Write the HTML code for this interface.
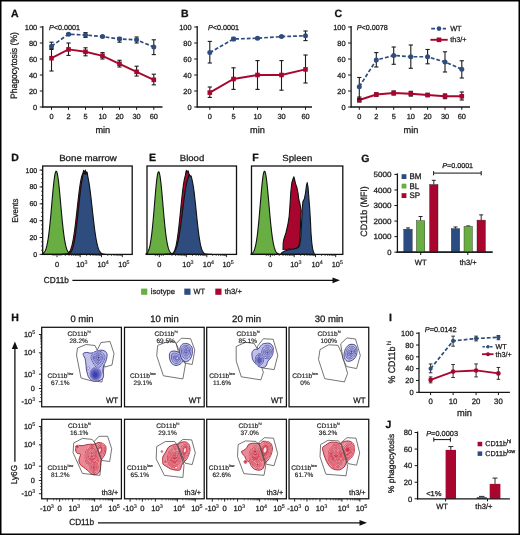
<!DOCTYPE html>
<html><head><meta charset="utf-8"><style>
html,body{margin:0;padding:0;background:#fff;}
svg{display:block;will-change:transform;}
text{font-family:"Liberation Sans", sans-serif;text-rendering:geometricPrecision;}
</style></head><body>
<svg width="520" height="535" viewBox="0 0 520 535">
<rect x="0" y="0" width="520" height="535" fill="#fff"/>
<text x="11.00" y="16.70" font-size="10.5" text-anchor="start" fill="#111" stroke="#111" stroke-width="0.28" font-weight="bold" >A</text>
<line x1="42.80" y1="26.00" x2="42.80" y2="107.60" stroke="#151515" stroke-width="1.3" />
<line x1="42.20" y1="107.00" x2="162.50" y2="107.00" stroke="#151515" stroke-width="1.3" />
<line x1="39.80" y1="107.00" x2="42.80" y2="107.00" stroke="#151515" stroke-width="1.0" />
<text x="37.20" y="109.65" font-size="7.4" text-anchor="end" fill="#1c1c1c" stroke="#1c1c1c" stroke-width="0.26" >0</text>
<line x1="39.80" y1="91.00" x2="42.80" y2="91.00" stroke="#151515" stroke-width="1.0" />
<text x="37.20" y="93.65" font-size="7.4" text-anchor="end" fill="#1c1c1c" stroke="#1c1c1c" stroke-width="0.26" >20</text>
<line x1="39.80" y1="75.00" x2="42.80" y2="75.00" stroke="#151515" stroke-width="1.0" />
<text x="37.20" y="77.65" font-size="7.4" text-anchor="end" fill="#1c1c1c" stroke="#1c1c1c" stroke-width="0.26" >40</text>
<line x1="39.80" y1="59.00" x2="42.80" y2="59.00" stroke="#151515" stroke-width="1.0" />
<text x="37.20" y="61.65" font-size="7.4" text-anchor="end" fill="#1c1c1c" stroke="#1c1c1c" stroke-width="0.26" >60</text>
<line x1="39.80" y1="43.00" x2="42.80" y2="43.00" stroke="#151515" stroke-width="1.0" />
<text x="37.20" y="45.65" font-size="7.4" text-anchor="end" fill="#1c1c1c" stroke="#1c1c1c" stroke-width="0.26" >80</text>
<line x1="39.80" y1="27.00" x2="42.80" y2="27.00" stroke="#151515" stroke-width="1.0" />
<text x="37.20" y="29.65" font-size="7.4" text-anchor="end" fill="#1c1c1c" stroke="#1c1c1c" stroke-width="0.26" >100</text>
<line x1="51.50" y1="107.00" x2="51.50" y2="109.80" stroke="#151515" stroke-width="1.0" />
<text x="51.50" y="119.40" font-size="7.4" text-anchor="middle" fill="#1c1c1c" stroke="#1c1c1c" stroke-width="0.26" >0</text>
<line x1="68.50" y1="107.00" x2="68.50" y2="109.80" stroke="#151515" stroke-width="1.0" />
<text x="68.50" y="119.40" font-size="7.4" text-anchor="middle" fill="#1c1c1c" stroke="#1c1c1c" stroke-width="0.26" >2</text>
<line x1="85.50" y1="107.00" x2="85.50" y2="109.80" stroke="#151515" stroke-width="1.0" />
<text x="85.50" y="119.40" font-size="7.4" text-anchor="middle" fill="#1c1c1c" stroke="#1c1c1c" stroke-width="0.26" >5</text>
<line x1="102.50" y1="107.00" x2="102.50" y2="109.80" stroke="#151515" stroke-width="1.0" />
<text x="102.50" y="119.40" font-size="7.4" text-anchor="middle" fill="#1c1c1c" stroke="#1c1c1c" stroke-width="0.26" >10</text>
<line x1="119.50" y1="107.00" x2="119.50" y2="109.80" stroke="#151515" stroke-width="1.0" />
<text x="119.50" y="119.40" font-size="7.4" text-anchor="middle" fill="#1c1c1c" stroke="#1c1c1c" stroke-width="0.26" >20</text>
<line x1="136.60" y1="107.00" x2="136.60" y2="109.80" stroke="#151515" stroke-width="1.0" />
<text x="136.60" y="119.40" font-size="7.4" text-anchor="middle" fill="#1c1c1c" stroke="#1c1c1c" stroke-width="0.26" >30</text>
<line x1="153.80" y1="107.00" x2="153.80" y2="109.80" stroke="#151515" stroke-width="1.0" />
<text x="153.80" y="119.40" font-size="7.4" text-anchor="middle" fill="#1c1c1c" stroke="#1c1c1c" stroke-width="0.26" >60</text>
<text x="102.80" y="133.00" font-size="9.2" text-anchor="middle" fill="#1c1c1c" stroke="#1c1c1c" stroke-width="0.28" >min</text>
<text x="49.00" y="29.60" font-size="7.2" text-anchor="start" fill="#1c1c1c" stroke="#1c1c1c" stroke-width="0.26" ><tspan font-style="italic">P</tspan>&lt;0.0001</text>
<line x1="51.50" y1="49.40" x2="51.50" y2="71.00" stroke="#1a1a1a" stroke-width="1.1" />
<line x1="49.40" y1="49.40" x2="53.60" y2="49.40" stroke="#1a1a1a" stroke-width="1.1" />
<line x1="49.40" y1="71.00" x2="53.60" y2="71.00" stroke="#1a1a1a" stroke-width="1.1" />
<line x1="68.50" y1="43.00" x2="68.50" y2="55.40" stroke="#1a1a1a" stroke-width="1.1" />
<line x1="66.40" y1="43.00" x2="70.60" y2="43.00" stroke="#1a1a1a" stroke-width="1.1" />
<line x1="66.40" y1="55.40" x2="70.60" y2="55.40" stroke="#1a1a1a" stroke-width="1.1" />
<line x1="85.50" y1="47.80" x2="85.50" y2="55.80" stroke="#1a1a1a" stroke-width="1.1" />
<line x1="83.40" y1="47.80" x2="87.60" y2="47.80" stroke="#1a1a1a" stroke-width="1.1" />
<line x1="83.40" y1="55.80" x2="87.60" y2="55.80" stroke="#1a1a1a" stroke-width="1.1" />
<line x1="102.50" y1="52.60" x2="102.50" y2="59.00" stroke="#1a1a1a" stroke-width="1.1" />
<line x1="100.40" y1="52.60" x2="104.60" y2="52.60" stroke="#1a1a1a" stroke-width="1.1" />
<line x1="100.40" y1="59.00" x2="104.60" y2="59.00" stroke="#1a1a1a" stroke-width="1.1" />
<line x1="119.50" y1="60.28" x2="119.50" y2="67.00" stroke="#1a1a1a" stroke-width="1.1" />
<line x1="117.40" y1="60.28" x2="121.60" y2="60.28" stroke="#1a1a1a" stroke-width="1.1" />
<line x1="117.40" y1="67.00" x2="121.60" y2="67.00" stroke="#1a1a1a" stroke-width="1.1" />
<line x1="136.60" y1="66.20" x2="136.60" y2="76.04" stroke="#1a1a1a" stroke-width="1.1" />
<line x1="134.50" y1="66.20" x2="138.70" y2="66.20" stroke="#1a1a1a" stroke-width="1.1" />
<line x1="134.50" y1="76.04" x2="138.70" y2="76.04" stroke="#1a1a1a" stroke-width="1.1" />
<line x1="153.80" y1="74.20" x2="153.80" y2="84.84" stroke="#1a1a1a" stroke-width="1.1" />
<line x1="151.70" y1="74.20" x2="155.90" y2="74.20" stroke="#1a1a1a" stroke-width="1.1" />
<line x1="151.70" y1="84.84" x2="155.90" y2="84.84" stroke="#1a1a1a" stroke-width="1.1" />
<path d="M51.50,58.20 L68.50,49.40 L85.50,51.80 L102.50,55.80 L119.50,63.80 L136.60,71.80 L153.80,79.80" fill="none" stroke="#a8062e" stroke-width="1.9"/>
<rect x="49.20" y="55.90" width="4.60" height="4.60" fill="#a8062e"/>
<rect x="66.20" y="47.10" width="4.60" height="4.60" fill="#a8062e"/>
<rect x="83.20" y="49.50" width="4.60" height="4.60" fill="#a8062e"/>
<rect x="100.20" y="53.50" width="4.60" height="4.60" fill="#a8062e"/>
<rect x="117.20" y="61.50" width="4.60" height="4.60" fill="#a8062e"/>
<rect x="134.30" y="69.50" width="4.60" height="4.60" fill="#a8062e"/>
<rect x="151.50" y="77.50" width="4.60" height="4.60" fill="#a8062e"/>
<line x1="51.50" y1="42.20" x2="51.50" y2="48.60" stroke="#1a1a1a" stroke-width="1.1" />
<line x1="49.40" y1="42.20" x2="53.60" y2="42.20" stroke="#1a1a1a" stroke-width="1.1" />
<line x1="49.40" y1="48.60" x2="53.60" y2="48.60" stroke="#1a1a1a" stroke-width="1.1" />
<line x1="68.50" y1="33.40" x2="68.50" y2="35.00" stroke="#1a1a1a" stroke-width="1.1" />
<line x1="66.40" y1="33.40" x2="70.60" y2="33.40" stroke="#1a1a1a" stroke-width="1.1" />
<line x1="66.40" y1="35.00" x2="70.60" y2="35.00" stroke="#1a1a1a" stroke-width="1.1" />
<line x1="85.50" y1="32.60" x2="85.50" y2="37.40" stroke="#1a1a1a" stroke-width="1.1" />
<line x1="83.40" y1="32.60" x2="87.60" y2="32.60" stroke="#1a1a1a" stroke-width="1.1" />
<line x1="83.40" y1="37.40" x2="87.60" y2="37.40" stroke="#1a1a1a" stroke-width="1.1" />
<line x1="102.50" y1="35.80" x2="102.50" y2="37.40" stroke="#1a1a1a" stroke-width="1.1" />
<line x1="100.40" y1="35.80" x2="104.60" y2="35.80" stroke="#1a1a1a" stroke-width="1.1" />
<line x1="100.40" y1="37.40" x2="104.60" y2="37.40" stroke="#1a1a1a" stroke-width="1.1" />
<line x1="119.50" y1="37.40" x2="119.50" y2="42.20" stroke="#1a1a1a" stroke-width="1.1" />
<line x1="117.40" y1="37.40" x2="121.60" y2="37.40" stroke="#1a1a1a" stroke-width="1.1" />
<line x1="117.40" y1="42.20" x2="121.60" y2="42.20" stroke="#1a1a1a" stroke-width="1.1" />
<line x1="136.60" y1="37.00" x2="136.60" y2="43.00" stroke="#1a1a1a" stroke-width="1.1" />
<line x1="134.50" y1="37.00" x2="138.70" y2="37.00" stroke="#1a1a1a" stroke-width="1.1" />
<line x1="134.50" y1="43.00" x2="138.70" y2="43.00" stroke="#1a1a1a" stroke-width="1.1" />
<line x1="153.80" y1="39.80" x2="153.80" y2="54.60" stroke="#1a1a1a" stroke-width="1.1" />
<line x1="151.70" y1="39.80" x2="155.90" y2="39.80" stroke="#1a1a1a" stroke-width="1.1" />
<line x1="151.70" y1="54.60" x2="155.90" y2="54.60" stroke="#1a1a1a" stroke-width="1.1" />
<path d="M51.50,46.20 L68.50,34.20 L85.50,35.00 L102.50,36.60 L119.50,39.00 L136.60,39.80 L153.80,47.00" fill="none" stroke="#2e4d7e" stroke-width="1.7" stroke-dasharray="3.8,2.0"/>
<circle cx="51.50" cy="46.20" r="2.5" fill="#2e4d7e"/>
<circle cx="68.50" cy="34.20" r="2.5" fill="#2e4d7e"/>
<circle cx="85.50" cy="35.00" r="2.5" fill="#2e4d7e"/>
<circle cx="102.50" cy="36.60" r="2.5" fill="#2e4d7e"/>
<circle cx="119.50" cy="39.00" r="2.5" fill="#2e4d7e"/>
<circle cx="136.60" cy="39.80" r="2.5" fill="#2e4d7e"/>
<circle cx="153.80" cy="47.00" r="2.5" fill="#2e4d7e"/>
<text x="17.40" y="65.60" font-size="9.3" text-anchor="middle" fill="#1c1c1c" stroke="#1c1c1c" stroke-width="0.28" textLength="67" lengthAdjust="spacingAndGlyphs" transform="rotate(-90 17.40 65.60)" >Phagocytosis (%)</text>
<text x="181.00" y="17.00" font-size="10.5" text-anchor="start" fill="#111" stroke="#111" stroke-width="0.28" font-weight="bold" >B</text>
<line x1="197.20" y1="26.00" x2="197.20" y2="107.60" stroke="#151515" stroke-width="1.3" />
<line x1="196.60" y1="107.00" x2="312.00" y2="107.00" stroke="#151515" stroke-width="1.3" />
<line x1="194.20" y1="107.00" x2="197.20" y2="107.00" stroke="#151515" stroke-width="1.0" />
<text x="191.60" y="109.65" font-size="7.4" text-anchor="end" fill="#1c1c1c" stroke="#1c1c1c" stroke-width="0.26" >0</text>
<line x1="194.20" y1="91.00" x2="197.20" y2="91.00" stroke="#151515" stroke-width="1.0" />
<text x="191.60" y="93.65" font-size="7.4" text-anchor="end" fill="#1c1c1c" stroke="#1c1c1c" stroke-width="0.26" >20</text>
<line x1="194.20" y1="75.00" x2="197.20" y2="75.00" stroke="#151515" stroke-width="1.0" />
<text x="191.60" y="77.65" font-size="7.4" text-anchor="end" fill="#1c1c1c" stroke="#1c1c1c" stroke-width="0.26" >40</text>
<line x1="194.20" y1="59.00" x2="197.20" y2="59.00" stroke="#151515" stroke-width="1.0" />
<text x="191.60" y="61.65" font-size="7.4" text-anchor="end" fill="#1c1c1c" stroke="#1c1c1c" stroke-width="0.26" >60</text>
<line x1="194.20" y1="43.00" x2="197.20" y2="43.00" stroke="#151515" stroke-width="1.0" />
<text x="191.60" y="45.65" font-size="7.4" text-anchor="end" fill="#1c1c1c" stroke="#1c1c1c" stroke-width="0.26" >80</text>
<line x1="194.20" y1="27.00" x2="197.20" y2="27.00" stroke="#151515" stroke-width="1.0" />
<text x="191.60" y="29.65" font-size="7.4" text-anchor="end" fill="#1c1c1c" stroke="#1c1c1c" stroke-width="0.26" >100</text>
<line x1="209.80" y1="107.00" x2="209.80" y2="109.80" stroke="#151515" stroke-width="1.0" />
<text x="209.80" y="119.40" font-size="7.4" text-anchor="middle" fill="#1c1c1c" stroke="#1c1c1c" stroke-width="0.26" >0</text>
<line x1="233.50" y1="107.00" x2="233.50" y2="109.80" stroke="#151515" stroke-width="1.0" />
<text x="233.50" y="119.40" font-size="7.4" text-anchor="middle" fill="#1c1c1c" stroke="#1c1c1c" stroke-width="0.26" >5</text>
<line x1="257.50" y1="107.00" x2="257.50" y2="109.80" stroke="#151515" stroke-width="1.0" />
<text x="257.50" y="119.40" font-size="7.4" text-anchor="middle" fill="#1c1c1c" stroke="#1c1c1c" stroke-width="0.26" >10</text>
<line x1="281.50" y1="107.00" x2="281.50" y2="109.80" stroke="#151515" stroke-width="1.0" />
<text x="281.50" y="119.40" font-size="7.4" text-anchor="middle" fill="#1c1c1c" stroke="#1c1c1c" stroke-width="0.26" >30</text>
<line x1="305.50" y1="107.00" x2="305.50" y2="109.80" stroke="#151515" stroke-width="1.0" />
<text x="305.50" y="119.40" font-size="7.4" text-anchor="middle" fill="#1c1c1c" stroke="#1c1c1c" stroke-width="0.26" >60</text>
<text x="257.50" y="133.00" font-size="9.2" text-anchor="middle" fill="#1c1c1c" stroke="#1c1c1c" stroke-width="0.28" >min</text>
<text x="208.00" y="29.60" font-size="7.2" text-anchor="start" fill="#1c1c1c" stroke="#1c1c1c" stroke-width="0.26" ><tspan font-style="italic">P</tspan>&lt;0.0001</text>
<line x1="209.80" y1="87.00" x2="209.80" y2="97.40" stroke="#1a1a1a" stroke-width="1.1" />
<line x1="207.70" y1="87.00" x2="211.90" y2="87.00" stroke="#1a1a1a" stroke-width="1.1" />
<line x1="207.70" y1="97.40" x2="211.90" y2="97.40" stroke="#1a1a1a" stroke-width="1.1" />
<line x1="233.50" y1="67.80" x2="233.50" y2="89.40" stroke="#1a1a1a" stroke-width="1.1" />
<line x1="231.40" y1="67.80" x2="235.60" y2="67.80" stroke="#1a1a1a" stroke-width="1.1" />
<line x1="231.40" y1="89.40" x2="235.60" y2="89.40" stroke="#1a1a1a" stroke-width="1.1" />
<line x1="257.50" y1="60.60" x2="257.50" y2="89.40" stroke="#1a1a1a" stroke-width="1.1" />
<line x1="255.40" y1="60.60" x2="259.60" y2="60.60" stroke="#1a1a1a" stroke-width="1.1" />
<line x1="255.40" y1="89.40" x2="259.60" y2="89.40" stroke="#1a1a1a" stroke-width="1.1" />
<line x1="281.50" y1="60.60" x2="281.50" y2="90.20" stroke="#1a1a1a" stroke-width="1.1" />
<line x1="279.40" y1="60.60" x2="283.60" y2="60.60" stroke="#1a1a1a" stroke-width="1.1" />
<line x1="279.40" y1="90.20" x2="283.60" y2="90.20" stroke="#1a1a1a" stroke-width="1.1" />
<line x1="305.50" y1="55.00" x2="305.50" y2="83.00" stroke="#1a1a1a" stroke-width="1.1" />
<line x1="303.40" y1="55.00" x2="307.60" y2="55.00" stroke="#1a1a1a" stroke-width="1.1" />
<line x1="303.40" y1="83.00" x2="307.60" y2="83.00" stroke="#1a1a1a" stroke-width="1.1" />
<path d="M209.80,92.60 L233.50,79.00 L257.50,75.00 L281.50,75.00 L305.50,69.40" fill="none" stroke="#a8062e" stroke-width="1.9"/>
<rect x="207.50" y="90.30" width="4.60" height="4.60" fill="#a8062e"/>
<rect x="231.20" y="76.70" width="4.60" height="4.60" fill="#a8062e"/>
<rect x="255.20" y="72.70" width="4.60" height="4.60" fill="#a8062e"/>
<rect x="279.20" y="72.70" width="4.60" height="4.60" fill="#a8062e"/>
<rect x="303.20" y="67.10" width="4.60" height="4.60" fill="#a8062e"/>
<line x1="209.80" y1="41.40" x2="209.80" y2="63.00" stroke="#1a1a1a" stroke-width="1.1" />
<line x1="207.70" y1="41.40" x2="211.90" y2="41.40" stroke="#1a1a1a" stroke-width="1.1" />
<line x1="207.70" y1="63.00" x2="211.90" y2="63.00" stroke="#1a1a1a" stroke-width="1.1" />
<line x1="233.50" y1="37.40" x2="233.50" y2="40.60" stroke="#1a1a1a" stroke-width="1.1" />
<line x1="231.40" y1="37.40" x2="235.60" y2="37.40" stroke="#1a1a1a" stroke-width="1.1" />
<line x1="231.40" y1="40.60" x2="235.60" y2="40.60" stroke="#1a1a1a" stroke-width="1.1" />
<line x1="257.50" y1="37.40" x2="257.50" y2="39.00" stroke="#1a1a1a" stroke-width="1.1" />
<line x1="255.40" y1="37.40" x2="259.60" y2="37.40" stroke="#1a1a1a" stroke-width="1.1" />
<line x1="255.40" y1="39.00" x2="259.60" y2="39.00" stroke="#1a1a1a" stroke-width="1.1" />
<line x1="281.50" y1="35.80" x2="281.50" y2="37.40" stroke="#1a1a1a" stroke-width="1.1" />
<line x1="279.40" y1="35.80" x2="283.60" y2="35.80" stroke="#1a1a1a" stroke-width="1.1" />
<line x1="279.40" y1="37.40" x2="283.60" y2="37.40" stroke="#1a1a1a" stroke-width="1.1" />
<line x1="305.50" y1="31.00" x2="305.50" y2="40.60" stroke="#1a1a1a" stroke-width="1.1" />
<line x1="303.40" y1="31.00" x2="307.60" y2="31.00" stroke="#1a1a1a" stroke-width="1.1" />
<line x1="303.40" y1="40.60" x2="307.60" y2="40.60" stroke="#1a1a1a" stroke-width="1.1" />
<path d="M209.80,52.60 L233.50,39.00 L257.50,38.20 L281.50,36.60 L305.50,35.80" fill="none" stroke="#2e4d7e" stroke-width="1.7" stroke-dasharray="3.8,2.0"/>
<circle cx="209.80" cy="52.60" r="2.5" fill="#2e4d7e"/>
<circle cx="233.50" cy="39.00" r="2.5" fill="#2e4d7e"/>
<circle cx="257.50" cy="38.20" r="2.5" fill="#2e4d7e"/>
<circle cx="281.50" cy="36.60" r="2.5" fill="#2e4d7e"/>
<circle cx="305.50" cy="35.80" r="2.5" fill="#2e4d7e"/>
<text x="334.50" y="17.00" font-size="10.5" text-anchor="start" fill="#111" stroke="#111" stroke-width="0.28" font-weight="bold" >C</text>
<line x1="351.10" y1="26.00" x2="351.10" y2="107.60" stroke="#151515" stroke-width="1.3" />
<line x1="350.50" y1="107.00" x2="470.00" y2="107.00" stroke="#151515" stroke-width="1.3" />
<line x1="348.10" y1="107.00" x2="351.10" y2="107.00" stroke="#151515" stroke-width="1.0" />
<text x="345.50" y="109.65" font-size="7.4" text-anchor="end" fill="#1c1c1c" stroke="#1c1c1c" stroke-width="0.26" >0</text>
<line x1="348.10" y1="91.00" x2="351.10" y2="91.00" stroke="#151515" stroke-width="1.0" />
<text x="345.50" y="93.65" font-size="7.4" text-anchor="end" fill="#1c1c1c" stroke="#1c1c1c" stroke-width="0.26" >20</text>
<line x1="348.10" y1="75.00" x2="351.10" y2="75.00" stroke="#151515" stroke-width="1.0" />
<text x="345.50" y="77.65" font-size="7.4" text-anchor="end" fill="#1c1c1c" stroke="#1c1c1c" stroke-width="0.26" >40</text>
<line x1="348.10" y1="59.00" x2="351.10" y2="59.00" stroke="#151515" stroke-width="1.0" />
<text x="345.50" y="61.65" font-size="7.4" text-anchor="end" fill="#1c1c1c" stroke="#1c1c1c" stroke-width="0.26" >60</text>
<line x1="348.10" y1="43.00" x2="351.10" y2="43.00" stroke="#151515" stroke-width="1.0" />
<text x="345.50" y="45.65" font-size="7.4" text-anchor="end" fill="#1c1c1c" stroke="#1c1c1c" stroke-width="0.26" >80</text>
<line x1="348.10" y1="27.00" x2="351.10" y2="27.00" stroke="#151515" stroke-width="1.0" />
<text x="345.50" y="29.65" font-size="7.4" text-anchor="end" fill="#1c1c1c" stroke="#1c1c1c" stroke-width="0.26" >100</text>
<line x1="359.30" y1="107.00" x2="359.30" y2="109.80" stroke="#151515" stroke-width="1.0" />
<text x="359.30" y="119.40" font-size="7.4" text-anchor="middle" fill="#1c1c1c" stroke="#1c1c1c" stroke-width="0.26" >0</text>
<line x1="376.30" y1="107.00" x2="376.30" y2="109.80" stroke="#151515" stroke-width="1.0" />
<text x="376.30" y="119.40" font-size="7.4" text-anchor="middle" fill="#1c1c1c" stroke="#1c1c1c" stroke-width="0.26" >2</text>
<line x1="393.70" y1="107.00" x2="393.70" y2="109.80" stroke="#151515" stroke-width="1.0" />
<text x="393.70" y="119.40" font-size="7.4" text-anchor="middle" fill="#1c1c1c" stroke="#1c1c1c" stroke-width="0.26" >5</text>
<line x1="410.80" y1="107.00" x2="410.80" y2="109.80" stroke="#151515" stroke-width="1.0" />
<text x="410.80" y="119.40" font-size="7.4" text-anchor="middle" fill="#1c1c1c" stroke="#1c1c1c" stroke-width="0.26" >10</text>
<line x1="427.60" y1="107.00" x2="427.60" y2="109.80" stroke="#151515" stroke-width="1.0" />
<text x="427.60" y="119.40" font-size="7.4" text-anchor="middle" fill="#1c1c1c" stroke="#1c1c1c" stroke-width="0.26" >20</text>
<line x1="445.00" y1="107.00" x2="445.00" y2="109.80" stroke="#151515" stroke-width="1.0" />
<text x="445.00" y="119.40" font-size="7.4" text-anchor="middle" fill="#1c1c1c" stroke="#1c1c1c" stroke-width="0.26" >30</text>
<line x1="461.80" y1="107.00" x2="461.80" y2="109.80" stroke="#151515" stroke-width="1.0" />
<text x="461.80" y="119.40" font-size="7.4" text-anchor="middle" fill="#1c1c1c" stroke="#1c1c1c" stroke-width="0.26" >60</text>
<text x="411.00" y="133.00" font-size="9.2" text-anchor="middle" fill="#1c1c1c" stroke="#1c1c1c" stroke-width="0.28" >min</text>
<text x="356.70" y="29.60" font-size="7.2" text-anchor="start" fill="#1c1c1c" stroke="#1c1c1c" stroke-width="0.26" ><tspan font-style="italic">P</tspan>&lt;0.0078</text>
<line x1="359.30" y1="97.00" x2="359.30" y2="102.00" stroke="#1a1a1a" stroke-width="1.1" />
<line x1="357.20" y1="97.00" x2="361.40" y2="97.00" stroke="#1a1a1a" stroke-width="1.1" />
<line x1="357.20" y1="102.00" x2="361.40" y2="102.00" stroke="#1a1a1a" stroke-width="1.1" />
<line x1="376.30" y1="92.84" x2="376.30" y2="96.20" stroke="#1a1a1a" stroke-width="1.1" />
<line x1="374.20" y1="92.84" x2="378.40" y2="92.84" stroke="#1a1a1a" stroke-width="1.1" />
<line x1="374.20" y1="96.20" x2="378.40" y2="96.20" stroke="#1a1a1a" stroke-width="1.1" />
<line x1="393.70" y1="91.00" x2="393.70" y2="95.00" stroke="#1a1a1a" stroke-width="1.1" />
<line x1="391.60" y1="91.00" x2="395.80" y2="91.00" stroke="#1a1a1a" stroke-width="1.1" />
<line x1="391.60" y1="95.00" x2="395.80" y2="95.00" stroke="#1a1a1a" stroke-width="1.1" />
<line x1="410.80" y1="91.32" x2="410.80" y2="96.12" stroke="#1a1a1a" stroke-width="1.1" />
<line x1="408.70" y1="91.32" x2="412.90" y2="91.32" stroke="#1a1a1a" stroke-width="1.1" />
<line x1="408.70" y1="96.12" x2="412.90" y2="96.12" stroke="#1a1a1a" stroke-width="1.1" />
<line x1="427.60" y1="93.40" x2="427.60" y2="96.60" stroke="#1a1a1a" stroke-width="1.1" />
<line x1="425.50" y1="93.40" x2="429.70" y2="93.40" stroke="#1a1a1a" stroke-width="1.1" />
<line x1="425.50" y1="96.60" x2="429.70" y2="96.60" stroke="#1a1a1a" stroke-width="1.1" />
<line x1="445.00" y1="93.88" x2="445.00" y2="98.68" stroke="#1a1a1a" stroke-width="1.1" />
<line x1="442.90" y1="93.88" x2="447.10" y2="93.88" stroke="#1a1a1a" stroke-width="1.1" />
<line x1="442.90" y1="98.68" x2="447.10" y2="98.68" stroke="#1a1a1a" stroke-width="1.1" />
<line x1="461.80" y1="92.00" x2="461.80" y2="100.00" stroke="#1a1a1a" stroke-width="1.1" />
<line x1="459.70" y1="92.00" x2="463.90" y2="92.00" stroke="#1a1a1a" stroke-width="1.1" />
<line x1="459.70" y1="100.00" x2="463.90" y2="100.00" stroke="#1a1a1a" stroke-width="1.1" />
<path d="M359.30,100.00 L376.30,94.52 L393.70,93.00 L410.80,93.72 L427.60,95.00 L445.00,96.28 L461.80,96.28" fill="none" stroke="#a8062e" stroke-width="1.9"/>
<rect x="357.00" y="97.70" width="4.60" height="4.60" fill="#a8062e"/>
<rect x="374.00" y="92.22" width="4.60" height="4.60" fill="#a8062e"/>
<rect x="391.40" y="90.70" width="4.60" height="4.60" fill="#a8062e"/>
<rect x="408.50" y="91.42" width="4.60" height="4.60" fill="#a8062e"/>
<rect x="425.30" y="92.70" width="4.60" height="4.60" fill="#a8062e"/>
<rect x="442.70" y="93.98" width="4.60" height="4.60" fill="#a8062e"/>
<rect x="459.50" y="93.98" width="4.60" height="4.60" fill="#a8062e"/>
<line x1="359.30" y1="77.48" x2="359.30" y2="99.00" stroke="#1a1a1a" stroke-width="1.1" />
<line x1="357.20" y1="77.48" x2="361.40" y2="77.48" stroke="#1a1a1a" stroke-width="1.1" />
<line x1="357.20" y1="99.00" x2="361.40" y2="99.00" stroke="#1a1a1a" stroke-width="1.1" />
<line x1="376.30" y1="52.60" x2="376.30" y2="67.00" stroke="#1a1a1a" stroke-width="1.1" />
<line x1="374.20" y1="52.60" x2="378.40" y2="52.60" stroke="#1a1a1a" stroke-width="1.1" />
<line x1="374.20" y1="67.00" x2="378.40" y2="67.00" stroke="#1a1a1a" stroke-width="1.1" />
<line x1="393.70" y1="47.00" x2="393.70" y2="64.28" stroke="#1a1a1a" stroke-width="1.1" />
<line x1="391.60" y1="47.00" x2="395.80" y2="47.00" stroke="#1a1a1a" stroke-width="1.1" />
<line x1="391.60" y1="64.28" x2="395.80" y2="64.28" stroke="#1a1a1a" stroke-width="1.1" />
<line x1="410.80" y1="45.00" x2="410.80" y2="68.28" stroke="#1a1a1a" stroke-width="1.1" />
<line x1="408.70" y1="45.00" x2="412.90" y2="45.00" stroke="#1a1a1a" stroke-width="1.1" />
<line x1="408.70" y1="68.28" x2="412.90" y2="68.28" stroke="#1a1a1a" stroke-width="1.1" />
<line x1="427.60" y1="49.48" x2="427.60" y2="63.80" stroke="#1a1a1a" stroke-width="1.1" />
<line x1="425.50" y1="49.48" x2="429.70" y2="49.48" stroke="#1a1a1a" stroke-width="1.1" />
<line x1="425.50" y1="63.80" x2="429.70" y2="63.80" stroke="#1a1a1a" stroke-width="1.1" />
<line x1="445.00" y1="51.80" x2="445.00" y2="72.00" stroke="#1a1a1a" stroke-width="1.1" />
<line x1="442.90" y1="51.80" x2="447.10" y2="51.80" stroke="#1a1a1a" stroke-width="1.1" />
<line x1="442.90" y1="72.00" x2="447.10" y2="72.00" stroke="#1a1a1a" stroke-width="1.1" />
<line x1="461.80" y1="60.76" x2="461.80" y2="78.00" stroke="#1a1a1a" stroke-width="1.1" />
<line x1="459.70" y1="60.76" x2="463.90" y2="60.76" stroke="#1a1a1a" stroke-width="1.1" />
<line x1="459.70" y1="78.00" x2="463.90" y2="78.00" stroke="#1a1a1a" stroke-width="1.1" />
<path d="M359.30,86.76 L376.30,60.00 L393.70,55.48 L410.80,56.76 L427.60,56.76 L445.00,62.00 L461.80,69.24" fill="none" stroke="#2e4d7e" stroke-width="1.7" stroke-dasharray="3.8,2.0"/>
<circle cx="359.30" cy="86.76" r="2.5" fill="#2e4d7e"/>
<circle cx="376.30" cy="60.00" r="2.5" fill="#2e4d7e"/>
<circle cx="393.70" cy="55.48" r="2.5" fill="#2e4d7e"/>
<circle cx="410.80" cy="56.76" r="2.5" fill="#2e4d7e"/>
<circle cx="427.60" cy="56.76" r="2.5" fill="#2e4d7e"/>
<circle cx="445.00" cy="62.00" r="2.5" fill="#2e4d7e"/>
<circle cx="461.80" cy="69.24" r="2.5" fill="#2e4d7e"/>
<line x1="431.2" y1="28.6" x2="446" y2="28.6" stroke="#2e4d7e" stroke-width="1.7" stroke-dasharray="3.8,2.0"/>
<circle cx="439" cy="28.6" r="2.3" fill="#2e4d7e"/>
<text x="450.20" y="31.20" font-size="7.3" text-anchor="start" fill="#1c1c1c" stroke="#1c1c1c" stroke-width="0.26" >WT</text>
<line x1="430.40" y1="39.80" x2="447.70" y2="39.80" stroke="#a8062e" stroke-width="1.9" />
<rect x="436.70" y="37.50" width="4.60" height="4.60" fill="#a8062e"/>
<text x="450.20" y="42.40" font-size="7.3" text-anchor="start" fill="#1c1c1c" stroke="#1c1c1c" stroke-width="0.26" >th3/+</text>
<text x="11.20" y="161.40" font-size="10.5" text-anchor="start" fill="#111" stroke="#111" stroke-width="0.28" font-weight="bold" >D</text>
<path d="M43.00,254.40 L43.00,253.48 L43.29,253.27 L43.58,253.04 L43.88,252.75 L44.17,252.42 L44.46,252.04 L44.75,251.58 L45.04,251.06 L45.33,250.46 L45.62,249.77 L45.92,248.98 L46.21,248.08 L46.50,247.08 L46.79,245.94 L47.08,244.67 L47.38,243.27 L47.67,241.71 L47.96,240.00 L48.25,238.14 L48.54,236.11 L48.83,233.91 L49.12,231.56 L49.42,229.05 L49.71,226.38 L50.00,223.57 L50.29,220.62 L50.58,217.56 L50.88,214.40 L51.17,211.15 L51.46,207.85 L51.75,204.51 L52.04,201.17 L52.33,197.85 L52.62,194.59 L52.92,191.42 L53.21,188.37 L53.50,185.47 L53.79,182.77 L54.08,180.29 L54.38,178.05 L54.67,176.10 L54.96,174.44 L55.25,173.11 L55.54,172.12 L55.83,171.48 L56.12,171.21 L56.42,171.29 L56.71,171.73 L57.00,172.50 L57.29,173.61 L57.58,175.04 L57.88,176.76 L58.17,178.77 L58.46,181.04 L58.75,183.54 L59.04,186.24 L59.33,189.11 L59.62,192.12 L59.92,195.24 L60.21,198.44 L60.50,201.69 L60.79,204.96 L61.08,208.22 L61.38,211.45 L61.67,214.62 L61.96,217.71 L62.25,220.70 L62.54,223.58 L62.83,226.33 L63.12,228.94 L63.42,231.40 L63.71,233.72 L64.00,235.88 L64.29,237.88 L64.58,239.73 L64.88,241.42 L65.17,242.97 L65.46,244.38 L65.75,245.65 L66.04,246.79 L66.33,247.81 L66.62,248.72 L66.92,249.52 L67.21,250.23 L67.50,250.84 L67.79,251.39 L68.08,251.85 L68.38,252.26 L68.67,252.61 L68.96,252.90 L69.25,253.16 L69.54,253.37 L69.83,253.55 L70.12,253.71 L70.42,253.83 L70.71,253.94 L71.00,254.03 L71.29,254.10 L71.58,254.16 L71.88,254.21 L72.17,254.25 L72.46,254.28 L72.75,254.30 L73.04,254.32 L73.33,254.34 L73.62,254.35 L73.92,254.36 L74.21,254.37 L74.50,254.38 L74.79,254.38 L75.08,254.39 L75.38,254.39 L75.67,254.39 L75.96,254.39 L76.25,254.40 L76.54,254.40 L76.83,254.40 L77.12,254.40 L77.42,254.40 L77.71,254.40 L78.00,254.40 L78.00,254.40Z" fill="#69ae42" stroke="#111" stroke-width="1.1" stroke-linejoin="round"/>
<path d="M62.00,254.40 L62.00,254.39 L62.35,254.39 L62.70,254.38 L63.05,254.38 L63.40,254.37 L63.75,254.36 L64.10,254.34 L64.45,254.32 L64.80,254.29 L65.15,254.26 L65.50,254.21 L65.85,254.16 L66.20,254.08 L66.55,253.99 L66.90,253.88 L67.25,253.73 L67.60,253.56 L67.95,253.34 L68.30,253.08 L68.65,252.76 L69.00,252.38 L69.35,251.93 L69.70,251.40 L70.05,250.78 L70.40,250.06 L70.75,249.23 L71.10,248.27 L71.45,247.19 L71.80,245.96 L72.15,244.59 L72.50,243.06 L72.85,241.37 L73.20,239.52 L73.55,237.50 L73.90,235.32 L74.25,232.97 L74.60,230.47 L74.95,227.83 L75.30,225.05 L75.65,222.16 L76.00,219.16 L76.35,216.09 L76.70,212.95 L77.05,209.79 L77.40,206.61 L77.75,203.45 L78.10,200.34 L78.45,197.30 L78.80,194.36 L79.15,191.54 L79.50,188.87 L79.85,186.36 L80.20,184.04 L80.55,181.92 L80.90,180.02 L81.25,178.34 L81.60,176.89 L81.95,175.66 L82.30,174.66 L82.65,173.88 L83.00,173.31 L83.35,172.93 L83.70,172.71 L84.05,172.63 L84.40,172.64 L84.75,172.74 L85.10,173.00 L85.45,173.44 L85.80,174.08 L86.15,174.95 L86.50,176.06 L86.85,177.41 L87.20,179.00 L87.55,180.83 L87.90,182.90 L88.25,185.19 L88.60,187.68 L88.95,190.36 L89.30,193.21 L89.65,196.20 L90.00,199.30 L90.35,202.49 L90.70,205.73 L91.05,209.01 L91.40,212.28 L91.75,215.52 L92.10,218.70 L92.45,221.80 L92.80,224.80 L93.15,227.67 L93.50,230.40 L93.85,232.98 L94.20,235.40 L94.55,237.64 L94.90,239.71 L95.25,241.60 L95.60,243.32 L95.95,244.87 L96.30,246.25 L96.65,247.48 L97.00,248.56 L97.35,249.50 L97.70,250.32 L98.05,251.03 L98.40,251.63 L98.75,252.14 L99.10,252.57 L99.45,252.93 L99.80,253.22 L100.15,253.47 L100.50,253.67 L100.85,253.83 L101.20,253.96 L101.55,254.06 L101.90,254.14 L102.25,254.20 L102.60,254.25 L102.95,254.29 L103.30,254.32 L103.65,254.34 L104.00,254.36 L104.00,254.40Z" fill="#a8062e" stroke="#111" stroke-width="1.1" stroke-linejoin="round"/>
<path d="M64.00,254.40 L64.00,254.39 L64.35,254.39 L64.70,254.38 L65.05,254.38 L65.40,254.37 L65.75,254.35 L66.10,254.34 L66.45,254.31 L66.80,254.28 L67.15,254.24 L67.50,254.19 L67.85,254.12 L68.20,254.04 L68.55,253.93 L68.90,253.79 L69.25,253.62 L69.60,253.40 L69.95,253.14 L70.30,252.82 L70.65,252.43 L71.00,251.97 L71.35,251.42 L71.70,250.77 L72.05,250.01 L72.40,249.12 L72.75,248.11 L73.10,246.94 L73.45,245.62 L73.80,244.14 L74.15,242.48 L74.50,240.65 L74.85,238.63 L75.20,236.43 L75.55,234.06 L75.90,231.51 L76.25,228.80 L76.60,225.93 L76.95,222.94 L77.30,219.82 L77.65,216.62 L78.00,213.34 L78.35,210.02 L78.70,206.70 L79.05,203.39 L79.40,200.13 L79.75,196.96 L80.10,193.89 L80.45,190.96 L80.80,188.20 L81.15,185.63 L81.50,183.27 L81.85,181.13 L82.20,179.20 L82.55,177.32 L82.90,174.97 L83.25,172.04 L83.60,170.25 L83.95,171.39 L84.30,173.81 L84.65,173.89 L85.00,171.32 L85.35,170.11 L85.70,172.33 L86.05,174.53 L86.40,173.66 L86.75,171.91 L87.10,172.15 L87.45,174.11 L87.80,176.32 L88.15,178.21 L88.50,180.00 L88.85,181.92 L89.20,184.04 L89.55,186.36 L89.90,188.87 L90.25,191.54 L90.60,194.36 L90.95,197.30 L91.30,200.34 L91.65,203.45 L92.00,206.61 L92.35,209.79 L92.70,212.95 L93.05,216.09 L93.40,219.16 L93.75,222.16 L94.10,225.05 L94.45,227.83 L94.80,230.47 L95.15,232.97 L95.50,235.32 L95.85,237.50 L96.20,239.52 L96.55,241.37 L96.90,243.06 L97.25,244.59 L97.60,245.96 L97.95,247.19 L98.30,248.27 L98.65,249.23 L99.00,250.06 L99.35,250.78 L99.70,251.40 L100.05,251.93 L100.40,252.38 L100.75,252.76 L101.10,253.08 L101.45,253.34 L101.80,253.56 L102.15,253.73 L102.50,253.88 L102.85,253.99 L103.20,254.08 L103.55,254.16 L103.90,254.21 L104.25,254.26 L104.60,254.29 L104.95,254.32 L105.30,254.34 L105.65,254.36 L106.00,254.37 L106.00,254.40Z" fill="#2e4d7e" stroke="#111" stroke-width="1.1" stroke-linejoin="round"/>
<rect x="42.70" y="166.00" width="89.50" height="88.40" fill="none" stroke="#111" stroke-width="1.3"/>
<text x="88.00" y="160.60" font-size="8.8" text-anchor="middle" fill="#1c1c1c" stroke="#1c1c1c" stroke-width="0.28" textLength="57.7" lengthAdjust="spacingAndGlyphs" >Bone marrow</text>
<line x1="57.00" y1="254.40" x2="57.00" y2="257.20" stroke="#111" stroke-width="0.9" />
<text x="57.00" y="267.20" font-size="7.4" text-anchor="middle" fill="#1c1c1c" stroke="#1c1c1c" stroke-width="0.26" >0</text>
<line x1="80.20" y1="254.40" x2="80.20" y2="257.20" stroke="#111" stroke-width="0.9" />
<text x="81.80" y="267.20" font-size="7.4" text-anchor="middle" fill="#1c1c1c" stroke="#1c1c1c" stroke-width="0.26" >10<tspan font-size="5.33" dy="-2.81" stroke-width="0.14">3</tspan></text>
<line x1="101.50" y1="254.40" x2="101.50" y2="257.20" stroke="#111" stroke-width="0.9" />
<text x="103.10" y="267.20" font-size="7.4" text-anchor="middle" fill="#1c1c1c" stroke="#1c1c1c" stroke-width="0.26" >10<tspan font-size="5.33" dy="-2.81" stroke-width="0.14">4</tspan></text>
<line x1="122.30" y1="254.40" x2="122.30" y2="257.20" stroke="#111" stroke-width="0.9" />
<text x="123.90" y="267.20" font-size="7.4" text-anchor="middle" fill="#1c1c1c" stroke="#1c1c1c" stroke-width="0.26" >10<tspan font-size="5.33" dy="-2.81" stroke-width="0.14">5</tspan></text>
<line x1="86.61" y1="254.40" x2="86.61" y2="256.00" stroke="#222" stroke-width="0.7" />
<line x1="90.36" y1="254.40" x2="90.36" y2="256.00" stroke="#222" stroke-width="0.7" />
<line x1="93.02" y1="254.40" x2="93.02" y2="256.00" stroke="#222" stroke-width="0.7" />
<line x1="95.09" y1="254.40" x2="95.09" y2="256.00" stroke="#222" stroke-width="0.7" />
<line x1="96.77" y1="254.40" x2="96.77" y2="256.00" stroke="#222" stroke-width="0.7" />
<line x1="98.20" y1="254.40" x2="98.20" y2="256.00" stroke="#222" stroke-width="0.7" />
<line x1="99.44" y1="254.40" x2="99.44" y2="256.00" stroke="#222" stroke-width="0.7" />
<line x1="100.53" y1="254.40" x2="100.53" y2="256.00" stroke="#222" stroke-width="0.7" />
<line x1="107.76" y1="254.40" x2="107.76" y2="256.00" stroke="#222" stroke-width="0.7" />
<line x1="111.42" y1="254.40" x2="111.42" y2="256.00" stroke="#222" stroke-width="0.7" />
<line x1="114.02" y1="254.40" x2="114.02" y2="256.00" stroke="#222" stroke-width="0.7" />
<line x1="116.04" y1="254.40" x2="116.04" y2="256.00" stroke="#222" stroke-width="0.7" />
<line x1="117.69" y1="254.40" x2="117.69" y2="256.00" stroke="#222" stroke-width="0.7" />
<line x1="119.08" y1="254.40" x2="119.08" y2="256.00" stroke="#222" stroke-width="0.7" />
<line x1="120.28" y1="254.40" x2="120.28" y2="256.00" stroke="#222" stroke-width="0.7" />
<line x1="121.35" y1="254.40" x2="121.35" y2="256.00" stroke="#222" stroke-width="0.7" />
<line x1="65.31" y1="254.40" x2="65.31" y2="256.00" stroke="#222" stroke-width="0.7" />
<line x1="69.06" y1="254.40" x2="69.06" y2="256.00" stroke="#222" stroke-width="0.7" />
<line x1="71.72" y1="254.40" x2="71.72" y2="256.00" stroke="#222" stroke-width="0.7" />
<line x1="73.79" y1="254.40" x2="73.79" y2="256.00" stroke="#222" stroke-width="0.7" />
<line x1="75.47" y1="254.40" x2="75.47" y2="256.00" stroke="#222" stroke-width="0.7" />
<line x1="76.90" y1="254.40" x2="76.90" y2="256.00" stroke="#222" stroke-width="0.7" />
<line x1="78.14" y1="254.40" x2="78.14" y2="256.00" stroke="#222" stroke-width="0.7" />
<line x1="79.23" y1="254.40" x2="79.23" y2="256.00" stroke="#222" stroke-width="0.7" />
<line x1="53.00" y1="254.40" x2="53.00" y2="256.00" stroke="#222" stroke-width="0.7" />
<line x1="55.00" y1="254.40" x2="55.00" y2="256.00" stroke="#222" stroke-width="0.7" />
<line x1="59.00" y1="254.40" x2="59.00" y2="256.00" stroke="#222" stroke-width="0.7" />
<line x1="61.00" y1="254.40" x2="61.00" y2="256.00" stroke="#222" stroke-width="0.7" />
<line x1="39.60" y1="254.40" x2="42.70" y2="254.40" stroke="#111" stroke-width="0.9" />
<text x="37.20" y="256.90" font-size="7.0" text-anchor="end" fill="#1c1c1c" stroke="#1c1c1c" stroke-width="0.26" >0</text>
<line x1="39.60" y1="237.54" x2="42.70" y2="237.54" stroke="#111" stroke-width="0.9" />
<text x="37.20" y="240.04" font-size="7.0" text-anchor="end" fill="#1c1c1c" stroke="#1c1c1c" stroke-width="0.26" >20</text>
<line x1="39.60" y1="220.68" x2="42.70" y2="220.68" stroke="#111" stroke-width="0.9" />
<text x="37.20" y="223.18" font-size="7.0" text-anchor="end" fill="#1c1c1c" stroke="#1c1c1c" stroke-width="0.26" >40</text>
<line x1="39.60" y1="203.82" x2="42.70" y2="203.82" stroke="#111" stroke-width="0.9" />
<text x="37.20" y="206.32" font-size="7.0" text-anchor="end" fill="#1c1c1c" stroke="#1c1c1c" stroke-width="0.26" >60</text>
<line x1="39.60" y1="186.96" x2="42.70" y2="186.96" stroke="#111" stroke-width="0.9" />
<text x="37.20" y="189.46" font-size="7.0" text-anchor="end" fill="#1c1c1c" stroke="#1c1c1c" stroke-width="0.26" >80</text>
<line x1="39.60" y1="170.10" x2="42.70" y2="170.10" stroke="#111" stroke-width="0.9" />
<text x="37.20" y="172.60" font-size="7.0" text-anchor="end" fill="#1c1c1c" stroke="#1c1c1c" stroke-width="0.26" >100</text>
<line x1="41.00" y1="254.40" x2="42.70" y2="254.40" stroke="#111" stroke-width="0.7" />
<line x1="41.00" y1="250.19" x2="42.70" y2="250.19" stroke="#111" stroke-width="0.7" />
<line x1="41.00" y1="245.97" x2="42.70" y2="245.97" stroke="#111" stroke-width="0.7" />
<line x1="41.00" y1="241.75" x2="42.70" y2="241.75" stroke="#111" stroke-width="0.7" />
<line x1="41.00" y1="237.54" x2="42.70" y2="237.54" stroke="#111" stroke-width="0.7" />
<line x1="41.00" y1="233.32" x2="42.70" y2="233.32" stroke="#111" stroke-width="0.7" />
<line x1="41.00" y1="229.11" x2="42.70" y2="229.11" stroke="#111" stroke-width="0.7" />
<line x1="41.00" y1="224.90" x2="42.70" y2="224.90" stroke="#111" stroke-width="0.7" />
<line x1="41.00" y1="220.68" x2="42.70" y2="220.68" stroke="#111" stroke-width="0.7" />
<line x1="41.00" y1="216.47" x2="42.70" y2="216.47" stroke="#111" stroke-width="0.7" />
<line x1="41.00" y1="212.25" x2="42.70" y2="212.25" stroke="#111" stroke-width="0.7" />
<line x1="41.00" y1="208.03" x2="42.70" y2="208.03" stroke="#111" stroke-width="0.7" />
<line x1="41.00" y1="203.82" x2="42.70" y2="203.82" stroke="#111" stroke-width="0.7" />
<line x1="41.00" y1="199.60" x2="42.70" y2="199.60" stroke="#111" stroke-width="0.7" />
<line x1="41.00" y1="195.39" x2="42.70" y2="195.39" stroke="#111" stroke-width="0.7" />
<line x1="41.00" y1="191.18" x2="42.70" y2="191.18" stroke="#111" stroke-width="0.7" />
<line x1="41.00" y1="186.96" x2="42.70" y2="186.96" stroke="#111" stroke-width="0.7" />
<line x1="41.00" y1="182.75" x2="42.70" y2="182.75" stroke="#111" stroke-width="0.7" />
<line x1="41.00" y1="178.53" x2="42.70" y2="178.53" stroke="#111" stroke-width="0.7" />
<line x1="41.00" y1="174.31" x2="42.70" y2="174.31" stroke="#111" stroke-width="0.7" />
<line x1="41.00" y1="170.10" x2="42.70" y2="170.10" stroke="#111" stroke-width="0.7" />
<text x="17.80" y="210.60" font-size="8.6" text-anchor="middle" fill="#1c1c1c" stroke="#1c1c1c" stroke-width="0.28" textLength="24.2" lengthAdjust="spacingAndGlyphs" transform="rotate(-90 17.80 210.60)" >Events</text>
<text x="149.00" y="160.80" font-size="10.5" text-anchor="start" fill="#111" stroke="#111" stroke-width="0.28" font-weight="bold" >E</text>
<path d="M146.00,254.40 L146.00,253.67 L146.28,253.49 L146.57,253.29 L146.85,253.04 L147.13,252.75 L147.42,252.40 L147.70,251.99 L147.98,251.51 L148.27,250.95 L148.55,250.30 L148.83,249.56 L149.12,248.71 L149.40,247.74 L149.68,246.64 L149.97,245.40 L150.25,244.02 L150.53,242.47 L150.82,240.77 L151.10,238.90 L151.38,236.85 L151.67,234.63 L151.95,232.23 L152.23,229.66 L152.52,226.92 L152.80,224.03 L153.08,220.99 L153.37,217.82 L153.65,214.54 L153.93,211.18 L154.22,207.75 L154.50,204.29 L154.78,200.83 L155.07,197.41 L155.35,194.06 L155.63,190.81 L155.92,187.71 L156.20,184.79 L156.48,182.09 L156.77,179.65 L157.05,177.48 L157.33,175.64 L157.62,174.13 L157.90,172.98 L158.18,172.21 L158.47,171.83 L158.75,171.84 L159.03,172.20 L159.32,172.93 L159.60,173.99 L159.88,175.38 L160.17,177.09 L160.45,179.09 L160.73,181.35 L161.02,183.86 L161.30,186.57 L161.58,189.46 L161.87,192.49 L162.15,195.64 L162.43,198.88 L162.72,202.16 L163.00,205.46 L163.28,208.75 L163.57,212.00 L163.85,215.19 L164.13,218.30 L164.42,221.31 L164.70,224.20 L164.98,226.95 L165.27,229.56 L165.55,232.02 L165.83,234.33 L166.12,236.47 L166.40,238.46 L166.68,240.28 L166.97,241.96 L167.25,243.48 L167.53,244.85 L167.82,246.09 L168.10,247.20 L168.38,248.19 L168.67,249.07 L168.95,249.84 L169.23,250.52 L169.52,251.11 L169.80,251.62 L170.08,252.06 L170.37,252.45 L170.65,252.77 L170.93,253.05 L171.22,253.28 L171.50,253.48 L171.78,253.65 L172.07,253.79 L172.35,253.90 L172.63,254.00 L172.92,254.08 L173.20,254.14 L173.48,254.19 L173.77,254.24 L174.05,254.27 L174.33,254.30 L174.62,254.32 L174.90,254.34 L175.18,254.35 L175.47,254.36 L175.75,254.37 L176.03,254.38 L176.32,254.38 L176.60,254.39 L176.88,254.39 L177.17,254.39 L177.45,254.39 L177.73,254.40 L178.02,254.40 L178.30,254.40 L178.58,254.40 L178.87,254.40 L179.15,254.40 L179.43,254.40 L179.72,254.40 L180.00,254.40 L180.00,254.40Z" fill="#69ae42" stroke="#111" stroke-width="1.1" stroke-linejoin="round"/>
<path d="M164.00,254.40 L164.00,254.40 L164.37,254.40 L164.73,254.40 L165.10,254.40 L165.47,254.40 L165.83,254.40 L166.20,254.40 L166.57,254.40 L166.93,254.40 L167.30,254.39 L167.67,254.39 L168.03,254.39 L168.40,254.38 L168.77,254.37 L169.13,254.36 L169.50,254.34 L169.87,254.31 L170.23,254.27 L170.60,254.22 L170.97,254.14 L171.33,254.04 L171.70,253.91 L172.07,253.74 L172.43,253.52 L172.80,253.24 L173.17,252.88 L173.53,252.43 L173.90,251.88 L174.27,251.21 L174.63,250.40 L175.00,249.43 L175.37,248.29 L175.73,246.96 L176.10,245.42 L176.47,243.67 L176.83,241.70 L177.20,239.49 L177.57,237.06 L177.93,234.40 L178.30,231.53 L178.67,228.46 L179.03,225.21 L179.40,221.81 L179.77,218.29 L180.13,214.68 L180.50,211.03 L180.87,207.37 L181.23,203.75 L181.60,200.20 L181.97,196.77 L182.33,193.49 L182.70,190.40 L183.07,187.52 L183.43,184.89 L183.80,182.53 L184.17,180.43 L184.53,178.62 L184.90,177.08 L185.27,175.72 L185.63,174.04 L186.00,171.65 L186.37,170.38 L186.73,171.44 L187.10,172.47 L187.47,172.00 L187.83,170.82 L188.20,171.00 L188.57,172.51 L188.93,173.70 L189.30,174.56 L189.67,175.56 L190.03,176.85 L190.40,178.47 L190.77,180.42 L191.13,182.70 L191.50,185.30 L191.87,188.20 L192.23,191.38 L192.60,194.81 L192.97,198.44 L193.33,202.23 L193.70,206.13 L194.07,210.09 L194.43,214.05 L194.80,217.97 L195.17,221.78 L195.53,225.46 L195.90,228.96 L196.27,232.25 L196.63,235.29 L197.00,238.08 L197.37,240.61 L197.73,242.86 L198.10,244.85 L198.47,246.58 L198.83,248.07 L199.20,249.33 L199.57,250.39 L199.93,251.26 L200.30,251.97 L200.67,252.55 L201.03,253.00 L201.40,253.36 L201.77,253.64 L202.13,253.85 L202.50,254.00 L202.87,254.12 L203.23,254.20 L203.60,254.27 L203.97,254.31 L204.33,254.34 L204.70,254.36 L205.07,254.37 L205.43,254.38 L205.80,254.39 L206.17,254.39 L206.53,254.40 L206.90,254.40 L207.27,254.40 L207.63,254.40 L208.00,254.40 L208.00,254.40Z" fill="#a8062e" stroke="#111" stroke-width="1.1" stroke-linejoin="round"/>
<path d="M166.00,254.40 L166.00,254.39 L166.38,254.39 L166.77,254.39 L167.15,254.39 L167.53,254.38 L167.92,254.37 L168.30,254.36 L168.68,254.34 L169.07,254.32 L169.45,254.30 L169.83,254.26 L170.22,254.22 L170.60,254.16 L170.98,254.08 L171.37,253.99 L171.75,253.87 L172.13,253.72 L172.52,253.54 L172.90,253.31 L173.28,253.03 L173.67,252.70 L174.05,252.30 L174.43,251.82 L174.82,251.26 L175.20,250.60 L175.58,249.83 L175.97,248.94 L176.35,247.93 L176.73,246.77 L177.12,245.47 L177.50,244.01 L177.88,242.40 L178.27,240.61 L178.65,238.66 L179.03,236.54 L179.42,234.26 L179.80,231.83 L180.18,229.24 L180.57,226.52 L180.95,223.68 L181.33,220.74 L181.72,217.73 L182.10,214.65 L182.48,211.55 L182.87,208.44 L183.25,205.35 L183.63,202.32 L184.02,199.37 L184.40,196.52 L184.78,193.81 L185.17,191.25 L185.55,188.88 L185.93,186.69 L186.32,184.72 L186.70,182.97 L187.08,181.44 L187.47,180.13 L187.85,178.93 L188.23,177.54 L188.62,175.90 L189.00,174.88 L189.38,175.22 L189.77,176.06 L190.15,176.32 L190.53,175.95 L190.92,175.77 L191.30,176.61 L191.68,178.20 L192.07,179.88 L192.45,181.57 L192.83,183.49 L193.22,185.72 L193.60,188.26 L193.98,191.09 L194.37,194.18 L194.75,197.49 L195.13,200.99 L195.52,204.62 L195.90,208.33 L196.28,212.09 L196.67,215.83 L197.05,219.51 L197.43,223.09 L197.82,226.53 L198.20,229.79 L198.58,232.86 L198.97,235.70 L199.35,238.31 L199.73,240.68 L200.12,242.80 L200.50,244.69 L200.88,246.34 L201.27,247.78 L201.65,249.01 L202.03,250.05 L202.42,250.93 L202.80,251.66 L203.18,252.25 L203.57,252.74 L203.95,253.13 L204.33,253.43 L204.72,253.67 L205.10,253.86 L205.48,254.00 L205.87,254.11 L206.25,254.19 L206.63,254.25 L207.02,254.30 L207.40,254.33 L207.78,254.35 L208.17,254.37 L208.55,254.38 L208.93,254.39 L209.32,254.39 L209.70,254.39 L210.08,254.40 L210.47,254.40 L210.85,254.40 L211.23,254.40 L211.62,254.40 L212.00,254.40 L212.00,254.40Z" fill="#2e4d7e" stroke="#111" stroke-width="1.1" stroke-linejoin="round"/>
<rect x="147.00" y="166.00" width="89.50" height="88.40" fill="none" stroke="#111" stroke-width="1.3"/>
<text x="192.00" y="160.60" font-size="8.8" text-anchor="middle" fill="#1c1c1c" stroke="#1c1c1c" stroke-width="0.28" textLength="24.4" lengthAdjust="spacingAndGlyphs" >Blood</text>
<line x1="159.30" y1="254.40" x2="159.30" y2="257.20" stroke="#111" stroke-width="0.9" />
<text x="159.30" y="267.20" font-size="7.4" text-anchor="middle" fill="#1c1c1c" stroke="#1c1c1c" stroke-width="0.26" >0</text>
<line x1="186.30" y1="254.40" x2="186.30" y2="257.20" stroke="#111" stroke-width="0.9" />
<text x="187.90" y="267.20" font-size="7.4" text-anchor="middle" fill="#1c1c1c" stroke="#1c1c1c" stroke-width="0.26" >10<tspan font-size="5.33" dy="-2.81" stroke-width="0.14">3</tspan></text>
<line x1="206.80" y1="254.40" x2="206.80" y2="257.20" stroke="#111" stroke-width="0.9" />
<text x="208.40" y="267.20" font-size="7.4" text-anchor="middle" fill="#1c1c1c" stroke="#1c1c1c" stroke-width="0.26" >10<tspan font-size="5.33" dy="-2.81" stroke-width="0.14">4</tspan></text>
<line x1="226.40" y1="254.40" x2="226.40" y2="257.20" stroke="#111" stroke-width="0.9" />
<text x="228.00" y="267.20" font-size="7.4" text-anchor="middle" fill="#1c1c1c" stroke="#1c1c1c" stroke-width="0.26" >10<tspan font-size="5.33" dy="-2.81" stroke-width="0.14">5</tspan></text>
<line x1="192.47" y1="254.40" x2="192.47" y2="256.00" stroke="#222" stroke-width="0.7" />
<line x1="196.08" y1="254.40" x2="196.08" y2="256.00" stroke="#222" stroke-width="0.7" />
<line x1="198.64" y1="254.40" x2="198.64" y2="256.00" stroke="#222" stroke-width="0.7" />
<line x1="200.63" y1="254.40" x2="200.63" y2="256.00" stroke="#222" stroke-width="0.7" />
<line x1="202.25" y1="254.40" x2="202.25" y2="256.00" stroke="#222" stroke-width="0.7" />
<line x1="203.62" y1="254.40" x2="203.62" y2="256.00" stroke="#222" stroke-width="0.7" />
<line x1="204.81" y1="254.40" x2="204.81" y2="256.00" stroke="#222" stroke-width="0.7" />
<line x1="205.86" y1="254.40" x2="205.86" y2="256.00" stroke="#222" stroke-width="0.7" />
<line x1="212.70" y1="254.40" x2="212.70" y2="256.00" stroke="#222" stroke-width="0.7" />
<line x1="216.15" y1="254.40" x2="216.15" y2="256.00" stroke="#222" stroke-width="0.7" />
<line x1="218.60" y1="254.40" x2="218.60" y2="256.00" stroke="#222" stroke-width="0.7" />
<line x1="220.50" y1="254.40" x2="220.50" y2="256.00" stroke="#222" stroke-width="0.7" />
<line x1="222.05" y1="254.40" x2="222.05" y2="256.00" stroke="#222" stroke-width="0.7" />
<line x1="223.36" y1="254.40" x2="223.36" y2="256.00" stroke="#222" stroke-width="0.7" />
<line x1="224.50" y1="254.40" x2="224.50" y2="256.00" stroke="#222" stroke-width="0.7" />
<line x1="225.50" y1="254.40" x2="225.50" y2="256.00" stroke="#222" stroke-width="0.7" />
<line x1="171.97" y1="254.40" x2="171.97" y2="256.00" stroke="#222" stroke-width="0.7" />
<line x1="175.58" y1="254.40" x2="175.58" y2="256.00" stroke="#222" stroke-width="0.7" />
<line x1="178.14" y1="254.40" x2="178.14" y2="256.00" stroke="#222" stroke-width="0.7" />
<line x1="180.13" y1="254.40" x2="180.13" y2="256.00" stroke="#222" stroke-width="0.7" />
<line x1="181.75" y1="254.40" x2="181.75" y2="256.00" stroke="#222" stroke-width="0.7" />
<line x1="183.12" y1="254.40" x2="183.12" y2="256.00" stroke="#222" stroke-width="0.7" />
<line x1="184.31" y1="254.40" x2="184.31" y2="256.00" stroke="#222" stroke-width="0.7" />
<line x1="185.36" y1="254.40" x2="185.36" y2="256.00" stroke="#222" stroke-width="0.7" />
<line x1="155.30" y1="254.40" x2="155.30" y2="256.00" stroke="#222" stroke-width="0.7" />
<line x1="157.30" y1="254.40" x2="157.30" y2="256.00" stroke="#222" stroke-width="0.7" />
<line x1="161.30" y1="254.40" x2="161.30" y2="256.00" stroke="#222" stroke-width="0.7" />
<line x1="163.30" y1="254.40" x2="163.30" y2="256.00" stroke="#222" stroke-width="0.7" />
<text x="252.30" y="161.00" font-size="10.5" text-anchor="start" fill="#111" stroke="#111" stroke-width="0.28" font-weight="bold" >F</text>
<path d="M251.00,254.40 L251.00,253.93 L251.28,253.82 L251.55,253.68 L251.82,253.52 L252.10,253.33 L252.38,253.11 L252.65,252.85 L252.93,252.53 L253.20,252.17 L253.47,251.75 L253.75,251.26 L254.03,250.69 L254.30,250.04 L254.57,249.30 L254.85,248.46 L255.12,247.51 L255.40,246.44 L255.68,245.25 L255.95,243.92 L256.23,242.45 L256.50,240.84 L256.77,239.07 L257.05,237.15 L257.32,235.06 L257.60,232.82 L257.88,230.42 L258.15,227.87 L258.43,225.17 L258.70,222.33 L258.98,219.38 L259.25,216.31 L259.52,213.15 L259.80,209.91 L260.07,206.64 L260.35,203.33 L260.62,200.04 L260.90,196.78 L261.18,193.58 L261.45,190.48 L261.73,187.51 L262.00,184.70 L262.27,182.09 L262.55,179.70 L262.82,177.56 L263.10,175.69 L263.38,174.13 L263.65,172.88 L263.93,171.97 L264.20,171.41 L264.48,171.20 L264.75,171.33 L265.02,171.79 L265.30,172.56 L265.57,173.64 L265.85,175.02 L266.12,176.68 L266.40,178.60 L266.68,180.76 L266.95,183.14 L267.23,185.72 L267.50,188.45 L267.77,191.33 L268.05,194.31 L268.32,197.38 L268.60,200.50 L268.88,203.65 L269.15,206.80 L269.43,209.93 L269.70,213.01 L269.98,216.04 L270.25,218.98 L270.52,221.82 L270.80,224.55 L271.07,227.16 L271.35,229.63 L271.62,231.97 L271.90,234.17 L272.18,236.23 L272.45,238.14 L272.73,239.90 L273.00,241.52 L273.27,243.01 L273.55,244.37 L273.82,245.59 L274.10,246.70 L274.38,247.70 L274.65,248.58 L274.93,249.37 L275.20,250.07 L275.48,250.69 L275.75,251.23 L276.02,251.71 L276.30,252.12 L276.57,252.47 L276.85,252.78 L277.12,253.04 L277.40,253.27 L277.68,253.46 L277.95,253.62 L278.23,253.76 L278.50,253.87 L278.77,253.97 L279.05,254.05 L279.32,254.11 L279.60,254.17 L279.88,254.21 L280.15,254.25 L280.43,254.28 L280.70,254.31 L280.98,254.32 L281.25,254.34 L281.52,254.35 L281.80,254.36 L282.07,254.37 L282.35,254.38 L282.62,254.38 L282.90,254.39 L283.18,254.39 L283.45,254.39 L283.73,254.39 L284.00,254.40 L284.00,254.40Z" fill="#69ae42" stroke="#111" stroke-width="1.1" stroke-linejoin="round"/>
<path d="M280.50,254.40 L282.00,252.50 L285.00,251.00 L290.00,249.50 L296.00,248.50 L299.50,246.00 L300.80,238.00 L301.50,225.00 L302.20,210.00 L302.90,201.50 L304.30,199.00 L305.50,193.00 L306.40,186.00 L307.20,182.60 L308.00,187.00 L308.80,197.00 L309.80,210.00 L310.50,222.00 L311.00,233.00 L311.80,243.00 L312.80,250.00 L314.50,254.40Z" fill="#2e4d7e" stroke="#111" stroke-width="1.1" stroke-linejoin="round"/>
<path d="M283.00,249.50 L283.20,243.00 L283.80,239.50 L285.90,233.00 L287.80,225.00 L289.20,216.00 L290.00,205.00 L290.80,192.00 L291.80,183.00 L293.00,179.00 L293.90,176.80 L294.80,180.50 L295.60,184.00 L296.90,187.50 L298.00,193.00 L298.80,199.50 L300.20,205.00 L301.20,211.00 L300.60,220.00 L300.30,232.00 L299.80,241.00 L298.30,247.50 L294.00,248.80 L289.00,249.00 L285.50,249.80Z" fill="#a8062e" stroke="#111" stroke-width="1.1" stroke-linejoin="round"/>
<rect x="251.5" y="166.0" width="91.3" height="88.4" fill="none" stroke="#111" stroke-width="1.3"/>
<text x="297.30" y="160.60" font-size="8.8" text-anchor="middle" fill="#1c1c1c" stroke="#1c1c1c" stroke-width="0.28" textLength="30" lengthAdjust="spacingAndGlyphs" >Spleen</text>
<line x1="270.30" y1="254.40" x2="270.30" y2="257.20" stroke="#111" stroke-width="0.9" />
<text x="270.30" y="267.20" font-size="7.4" text-anchor="middle" fill="#1c1c1c" stroke="#1c1c1c" stroke-width="0.26" >0</text>
<line x1="294.20" y1="254.40" x2="294.20" y2="257.20" stroke="#111" stroke-width="0.9" />
<text x="295.80" y="267.20" font-size="7.4" text-anchor="middle" fill="#1c1c1c" stroke="#1c1c1c" stroke-width="0.26" >10<tspan font-size="5.33" dy="-2.81" stroke-width="0.14">3</tspan></text>
<line x1="315.50" y1="254.40" x2="315.50" y2="257.20" stroke="#111" stroke-width="0.9" />
<text x="317.10" y="267.20" font-size="7.4" text-anchor="middle" fill="#1c1c1c" stroke="#1c1c1c" stroke-width="0.26" >10<tspan font-size="5.33" dy="-2.81" stroke-width="0.14">4</tspan></text>
<line x1="335.70" y1="254.40" x2="335.70" y2="257.20" stroke="#111" stroke-width="0.9" />
<text x="337.30" y="267.20" font-size="7.4" text-anchor="middle" fill="#1c1c1c" stroke="#1c1c1c" stroke-width="0.26" >10<tspan font-size="5.33" dy="-2.81" stroke-width="0.14">5</tspan></text>
<line x1="300.61" y1="254.40" x2="300.61" y2="256.00" stroke="#222" stroke-width="0.7" />
<line x1="304.36" y1="254.40" x2="304.36" y2="256.00" stroke="#222" stroke-width="0.7" />
<line x1="307.02" y1="254.40" x2="307.02" y2="256.00" stroke="#222" stroke-width="0.7" />
<line x1="309.09" y1="254.40" x2="309.09" y2="256.00" stroke="#222" stroke-width="0.7" />
<line x1="310.77" y1="254.40" x2="310.77" y2="256.00" stroke="#222" stroke-width="0.7" />
<line x1="312.20" y1="254.40" x2="312.20" y2="256.00" stroke="#222" stroke-width="0.7" />
<line x1="313.44" y1="254.40" x2="313.44" y2="256.00" stroke="#222" stroke-width="0.7" />
<line x1="314.53" y1="254.40" x2="314.53" y2="256.00" stroke="#222" stroke-width="0.7" />
<line x1="321.58" y1="254.40" x2="321.58" y2="256.00" stroke="#222" stroke-width="0.7" />
<line x1="325.14" y1="254.40" x2="325.14" y2="256.00" stroke="#222" stroke-width="0.7" />
<line x1="327.66" y1="254.40" x2="327.66" y2="256.00" stroke="#222" stroke-width="0.7" />
<line x1="329.62" y1="254.40" x2="329.62" y2="256.00" stroke="#222" stroke-width="0.7" />
<line x1="331.22" y1="254.40" x2="331.22" y2="256.00" stroke="#222" stroke-width="0.7" />
<line x1="332.57" y1="254.40" x2="332.57" y2="256.00" stroke="#222" stroke-width="0.7" />
<line x1="333.74" y1="254.40" x2="333.74" y2="256.00" stroke="#222" stroke-width="0.7" />
<line x1="334.78" y1="254.40" x2="334.78" y2="256.00" stroke="#222" stroke-width="0.7" />
<line x1="266.30" y1="254.40" x2="266.30" y2="256.00" stroke="#222" stroke-width="0.7" />
<line x1="268.30" y1="254.40" x2="268.30" y2="256.00" stroke="#222" stroke-width="0.7" />
<line x1="272.30" y1="254.40" x2="272.30" y2="256.00" stroke="#222" stroke-width="0.7" />
<line x1="274.30" y1="254.40" x2="274.30" y2="256.00" stroke="#222" stroke-width="0.7" />
<line x1="279.31" y1="254.40" x2="279.31" y2="256.00" stroke="#222" stroke-width="0.7" />
<line x1="283.06" y1="254.40" x2="283.06" y2="256.00" stroke="#222" stroke-width="0.7" />
<line x1="285.72" y1="254.40" x2="285.72" y2="256.00" stroke="#222" stroke-width="0.7" />
<line x1="287.79" y1="254.40" x2="287.79" y2="256.00" stroke="#222" stroke-width="0.7" />
<line x1="289.47" y1="254.40" x2="289.47" y2="256.00" stroke="#222" stroke-width="0.7" />
<line x1="290.90" y1="254.40" x2="290.90" y2="256.00" stroke="#222" stroke-width="0.7" />
<line x1="292.14" y1="254.40" x2="292.14" y2="256.00" stroke="#222" stroke-width="0.7" />
<line x1="293.23" y1="254.40" x2="293.23" y2="256.00" stroke="#222" stroke-width="0.7" />
<text x="43.80" y="283.00" font-size="8.6" text-anchor="start" fill="#1c1c1c" stroke="#1c1c1c" stroke-width="0.28" textLength="25.0" lengthAdjust="spacingAndGlyphs" >CD11b</text>
<line x1="72.40" y1="280.30" x2="334.00" y2="280.30" stroke="#111" stroke-width="1.3" />
<path d="M340,280.3 L332.5,277.4 L332.5,283.2 Z" fill="#111"/>
<rect x="141.10" y="288.60" width="6.20" height="6.20" fill="#69ae42"/>
<text x="150.80" y="294.40" font-size="7.6" text-anchor="start" fill="#1c1c1c" stroke="#1c1c1c" stroke-width="0.26" textLength="24.2" lengthAdjust="spacingAndGlyphs" >isotype</text>
<rect x="184.30" y="288.60" width="6.20" height="6.20" fill="#2b4c80"/>
<text x="193.50" y="294.40" font-size="7.6" text-anchor="start" fill="#1c1c1c" stroke="#1c1c1c" stroke-width="0.26" textLength="11.5" lengthAdjust="spacingAndGlyphs" >WT</text>
<rect x="215.30" y="288.60" width="6.20" height="6.20" fill="#a8062e"/>
<text x="224.70" y="294.40" font-size="7.6" text-anchor="start" fill="#1c1c1c" stroke="#1c1c1c" stroke-width="0.26" textLength="17.3" lengthAdjust="spacingAndGlyphs" >th3/+</text>
<text x="361.30" y="161.60" font-size="10.5" text-anchor="start" fill="#111" stroke="#111" stroke-width="0.28" font-weight="bold" >G</text>
<line x1="397.40" y1="173.40" x2="397.40" y2="252.80" stroke="#151515" stroke-width="1.3" />
<line x1="396.80" y1="252.20" x2="492.60" y2="252.20" stroke="#151515" stroke-width="1.3" />
<line x1="394.40" y1="252.20" x2="397.40" y2="252.20" stroke="#151515" stroke-width="1.0" />
<text x="391.40" y="254.90" font-size="7.6" text-anchor="end" fill="#1c1c1c" stroke="#1c1c1c" stroke-width="0.26" >0</text>
<line x1="394.40" y1="236.64" x2="397.40" y2="236.64" stroke="#151515" stroke-width="1.0" />
<text x="391.40" y="239.34" font-size="7.6" text-anchor="end" fill="#1c1c1c" stroke="#1c1c1c" stroke-width="0.26" textLength="18.0" lengthAdjust="spacingAndGlyphs" >1000</text>
<line x1="394.40" y1="221.08" x2="397.40" y2="221.08" stroke="#151515" stroke-width="1.0" />
<text x="391.40" y="223.78" font-size="7.6" text-anchor="end" fill="#1c1c1c" stroke="#1c1c1c" stroke-width="0.26" textLength="18.0" lengthAdjust="spacingAndGlyphs" >2000</text>
<line x1="394.40" y1="205.52" x2="397.40" y2="205.52" stroke="#151515" stroke-width="1.0" />
<text x="391.40" y="208.22" font-size="7.6" text-anchor="end" fill="#1c1c1c" stroke="#1c1c1c" stroke-width="0.26" textLength="18.0" lengthAdjust="spacingAndGlyphs" >3000</text>
<line x1="394.40" y1="189.96" x2="397.40" y2="189.96" stroke="#151515" stroke-width="1.0" />
<text x="391.40" y="192.66" font-size="7.6" text-anchor="end" fill="#1c1c1c" stroke="#1c1c1c" stroke-width="0.26" textLength="18.0" lengthAdjust="spacingAndGlyphs" >4000</text>
<line x1="394.40" y1="174.40" x2="397.40" y2="174.40" stroke="#151515" stroke-width="1.0" />
<text x="391.40" y="177.10" font-size="7.6" text-anchor="end" fill="#1c1c1c" stroke="#1c1c1c" stroke-width="0.26" textLength="18.0" lengthAdjust="spacingAndGlyphs" >5000</text>
<text x="366.60" y="211.50" font-size="9.2" text-anchor="middle" fill="#1c1c1c" stroke="#1c1c1c" stroke-width="0.28" textLength="50.5" lengthAdjust="spacingAndGlyphs" transform="rotate(-90 366.60 211.50)" >CD11b (MFI)</text>
<line x1="408.00" y1="227.93" x2="408.00" y2="229.17" stroke="#111" stroke-width="0.9" />
<line x1="406.00" y1="227.93" x2="410.00" y2="227.93" stroke="#111" stroke-width="0.9" />
<rect x="403.80" y="229.17" width="8.40" height="23.03" fill="#2b4c80" stroke="#222" stroke-width="0.4"/>
<line x1="420.60" y1="216.51" x2="420.60" y2="220.71" stroke="#111" stroke-width="0.9" />
<line x1="418.60" y1="216.51" x2="422.60" y2="216.51" stroke="#111" stroke-width="0.9" />
<rect x="416.40" y="220.71" width="8.40" height="31.49" fill="#69ae42" stroke="#222" stroke-width="0.4"/>
<line x1="433.80" y1="180.31" x2="433.80" y2="184.51" stroke="#111" stroke-width="0.9" />
<line x1="431.80" y1="180.31" x2="435.80" y2="180.31" stroke="#111" stroke-width="0.9" />
<rect x="429.60" y="184.51" width="8.40" height="67.69" fill="#a8062e" stroke="#222" stroke-width="0.4"/>
<line x1="455.50" y1="226.99" x2="455.50" y2="228.60" stroke="#111" stroke-width="0.9" />
<line x1="453.50" y1="226.99" x2="457.50" y2="226.99" stroke="#111" stroke-width="0.9" />
<rect x="451.30" y="228.60" width="8.40" height="23.60" fill="#2b4c80" stroke="#222" stroke-width="0.4"/>
<line x1="468.20" y1="225.90" x2="468.20" y2="226.40" stroke="#111" stroke-width="0.9" />
<line x1="466.20" y1="225.90" x2="470.20" y2="225.90" stroke="#111" stroke-width="0.9" />
<rect x="464.00" y="226.40" width="8.40" height="25.80" fill="#69ae42" stroke="#222" stroke-width="0.4"/>
<line x1="481.20" y1="214.86" x2="481.20" y2="220.10" stroke="#111" stroke-width="0.9" />
<line x1="479.20" y1="214.86" x2="483.20" y2="214.86" stroke="#111" stroke-width="0.9" />
<rect x="477.00" y="220.10" width="8.40" height="32.10" fill="#a8062e" stroke="#222" stroke-width="0.4"/>
<line x1="396.80" y1="252.20" x2="492.60" y2="252.20" stroke="#151515" stroke-width="1.3" />
<line x1="420.70" y1="252.20" x2="420.70" y2="255.00" stroke="#151515" stroke-width="1.0" />
<line x1="467.80" y1="252.20" x2="467.80" y2="255.00" stroke="#151515" stroke-width="1.0" />
<text x="420.70" y="265.30" font-size="7.6" text-anchor="middle" fill="#1c1c1c" stroke="#1c1c1c" stroke-width="0.26" >WT</text>
<text x="468.20" y="265.30" font-size="7.6" text-anchor="middle" fill="#1c1c1c" stroke="#1c1c1c" stroke-width="0.26" textLength="16.9" lengthAdjust="spacingAndGlyphs" >th3/+</text>
<rect x="401.60" y="174.20" width="4.80" height="4.80" fill="#2b4c80"/>
<text x="409.40" y="179.40" font-size="8.0" text-anchor="start" fill="#1c1c1c" stroke="#1c1c1c" stroke-width="0.28" >BM</text>
<rect x="401.60" y="183.70" width="4.80" height="4.80" fill="#69ae42"/>
<text x="409.40" y="188.90" font-size="8.0" text-anchor="start" fill="#1c1c1c" stroke="#1c1c1c" stroke-width="0.28" >BL</text>
<rect x="401.60" y="193.20" width="4.80" height="4.80" fill="#a8062e"/>
<text x="409.40" y="198.40" font-size="8.0" text-anchor="start" fill="#1c1c1c" stroke="#1c1c1c" stroke-width="0.28" >SP</text>
<line x1="433.60" y1="173.10" x2="481.20" y2="173.10" stroke="#111" stroke-width="1.0" />
<line x1="433.60" y1="171.00" x2="433.60" y2="175.40" stroke="#111" stroke-width="0.9" />
<line x1="481.20" y1="171.00" x2="481.20" y2="175.40" stroke="#111" stroke-width="1.0" />
<text x="442.30" y="167.80" font-size="7.0" text-anchor="start" fill="#1c1c1c" stroke="#1c1c1c" stroke-width="0.26" textLength="30.8" lengthAdjust="spacingAndGlyphs" ><tspan font-style="italic">P</tspan>=0.0001</text>
<text x="11.30" y="320.90" font-size="10.5" text-anchor="start" fill="#111" stroke="#111" stroke-width="0.28" font-weight="bold" >H</text>
<text x="82.00" y="321.80" font-size="9.4" text-anchor="middle" fill="#1c1c1c" stroke="#1c1c1c" stroke-width="0.28" textLength="23.1" lengthAdjust="spacingAndGlyphs" >0 min</text>
<text x="164.50" y="321.80" font-size="9.4" text-anchor="middle" fill="#1c1c1c" stroke="#1c1c1c" stroke-width="0.28" textLength="28.3" lengthAdjust="spacingAndGlyphs" >10 min</text>
<text x="246.60" y="321.80" font-size="9.4" text-anchor="middle" fill="#1c1c1c" stroke="#1c1c1c" stroke-width="0.28" textLength="29.0" lengthAdjust="spacingAndGlyphs" >20 min</text>
<text x="329.00" y="321.80" font-size="9.4" text-anchor="middle" fill="#1c1c1c" stroke="#1c1c1c" stroke-width="0.28" textLength="28.7" lengthAdjust="spacingAndGlyphs" >30 min</text>
<path d="M77.50,348.00 L86.00,344.50 L95.00,345.50 L97.50,351.00 L104.00,367.00 L102.00,382.00 L90.00,380.50 L81.00,378.00 L76.50,355.00Z" fill="none" stroke="#484848" stroke-width="0.75" stroke-linejoin="round"/>
<path d="M97.50,349.50 L101.00,342.50 L110.00,341.50 L114.00,353.50 L112.00,365.00 L105.00,367.00 L99.50,356.00Z" fill="none" stroke="#484848" stroke-width="0.75" stroke-linejoin="round"/>
<path d="M83.50,353.20 C84.10,352.67 85.85,352.40 87.10,352.40 C88.35,352.40 89.57,353.33 91.00,353.20 C92.43,353.07 94.13,352.12 95.70,351.60 C97.27,351.08 98.83,350.17 100.40,350.10 C101.97,350.03 103.98,350.42 105.10,351.20 C106.22,351.98 106.97,353.15 107.10,354.80 C107.23,356.45 106.48,359.27 105.90,361.10 C105.32,362.93 104.12,364.10 103.60,365.80 C103.08,367.50 102.80,369.87 102.80,371.30 C102.80,372.73 103.60,373.23 103.60,374.40 C103.60,375.57 103.58,377.25 102.80,378.30 C102.02,379.35 100.47,380.23 98.90,380.70 C97.33,381.17 94.98,381.50 93.40,381.10 C91.82,380.70 90.38,379.42 89.40,378.30 C88.42,377.18 88.02,375.97 87.50,374.40 C86.98,372.83 86.57,370.60 86.30,368.90 C86.03,367.20 86.10,365.90 85.90,364.20 C85.70,362.50 85.50,360.13 85.10,358.70 C84.70,357.27 83.77,356.52 83.50,355.60 C83.23,354.68 82.90,353.73 83.50,353.20Z" fill="#c0c0e8"/>
<path d="M83.50,353.20 C84.10,352.67 85.85,352.40 87.10,352.40 C88.35,352.40 89.57,353.33 91.00,353.20 C92.43,353.07 94.13,352.12 95.70,351.60 C97.27,351.08 98.83,350.17 100.40,350.10 C101.97,350.03 103.98,350.42 105.10,351.20 C106.22,351.98 106.97,353.15 107.10,354.80 C107.23,356.45 106.48,359.27 105.90,361.10 C105.32,362.93 104.12,364.10 103.60,365.80 C103.08,367.50 102.80,369.87 102.80,371.30 C102.80,372.73 103.60,373.23 103.60,374.40 C103.60,375.57 103.58,377.25 102.80,378.30 C102.02,379.35 100.47,380.23 98.90,380.70 C97.33,381.17 94.98,381.50 93.40,381.10 C91.82,380.70 90.38,379.42 89.40,378.30 C88.42,377.18 88.02,375.97 87.50,374.40 C86.98,372.83 86.57,370.60 86.30,368.90 C86.03,367.20 86.10,365.90 85.90,364.20 C85.70,362.50 85.50,360.13 85.10,358.70 C84.70,357.27 83.77,356.52 83.50,355.60 C83.23,354.68 82.90,353.73 83.50,353.20Z" fill="none" stroke="#34348a" stroke-width="0.9" stroke-opacity="0.95"/>
<path d="M101.20,373.80 C101.20,374.87 100.92,376.08 100.45,377.00 C99.98,377.92 99.21,378.81 98.40,379.34 C97.59,379.88 96.53,380.20 95.60,380.20 C94.67,380.20 93.61,379.88 92.80,379.34 C91.99,378.81 91.22,377.92 90.75,377.00 C90.28,376.08 90.00,374.87 90.00,373.80 C90.00,372.73 90.28,371.52 90.75,370.60 C91.22,369.68 91.99,368.79 92.80,368.26 C93.61,367.72 94.67,367.40 95.60,367.40 C96.53,367.40 97.59,367.72 98.40,368.26 C99.21,368.79 99.98,369.68 100.45,370.60 C100.92,371.52 101.20,372.73 101.20,373.80Z" fill="#7878ca" stroke="#7878ca" stroke-width="0.8"/>
<path d="M99.20,374.40 C99.20,375.13 99.01,375.96 98.69,376.60 C98.37,377.24 97.85,377.84 97.30,378.21 C96.75,378.58 96.03,378.80 95.40,378.80 C94.77,378.80 94.05,378.58 93.50,378.21 C92.95,377.84 92.43,377.24 92.11,376.60 C91.79,375.96 91.60,375.13 91.60,374.40 C91.60,373.67 91.79,372.84 92.11,372.20 C92.43,371.56 92.95,370.96 93.50,370.59 C94.05,370.22 94.77,370.00 95.40,370.00 C96.03,370.00 96.75,370.22 97.30,370.59 C97.85,370.96 98.37,371.56 98.69,372.20 C99.01,372.84 99.20,373.67 99.20,374.40Z" fill="#5a5aba" stroke="#5a5aba" stroke-width="0.8"/>
<path d="M97.20,374.80 C97.20,375.20 97.10,375.65 96.93,376.00 C96.77,376.35 96.49,376.68 96.20,376.88 C95.91,377.08 95.53,377.20 95.20,377.20 C94.87,377.20 94.49,377.08 94.20,376.88 C93.91,376.68 93.63,376.35 93.47,376.00 C93.30,375.65 93.20,375.20 93.20,374.80 C93.20,374.40 93.30,373.95 93.47,373.60 C93.63,373.25 93.91,372.92 94.20,372.72 C94.49,372.52 94.87,372.40 95.20,372.40 C95.53,372.40 95.91,372.52 96.20,372.72 C96.49,372.92 96.77,373.25 96.93,373.60 C97.10,373.95 97.20,374.40 97.20,374.80Z" fill="#4040a8" stroke="#4040a8" stroke-width="0.8"/>
<path d="M105.00,358.30 C104.79,359.54 103.77,361.28 103.08,362.55 C102.38,363.83 101.53,365.08 100.83,365.96 C100.13,366.85 99.49,367.54 98.87,367.85 C98.26,368.17 97.74,368.17 97.13,367.85 C96.51,367.54 95.87,366.85 95.17,365.96 C94.47,365.08 93.62,363.83 92.92,362.55 C92.23,361.28 91.21,359.54 91.00,358.30 C90.79,357.06 91.25,356.08 91.69,355.13 C92.13,354.18 92.84,353.25 93.64,352.59 C94.43,351.93 95.46,351.42 96.44,351.18 C97.43,350.95 98.57,350.95 99.56,351.18 C100.54,351.42 101.57,351.93 102.36,352.59 C103.16,353.25 103.87,354.18 104.31,355.13 C104.75,356.08 105.21,357.06 105.00,358.30Z" fill="#9898da" stroke="#fff" stroke-width="1.1" stroke-opacity="0.85"/>
<path d="M105.00,358.30 C104.79,359.54 103.77,361.28 103.08,362.55 C102.38,363.83 101.53,365.08 100.83,365.96 C100.13,366.85 99.49,367.54 98.87,367.85 C98.26,368.17 97.74,368.17 97.13,367.85 C96.51,367.54 95.87,366.85 95.17,365.96 C94.47,365.08 93.62,363.83 92.92,362.55 C92.23,361.28 91.21,359.54 91.00,358.30 C90.79,357.06 91.25,356.08 91.69,355.13 C92.13,354.18 92.84,353.25 93.64,352.59 C94.43,351.93 95.46,351.42 96.44,351.18 C97.43,350.95 98.57,350.95 99.56,351.18 C100.54,351.42 101.57,351.93 102.36,352.59 C103.16,353.25 103.87,354.18 104.31,355.13 C104.75,356.08 105.21,357.06 105.00,358.30Z" fill="none" stroke="#3c3ca4" stroke-width="0.85" stroke-opacity="0.95"/>
<path d="M102.90,358.00 C102.76,358.85 102.06,360.00 101.58,360.86 C101.10,361.72 100.52,362.56 100.04,363.16 C99.56,363.76 99.12,364.22 98.70,364.43 C98.28,364.65 97.92,364.65 97.50,364.43 C97.08,364.22 96.64,363.76 96.16,363.16 C95.68,362.56 95.10,361.72 94.62,360.86 C94.14,360.00 93.44,358.85 93.30,358.00 C93.16,357.15 93.47,356.45 93.78,355.79 C94.08,355.12 94.56,354.47 95.11,354.01 C95.65,353.55 96.36,353.19 97.03,353.03 C97.71,352.86 98.49,352.86 99.17,353.03 C99.84,353.19 100.55,353.55 101.09,354.01 C101.64,354.47 102.12,355.12 102.42,355.79 C102.73,356.45 103.04,357.15 102.90,358.00Z" fill="#7878ca" stroke="#fff" stroke-width="1.1" stroke-opacity="0.85"/>
<path d="M102.90,358.00 C102.76,358.85 102.06,360.00 101.58,360.86 C101.10,361.72 100.52,362.56 100.04,363.16 C99.56,363.76 99.12,364.22 98.70,364.43 C98.28,364.65 97.92,364.65 97.50,364.43 C97.08,364.22 96.64,363.76 96.16,363.16 C95.68,362.56 95.10,361.72 94.62,360.86 C94.14,360.00 93.44,358.85 93.30,358.00 C93.16,357.15 93.47,356.45 93.78,355.79 C94.08,355.12 94.56,354.47 95.11,354.01 C95.65,353.55 96.36,353.19 97.03,353.03 C97.71,352.86 98.49,352.86 99.17,353.03 C99.84,353.19 100.55,353.55 101.09,354.01 C101.64,354.47 102.12,355.12 102.42,355.79 C102.73,356.45 103.04,357.15 102.90,358.00Z" fill="none" stroke="#3c3ca4" stroke-width="0.85" stroke-opacity="0.95"/>
<path d="M101.00,357.80 C100.92,358.31 100.51,358.98 100.23,359.49 C99.95,360.00 99.61,360.50 99.33,360.85 C99.05,361.20 98.80,361.48 98.55,361.60 C98.30,361.73 98.10,361.73 97.85,361.60 C97.60,361.48 97.35,361.20 97.07,360.85 C96.79,360.50 96.45,360.00 96.17,359.49 C95.89,358.98 95.48,358.31 95.40,357.80 C95.32,357.29 95.50,356.86 95.68,356.45 C95.85,356.05 96.14,355.66 96.45,355.38 C96.77,355.10 97.18,354.88 97.58,354.78 C97.97,354.68 98.43,354.68 98.82,354.78 C99.22,354.88 99.63,355.10 99.95,355.38 C100.26,355.66 100.55,356.05 100.72,356.45 C100.90,356.86 101.08,357.29 101.00,357.80Z" fill="#5a5aba" stroke="#fff" stroke-width="1.1" stroke-opacity="0.85"/>
<path d="M101.00,357.80 C100.92,358.31 100.51,358.98 100.23,359.49 C99.95,360.00 99.61,360.50 99.33,360.85 C99.05,361.20 98.80,361.48 98.55,361.60 C98.30,361.73 98.10,361.73 97.85,361.60 C97.60,361.48 97.35,361.20 97.07,360.85 C96.79,360.50 96.45,360.00 96.17,359.49 C95.89,358.98 95.48,358.31 95.40,357.80 C95.32,357.29 95.50,356.86 95.68,356.45 C95.85,356.05 96.14,355.66 96.45,355.38 C96.77,355.10 97.18,354.88 97.58,354.78 C97.97,354.68 98.43,354.68 98.82,354.78 C99.22,354.88 99.63,355.10 99.95,355.38 C100.26,355.66 100.55,356.05 100.72,356.45 C100.90,356.86 101.08,357.29 101.00,357.80Z" fill="none" stroke="#3c3ca4" stroke-width="0.85" stroke-opacity="0.95"/>
<path d="M99.50,357.40 C99.50,357.60 99.44,357.83 99.35,358.00 C99.26,358.17 99.11,358.34 98.95,358.44 C98.79,358.54 98.58,358.60 98.40,358.60 C98.22,358.60 98.01,358.54 97.85,358.44 C97.69,358.34 97.54,358.17 97.45,358.00 C97.36,357.83 97.30,357.60 97.30,357.40 C97.30,357.20 97.36,356.97 97.45,356.80 C97.54,356.63 97.69,356.46 97.85,356.36 C98.01,356.26 98.22,356.20 98.40,356.20 C98.58,356.20 98.79,356.26 98.95,356.36 C99.11,356.46 99.26,356.63 99.35,356.80 C99.44,356.97 99.50,357.20 99.50,357.40Z" fill="#2c2c94" stroke="#fff" stroke-width="1.1" stroke-opacity="0.85"/>
<path d="M99.50,357.40 C99.50,357.60 99.44,357.83 99.35,358.00 C99.26,358.17 99.11,358.34 98.95,358.44 C98.79,358.54 98.58,358.60 98.40,358.60 C98.22,358.60 98.01,358.54 97.85,358.44 C97.69,358.34 97.54,358.17 97.45,358.00 C97.36,357.83 97.30,357.60 97.30,357.40 C97.30,357.20 97.36,356.97 97.45,356.80 C97.54,356.63 97.69,356.46 97.85,356.36 C98.01,356.26 98.22,356.20 98.40,356.20 C98.58,356.20 98.79,356.26 98.95,356.36 C99.11,356.46 99.26,356.63 99.35,356.80 C99.44,356.97 99.50,357.20 99.50,357.40Z" fill="none" stroke="#3c3ca4" stroke-width="0.85" stroke-opacity="0.95"/>
<path d="M89.40,368.10 C89.40,368.32 89.34,368.56 89.24,368.75 C89.14,368.94 88.97,369.12 88.80,369.23 C88.63,369.33 88.40,369.40 88.20,369.40 C88.00,369.40 87.77,369.33 87.60,369.23 C87.43,369.12 87.26,368.94 87.16,368.75 C87.06,368.56 87.00,368.32 87.00,368.10 C87.00,367.88 87.06,367.64 87.16,367.45 C87.26,367.26 87.43,367.08 87.60,366.97 C87.77,366.87 88.00,366.80 88.20,366.80 C88.40,366.80 88.63,366.87 88.80,366.97 C88.97,367.08 89.14,367.26 89.24,367.45 C89.34,367.64 89.40,367.88 89.40,368.10Z" fill="#fff" fill-opacity="0.85" stroke="#3c3ca4" stroke-width="0.6" stroke-opacity="0.9"/>
<rect x="41.70" y="327.30" width="79.70" height="79.50" fill="none" stroke="#111" stroke-width="1.25"/>
<path d="M157.70,345.40 L167.00,341.80 L175.20,341.80 L178.30,348.50 L185.50,364.00 L182.90,378.90 L163.40,375.80 L156.70,355.70Z" fill="none" stroke="#484848" stroke-width="0.75" stroke-linejoin="round"/>
<path d="M176.20,343.40 L181.40,338.20 L190.60,338.70 L194.80,350.00 L192.20,364.50 L184.50,362.90 L178.80,353.70Z" fill="none" stroke="#484848" stroke-width="0.75" stroke-linejoin="round"/>
<path d="M170.00,352.50 C170.75,351.33 172.67,351.08 174.00,351.00 C175.33,350.92 176.67,351.42 178.00,352.00 C179.33,352.58 181.13,353.33 182.00,354.50 C182.87,355.67 183.37,357.50 183.20,359.00 C183.03,360.50 182.20,362.42 181.00,363.50 C179.80,364.58 177.58,365.55 176.00,365.50 C174.42,365.45 172.58,364.45 171.50,363.20 C170.42,361.95 169.75,359.78 169.50,358.00 C169.25,356.22 169.25,353.67 170.00,352.50Z" fill="#c0c0e8"/>
<path d="M170.00,352.50 C170.75,351.33 172.67,351.08 174.00,351.00 C175.33,350.92 176.67,351.42 178.00,352.00 C179.33,352.58 181.13,353.33 182.00,354.50 C182.87,355.67 183.37,357.50 183.20,359.00 C183.03,360.50 182.20,362.42 181.00,363.50 C179.80,364.58 177.58,365.55 176.00,365.50 C174.42,365.45 172.58,364.45 171.50,363.20 C170.42,361.95 169.75,359.78 169.50,358.00 C169.25,356.22 169.25,353.67 170.00,352.50Z" fill="none" stroke="#34348a" stroke-width="0.9" stroke-opacity="0.95"/>
<path d="M171.82,354.18 C172.36,353.34 173.74,353.16 174.70,353.10 C175.66,353.04 176.62,353.40 177.58,353.82 C178.54,354.24 179.84,354.78 180.46,355.62 C181.08,356.46 181.44,357.78 181.32,358.86 C181.20,359.94 180.60,361.32 179.74,362.10 C178.88,362.88 177.28,363.58 176.14,363.54 C175.00,363.50 173.68,362.78 172.90,361.88 C172.12,360.98 171.64,359.42 171.46,358.14 C171.28,356.86 171.28,355.02 171.82,354.18Z" fill="#9898da" stroke="#fff" stroke-width="1.1" stroke-opacity="0.85"/>
<path d="M171.82,354.18 C172.36,353.34 173.74,353.16 174.70,353.10 C175.66,353.04 176.62,353.40 177.58,353.82 C178.54,354.24 179.84,354.78 180.46,355.62 C181.08,356.46 181.44,357.78 181.32,358.86 C181.20,359.94 180.60,361.32 179.74,362.10 C178.88,362.88 177.28,363.58 176.14,363.54 C175.00,363.50 173.68,362.78 172.90,361.88 C172.12,360.98 171.64,359.42 171.46,358.14 C171.28,356.86 171.28,355.02 171.82,354.18Z" fill="none" stroke="#3c3ca4" stroke-width="0.85" stroke-opacity="0.95"/>
<path d="M173.85,355.80 C174.19,355.28 175.05,355.16 175.65,355.12 C176.25,355.09 176.85,355.31 177.45,355.57 C178.05,355.84 178.86,356.17 179.25,356.70 C179.64,357.23 179.86,358.05 179.79,358.73 C179.72,359.40 179.34,360.26 178.80,360.75 C178.26,361.24 177.26,361.67 176.55,361.65 C175.84,361.63 175.01,361.18 174.53,360.62 C174.04,360.05 173.74,359.08 173.62,358.27 C173.51,357.47 173.51,356.32 173.85,355.80Z" fill="#7878ca" stroke="#fff" stroke-width="1.1" stroke-opacity="0.85"/>
<path d="M173.85,355.80 C174.19,355.28 175.05,355.16 175.65,355.12 C176.25,355.09 176.85,355.31 177.45,355.57 C178.05,355.84 178.86,356.17 179.25,356.70 C179.64,357.23 179.86,358.05 179.79,358.73 C179.72,359.40 179.34,360.26 178.80,360.75 C178.26,361.24 177.26,361.67 176.55,361.65 C175.84,361.63 175.01,361.18 174.53,360.62 C174.04,360.05 173.74,359.08 173.62,358.27 C173.51,357.47 173.51,356.32 173.85,355.80Z" fill="none" stroke="#3c3ca4" stroke-width="0.85" stroke-opacity="0.95"/>
<path d="M178.53,357.53 C178.61,357.68 178.64,357.87 178.60,358.06 C178.57,358.24 178.47,358.45 178.33,358.62 C178.19,358.79 177.98,358.97 177.78,359.08 C177.57,359.19 177.32,359.27 177.10,359.30 C176.88,359.32 176.65,359.29 176.48,359.22 C176.30,359.15 176.15,359.02 176.07,358.87 C175.99,358.72 175.96,358.53 176.00,358.34 C176.03,358.16 176.13,357.95 176.27,357.78 C176.41,357.61 176.62,357.43 176.82,357.32 C177.03,357.21 177.28,357.13 177.50,357.10 C177.72,357.08 177.95,357.11 178.12,357.18 C178.30,357.25 178.45,357.38 178.53,357.53Z" fill="#fff" fill-opacity="0.85" stroke="#3c3ca4" stroke-width="0.6" stroke-opacity="0.9"/>
<path d="M185.50,343.40 C186.75,343.40 188.38,343.73 189.50,344.50 C190.62,345.27 191.78,346.25 192.20,348.00 C192.62,349.75 192.53,352.92 192.00,355.00 C191.47,357.08 190.33,359.47 189.00,360.50 C187.67,361.53 185.42,361.95 184.00,361.20 C182.58,360.45 181.20,358.03 180.50,356.00 C179.80,353.97 179.55,350.92 179.80,349.00 C180.05,347.08 181.05,345.43 182.00,344.50 C182.95,343.57 184.25,343.40 185.50,343.40Z" fill="#c0c0e8"/>
<path d="M185.50,343.40 C186.75,343.40 188.38,343.73 189.50,344.50 C190.62,345.27 191.78,346.25 192.20,348.00 C192.62,349.75 192.53,352.92 192.00,355.00 C191.47,357.08 190.33,359.47 189.00,360.50 C187.67,361.53 185.42,361.95 184.00,361.20 C182.58,360.45 181.20,358.03 180.50,356.00 C179.80,353.97 179.55,350.92 179.80,349.00 C180.05,347.08 181.05,345.43 182.00,344.50 C182.95,343.57 184.25,343.40 185.50,343.40Z" fill="none" stroke="#34348a" stroke-width="0.9" stroke-opacity="0.95"/>
<path d="M185.70,345.30 C186.64,345.30 187.86,345.55 188.70,346.12 C189.54,346.70 190.41,347.44 190.72,348.75 C191.04,350.06 190.97,352.44 190.57,354.00 C190.17,355.56 189.32,357.35 188.32,358.12 C187.32,358.90 185.64,359.21 184.57,358.65 C183.51,358.09 182.47,356.27 181.95,354.75 C181.42,353.23 181.24,350.94 181.43,349.50 C181.61,348.06 182.36,346.82 183.07,346.12 C183.79,345.43 184.76,345.30 185.70,345.30Z" fill="#9898da" stroke="#fff" stroke-width="1.1" stroke-opacity="0.85"/>
<path d="M185.70,345.30 C186.64,345.30 187.86,345.55 188.70,346.12 C189.54,346.70 190.41,347.44 190.72,348.75 C191.04,350.06 190.97,352.44 190.57,354.00 C190.17,355.56 189.32,357.35 188.32,358.12 C187.32,358.90 185.64,359.21 184.57,358.65 C183.51,358.09 182.47,356.27 181.95,354.75 C181.42,353.23 181.24,350.94 181.43,349.50 C181.61,348.06 182.36,346.82 183.07,346.12 C183.79,345.43 184.76,345.30 185.70,345.30Z" fill="none" stroke="#3c3ca4" stroke-width="0.85" stroke-opacity="0.95"/>
<path d="M185.88,346.81 C186.53,346.81 187.38,346.98 187.96,347.38 C188.54,347.78 189.15,348.29 189.37,349.20 C189.58,350.11 189.54,351.76 189.26,352.84 C188.99,353.92 188.40,355.16 187.70,355.70 C187.01,356.24 185.84,356.45 185.10,356.06 C184.37,355.67 183.65,354.42 183.28,353.36 C182.92,352.30 182.79,350.72 182.92,349.72 C183.05,348.72 183.57,347.87 184.06,347.38 C184.56,346.89 185.23,346.81 185.88,346.81Z" fill="#7878ca" stroke="#fff" stroke-width="1.1" stroke-opacity="0.85"/>
<path d="M185.88,346.81 C186.53,346.81 187.38,346.98 187.96,347.38 C188.54,347.78 189.15,348.29 189.37,349.20 C189.58,350.11 189.54,351.76 189.26,352.84 C188.99,353.92 188.40,355.16 187.70,355.70 C187.01,356.24 185.84,356.45 185.10,356.06 C184.37,355.67 183.65,354.42 183.28,353.36 C182.92,352.30 182.79,350.72 182.92,349.72 C183.05,348.72 183.57,347.87 184.06,347.38 C184.56,346.89 185.23,346.81 185.88,346.81Z" fill="none" stroke="#3c3ca4" stroke-width="0.85" stroke-opacity="0.95"/>
<path d="M186.04,348.09 C186.44,348.09 186.97,348.20 187.32,348.44 C187.68,348.69 188.05,349.00 188.19,349.56 C188.32,350.12 188.29,351.14 188.12,351.80 C187.95,352.47 187.59,353.23 187.16,353.56 C186.74,353.89 186.02,354.03 185.56,353.79 C185.11,353.55 184.67,352.77 184.44,352.12 C184.22,351.47 184.14,350.50 184.22,349.88 C184.30,349.27 184.62,348.74 184.92,348.44 C185.23,348.15 185.64,348.09 186.04,348.09Z" fill="#5a5aba" stroke="#fff" stroke-width="1.1" stroke-opacity="0.85"/>
<path d="M186.04,348.09 C186.44,348.09 186.97,348.20 187.32,348.44 C187.68,348.69 188.05,349.00 188.19,349.56 C188.32,350.12 188.29,351.14 188.12,351.80 C187.95,352.47 187.59,353.23 187.16,353.56 C186.74,353.89 186.02,354.03 185.56,353.79 C185.11,353.55 184.67,352.77 184.44,352.12 C184.22,351.47 184.14,350.50 184.22,349.88 C184.30,349.27 184.62,348.74 184.92,348.44 C185.23,348.15 185.64,348.09 186.04,348.09Z" fill="none" stroke="#3c3ca4" stroke-width="0.85" stroke-opacity="0.95"/>
<path d="M187.30,350.30 C187.30,350.48 187.25,350.69 187.17,350.85 C187.08,351.01 186.94,351.16 186.80,351.25 C186.66,351.34 186.47,351.40 186.30,351.40 C186.13,351.40 185.94,351.34 185.80,351.25 C185.66,351.16 185.52,351.01 185.43,350.85 C185.35,350.69 185.30,350.48 185.30,350.30 C185.30,350.12 185.35,349.91 185.43,349.75 C185.52,349.59 185.66,349.44 185.80,349.35 C185.94,349.26 186.13,349.20 186.30,349.20 C186.47,349.20 186.66,349.26 186.80,349.35 C186.94,349.44 187.08,349.59 187.17,349.75 C187.25,349.91 187.30,350.12 187.30,350.30Z" fill="#2c2c94" stroke="#fff" stroke-width="1.1" stroke-opacity="0.85"/>
<path d="M187.30,350.30 C187.30,350.48 187.25,350.69 187.17,350.85 C187.08,351.01 186.94,351.16 186.80,351.25 C186.66,351.34 186.47,351.40 186.30,351.40 C186.13,351.40 185.94,351.34 185.80,351.25 C185.66,351.16 185.52,351.01 185.43,350.85 C185.35,350.69 185.30,350.48 185.30,350.30 C185.30,350.12 185.35,349.91 185.43,349.75 C185.52,349.59 185.66,349.44 185.80,349.35 C185.94,349.26 186.13,349.20 186.30,349.20 C186.47,349.20 186.66,349.26 186.80,349.35 C186.94,349.44 187.08,349.59 187.17,349.75 C187.25,349.91 187.30,350.12 187.30,350.30Z" fill="none" stroke="#3c3ca4" stroke-width="0.85" stroke-opacity="0.95"/>
<rect x="124.50" y="327.30" width="79.70" height="79.50" fill="none" stroke="#111" stroke-width="1.25"/>
<path d="M236.20,346.50 L245.40,342.30 L254.20,343.40 L257.80,350.00 L261.90,368.00 L263.40,372.20 L260.90,379.90 L241.30,376.80 L236.20,360.90Z" fill="none" stroke="#484848" stroke-width="0.75" stroke-linejoin="round"/>
<path d="M257.30,346.50 L263.40,338.70 L273.20,339.30 L277.80,355.20 L274.20,369.60 L262.90,368.00 L259.80,358.80Z" fill="none" stroke="#484848" stroke-width="0.75" stroke-linejoin="round"/>
<path d="M252.00,352.50 C252.33,350.92 253.50,350.08 254.50,349.50 C255.50,348.92 256.75,349.83 258.00,349.00 C259.25,348.17 260.83,345.43 262.00,344.50 C263.17,343.57 263.67,343.57 265.00,343.40 C266.33,343.23 268.67,342.90 270.00,343.50 C271.33,344.10 272.47,345.58 273.00,347.00 C273.53,348.42 273.45,350.33 273.20,352.00 C272.95,353.67 272.37,355.50 271.50,357.00 C270.63,358.50 268.92,359.50 268.00,361.00 C267.08,362.50 266.92,364.90 266.00,366.00 C265.08,367.10 263.75,367.52 262.50,367.60 C261.25,367.68 259.75,367.27 258.50,366.50 C257.25,365.73 256.00,364.25 255.00,363.00 C254.00,361.75 253.00,360.75 252.50,359.00 C252.00,357.25 251.67,354.08 252.00,352.50Z" fill="#c0c0e8"/>
<path d="M252.00,352.50 C252.33,350.92 253.50,350.08 254.50,349.50 C255.50,348.92 256.75,349.83 258.00,349.00 C259.25,348.17 260.83,345.43 262.00,344.50 C263.17,343.57 263.67,343.57 265.00,343.40 C266.33,343.23 268.67,342.90 270.00,343.50 C271.33,344.10 272.47,345.58 273.00,347.00 C273.53,348.42 273.45,350.33 273.20,352.00 C272.95,353.67 272.37,355.50 271.50,357.00 C270.63,358.50 268.92,359.50 268.00,361.00 C267.08,362.50 266.92,364.90 266.00,366.00 C265.08,367.10 263.75,367.52 262.50,367.60 C261.25,367.68 259.75,367.27 258.50,366.50 C257.25,365.73 256.00,364.25 255.00,363.00 C254.00,361.75 253.00,360.75 252.50,359.00 C252.00,357.25 251.67,354.08 252.00,352.50Z" fill="none" stroke="#34348a" stroke-width="0.9" stroke-opacity="0.95"/>
<path d="M263.70,359.50 C263.70,360.50 263.49,361.63 263.14,362.50 C262.79,363.37 262.21,364.20 261.60,364.70 C260.99,365.20 260.20,365.50 259.50,365.50 C258.80,365.50 258.01,365.20 257.40,364.70 C256.79,364.20 256.21,363.37 255.86,362.50 C255.51,361.63 255.30,360.50 255.30,359.50 C255.30,358.50 255.51,357.37 255.86,356.50 C256.21,355.63 256.79,354.80 257.40,354.30 C258.01,353.80 258.80,353.50 259.50,353.50 C260.20,353.50 260.99,353.80 261.60,354.30 C262.21,354.80 262.79,355.63 263.14,356.50 C263.49,357.37 263.70,358.50 263.70,359.50Z" fill="#7878ca" stroke="#fff" stroke-width="1.1" stroke-opacity="0.85"/>
<path d="M263.70,359.50 C263.70,360.50 263.49,361.63 263.14,362.50 C262.79,363.37 262.21,364.20 261.60,364.70 C260.99,365.20 260.20,365.50 259.50,365.50 C258.80,365.50 258.01,365.20 257.40,364.70 C256.79,364.20 256.21,363.37 255.86,362.50 C255.51,361.63 255.30,360.50 255.30,359.50 C255.30,358.50 255.51,357.37 255.86,356.50 C256.21,355.63 256.79,354.80 257.40,354.30 C258.01,353.80 258.80,353.50 259.50,353.50 C260.20,353.50 260.99,353.80 261.60,354.30 C262.21,354.80 262.79,355.63 263.14,356.50 C263.49,357.37 263.70,358.50 263.70,359.50Z" fill="none" stroke="#3c3ca4" stroke-width="0.85" stroke-opacity="0.95"/>
<path d="M261.80,360.20 C261.80,360.87 261.67,361.62 261.45,362.20 C261.23,362.78 260.88,363.33 260.50,363.66 C260.12,364.00 259.63,364.20 259.20,364.20 C258.77,364.20 258.28,364.00 257.90,363.66 C257.52,363.33 257.17,362.78 256.95,362.20 C256.73,361.62 256.60,360.87 256.60,360.20 C256.60,359.53 256.73,358.78 256.95,358.20 C257.17,357.62 257.52,357.07 257.90,356.74 C258.28,356.40 258.77,356.20 259.20,356.20 C259.63,356.20 260.12,356.40 260.50,356.74 C260.88,357.07 261.23,357.62 261.45,358.20 C261.67,358.78 261.80,359.53 261.80,360.20Z" fill="#5a5aba" stroke="#fff" stroke-width="1.1" stroke-opacity="0.85"/>
<path d="M261.80,360.20 C261.80,360.87 261.67,361.62 261.45,362.20 C261.23,362.78 260.88,363.33 260.50,363.66 C260.12,364.00 259.63,364.20 259.20,364.20 C258.77,364.20 258.28,364.00 257.90,363.66 C257.52,363.33 257.17,362.78 256.95,362.20 C256.73,361.62 256.60,360.87 256.60,360.20 C256.60,359.53 256.73,358.78 256.95,358.20 C257.17,357.62 257.52,357.07 257.90,356.74 C258.28,356.40 258.77,356.20 259.20,356.20 C259.63,356.20 260.12,356.40 260.50,356.74 C260.88,357.07 261.23,357.62 261.45,358.20 C261.67,358.78 261.80,359.53 261.80,360.20Z" fill="none" stroke="#3c3ca4" stroke-width="0.85" stroke-opacity="0.95"/>
<path d="M272.90,352.00 C272.90,353.13 272.62,354.42 272.15,355.40 C271.68,356.38 270.91,357.32 270.10,357.89 C269.29,358.46 268.23,358.80 267.30,358.80 C266.37,358.80 265.31,358.46 264.50,357.89 C263.69,357.32 262.92,356.38 262.45,355.40 C261.98,354.42 261.70,353.13 261.70,352.00 C261.70,350.87 261.98,349.58 262.45,348.60 C262.92,347.62 263.69,346.68 264.50,346.11 C265.31,345.54 266.37,345.20 267.30,345.20 C268.23,345.20 269.29,345.54 270.10,346.11 C270.91,346.68 271.68,347.62 272.15,348.60 C272.62,349.58 272.90,350.87 272.90,352.00Z" fill="#9898da" stroke="#fff" stroke-width="1.1" stroke-opacity="0.85"/>
<path d="M272.90,352.00 C272.90,353.13 272.62,354.42 272.15,355.40 C271.68,356.38 270.91,357.32 270.10,357.89 C269.29,358.46 268.23,358.80 267.30,358.80 C266.37,358.80 265.31,358.46 264.50,357.89 C263.69,357.32 262.92,356.38 262.45,355.40 C261.98,354.42 261.70,353.13 261.70,352.00 C261.70,350.87 261.98,349.58 262.45,348.60 C262.92,347.62 263.69,346.68 264.50,346.11 C265.31,345.54 266.37,345.20 267.30,345.20 C268.23,345.20 269.29,345.54 270.10,346.11 C270.91,346.68 271.68,347.62 272.15,348.60 C272.62,349.58 272.90,350.87 272.90,352.00Z" fill="none" stroke="#3c3ca4" stroke-width="0.85" stroke-opacity="0.95"/>
<path d="M271.40,352.20 C271.40,353.00 271.20,353.91 270.88,354.60 C270.55,355.29 270.01,355.96 269.45,356.36 C268.89,356.76 268.15,357.00 267.50,357.00 C266.85,357.00 266.11,356.76 265.55,356.36 C264.99,355.96 264.45,355.29 264.12,354.60 C263.80,353.91 263.60,353.00 263.60,352.20 C263.60,351.40 263.80,350.49 264.12,349.80 C264.45,349.11 264.99,348.44 265.55,348.04 C266.11,347.64 266.85,347.40 267.50,347.40 C268.15,347.40 268.89,347.64 269.45,348.04 C270.01,348.44 270.55,349.11 270.88,349.80 C271.20,350.49 271.40,351.40 271.40,352.20Z" fill="#7878ca" stroke="#fff" stroke-width="1.1" stroke-opacity="0.85"/>
<path d="M271.40,352.20 C271.40,353.00 271.20,353.91 270.88,354.60 C270.55,355.29 270.01,355.96 269.45,356.36 C268.89,356.76 268.15,357.00 267.50,357.00 C266.85,357.00 266.11,356.76 265.55,356.36 C264.99,355.96 264.45,355.29 264.12,354.60 C263.80,353.91 263.60,353.00 263.60,352.20 C263.60,351.40 263.80,350.49 264.12,349.80 C264.45,349.11 264.99,348.44 265.55,348.04 C266.11,347.64 266.85,347.40 267.50,347.40 C268.15,347.40 268.89,347.64 269.45,348.04 C270.01,348.44 270.55,349.11 270.88,349.80 C271.20,350.49 271.40,351.40 271.40,352.20Z" fill="none" stroke="#3c3ca4" stroke-width="0.85" stroke-opacity="0.95"/>
<path d="M270.00,352.40 C270.00,352.90 269.88,353.47 269.68,353.90 C269.48,354.33 269.15,354.75 268.80,355.00 C268.45,355.25 268.00,355.40 267.60,355.40 C267.20,355.40 266.75,355.25 266.40,355.00 C266.05,354.75 265.72,354.33 265.52,353.90 C265.32,353.47 265.20,352.90 265.20,352.40 C265.20,351.90 265.32,351.33 265.52,350.90 C265.72,350.47 266.05,350.05 266.40,349.80 C266.75,349.55 267.20,349.40 267.60,349.40 C268.00,349.40 268.45,349.55 268.80,349.80 C269.15,350.05 269.48,350.47 269.68,350.90 C269.88,351.33 270.00,351.90 270.00,352.40Z" fill="#5a5aba" stroke="#fff" stroke-width="1.1" stroke-opacity="0.85"/>
<path d="M270.00,352.40 C270.00,352.90 269.88,353.47 269.68,353.90 C269.48,354.33 269.15,354.75 268.80,355.00 C268.45,355.25 268.00,355.40 267.60,355.40 C267.20,355.40 266.75,355.25 266.40,355.00 C266.05,354.75 265.72,354.33 265.52,353.90 C265.32,353.47 265.20,352.90 265.20,352.40 C265.20,351.90 265.32,351.33 265.52,350.90 C265.72,350.47 266.05,350.05 266.40,349.80 C266.75,349.55 267.20,349.40 267.60,349.40 C268.00,349.40 268.45,349.55 268.80,349.80 C269.15,350.05 269.48,350.47 269.68,350.90 C269.88,351.33 270.00,351.90 270.00,352.40Z" fill="none" stroke="#3c3ca4" stroke-width="0.85" stroke-opacity="0.95"/>
<path d="M268.70,352.40 C268.70,352.62 268.64,352.86 268.55,353.05 C268.46,353.24 268.31,353.42 268.15,353.53 C267.99,353.63 267.78,353.70 267.60,353.70 C267.42,353.70 267.21,353.63 267.05,353.53 C266.89,353.42 266.74,353.24 266.65,353.05 C266.56,352.86 266.50,352.62 266.50,352.40 C266.50,352.18 266.56,351.94 266.65,351.75 C266.74,351.56 266.89,351.38 267.05,351.27 C267.21,351.17 267.42,351.10 267.60,351.10 C267.78,351.10 267.99,351.17 268.15,351.27 C268.31,351.38 268.46,351.56 268.55,351.75 C268.64,351.94 268.70,352.18 268.70,352.40Z" fill="#4040a8" stroke="#fff" stroke-width="1.1" stroke-opacity="0.85"/>
<path d="M268.70,352.40 C268.70,352.62 268.64,352.86 268.55,353.05 C268.46,353.24 268.31,353.42 268.15,353.53 C267.99,353.63 267.78,353.70 267.60,353.70 C267.42,353.70 267.21,353.63 267.05,353.53 C266.89,353.42 266.74,353.24 266.65,353.05 C266.56,352.86 266.50,352.62 266.50,352.40 C266.50,352.18 266.56,351.94 266.65,351.75 C266.74,351.56 266.89,351.38 267.05,351.27 C267.21,351.17 267.42,351.10 267.60,351.10 C267.78,351.10 267.99,351.17 268.15,351.27 C268.31,351.38 268.46,351.56 268.55,351.75 C268.64,351.94 268.70,352.18 268.70,352.40Z" fill="none" stroke="#3c3ca4" stroke-width="0.85" stroke-opacity="0.95"/>
<path d="M266.90,357.30 C266.90,357.43 266.83,357.58 266.71,357.70 C266.60,357.82 266.40,357.93 266.20,357.99 C266.00,358.06 265.73,358.10 265.50,358.10 C265.27,358.10 265.00,358.06 264.80,357.99 C264.60,357.93 264.40,357.82 264.29,357.70 C264.17,357.58 264.10,357.43 264.10,357.30 C264.10,357.17 264.17,357.02 264.29,356.90 C264.40,356.78 264.60,356.67 264.80,356.61 C265.00,356.54 265.27,356.50 265.50,356.50 C265.73,356.50 266.00,356.54 266.20,356.61 C266.40,356.67 266.60,356.78 266.71,356.90 C266.83,357.02 266.90,357.17 266.90,357.30Z" fill="#fff" fill-opacity="0.85" stroke="#3c3ca4" stroke-width="0.6" stroke-opacity="0.9"/>
<rect x="206.70" y="327.30" width="79.70" height="79.50" fill="none" stroke="#111" stroke-width="1.25"/>
<path d="M320.00,349.60 L328.50,344.80 L338.00,345.30 L341.70,353.30 L347.60,373.40 L344.40,381.90 L324.80,378.70 L318.50,359.60Z" fill="none" stroke="#484848" stroke-width="0.75" stroke-linejoin="round"/>
<path d="M340.70,343.80 L347.00,337.90 L355.50,339.00 L360.30,355.40 L356.60,368.60 L346.50,366.50 L342.80,358.60Z" fill="none" stroke="#484848" stroke-width="0.75" stroke-linejoin="round"/>
<path d="M345.00,350.00 C345.67,348.25 346.83,346.45 348.00,345.50 C349.17,344.55 350.75,344.30 352.00,344.30 C353.25,344.30 354.65,344.55 355.50,345.50 C356.35,346.45 356.93,348.42 357.10,350.00 C357.27,351.58 357.02,353.50 356.50,355.00 C355.98,356.50 355.08,357.97 354.00,359.00 C352.92,360.03 351.33,360.95 350.00,361.20 C348.67,361.45 347.00,361.37 346.00,360.50 C345.00,359.63 344.17,357.75 344.00,356.00 C343.83,354.25 344.33,351.75 345.00,350.00Z" fill="#c0c0e8"/>
<path d="M345.00,350.00 C345.67,348.25 346.83,346.45 348.00,345.50 C349.17,344.55 350.75,344.30 352.00,344.30 C353.25,344.30 354.65,344.55 355.50,345.50 C356.35,346.45 356.93,348.42 357.10,350.00 C357.27,351.58 357.02,353.50 356.50,355.00 C355.98,356.50 355.08,357.97 354.00,359.00 C352.92,360.03 351.33,360.95 350.00,361.20 C348.67,361.45 347.00,361.37 346.00,360.50 C345.00,359.63 344.17,357.75 344.00,356.00 C343.83,354.25 344.33,351.75 345.00,350.00Z" fill="none" stroke="#34348a" stroke-width="0.9" stroke-opacity="0.95"/>
<path d="M346.49,350.48 C346.99,349.15 347.88,347.78 348.77,347.06 C349.65,346.34 350.86,346.15 351.81,346.15 C352.76,346.15 353.82,346.34 354.47,347.06 C355.11,347.78 355.56,349.28 355.68,350.48 C355.81,351.68 355.62,353.14 355.23,354.28 C354.84,355.42 354.15,356.53 353.33,357.32 C352.50,358.11 351.30,358.80 350.29,358.99 C349.27,359.18 348.01,359.12 347.25,358.46 C346.49,357.80 345.85,356.37 345.73,355.04 C345.60,353.71 345.98,351.81 346.49,350.48Z" fill="#9898da" stroke="#fff" stroke-width="1.1" stroke-opacity="0.85"/>
<path d="M346.49,350.48 C346.99,349.15 347.88,347.78 348.77,347.06 C349.65,346.34 350.86,346.15 351.81,346.15 C352.76,346.15 353.82,346.34 354.47,347.06 C355.11,347.78 355.56,349.28 355.68,350.48 C355.81,351.68 355.62,353.14 355.23,354.28 C354.84,355.42 354.15,356.53 353.33,357.32 C352.50,358.11 351.30,358.80 350.29,358.99 C349.27,359.18 348.01,359.12 347.25,358.46 C346.49,357.80 345.85,356.37 345.73,355.04 C345.60,353.71 345.98,351.81 346.49,350.48Z" fill="none" stroke="#3c3ca4" stroke-width="0.85" stroke-opacity="0.95"/>
<path d="M347.90,350.92 C348.26,349.98 348.89,349.00 349.52,348.49 C350.15,347.98 351.00,347.84 351.68,347.84 C352.35,347.84 353.11,347.98 353.57,348.49 C354.03,349.00 354.34,350.06 354.43,350.92 C354.52,351.78 354.39,352.81 354.11,353.62 C353.83,354.43 353.34,355.22 352.76,355.78 C352.17,356.34 351.32,356.83 350.60,356.97 C349.88,357.10 348.98,357.06 348.44,356.59 C347.90,356.12 347.45,355.11 347.36,354.16 C347.27,353.22 347.54,351.87 347.90,350.92Z" fill="#7878ca" stroke="#fff" stroke-width="1.1" stroke-opacity="0.85"/>
<path d="M347.90,350.92 C348.26,349.98 348.89,349.00 349.52,348.49 C350.15,347.98 351.00,347.84 351.68,347.84 C352.35,347.84 353.11,347.98 353.57,348.49 C354.03,349.00 354.34,350.06 354.43,350.92 C354.52,351.78 354.39,352.81 354.11,353.62 C353.83,354.43 353.34,355.22 352.76,355.78 C352.17,356.34 351.32,356.83 350.60,356.97 C349.88,357.10 348.98,357.06 348.44,356.59 C347.90,356.12 347.45,355.11 347.36,354.16 C347.27,353.22 347.54,351.87 347.90,350.92Z" fill="none" stroke="#3c3ca4" stroke-width="0.85" stroke-opacity="0.95"/>
<path d="M349.22,351.19 C349.45,350.59 349.85,349.98 350.24,349.66 C350.64,349.34 351.18,349.25 351.60,349.25 C352.03,349.25 352.50,349.34 352.79,349.66 C353.08,349.98 353.28,350.65 353.34,351.19 C353.39,351.73 353.31,352.38 353.13,352.89 C352.96,353.40 352.65,353.90 352.28,354.25 C351.92,354.60 351.38,354.91 350.92,355.00 C350.47,355.08 349.90,355.05 349.56,354.76 C349.22,354.46 348.94,353.82 348.88,353.23 C348.83,352.63 349.00,351.78 349.22,351.19Z" fill="#5a5aba" stroke="#fff" stroke-width="1.1" stroke-opacity="0.85"/>
<path d="M349.22,351.19 C349.45,350.59 349.85,349.98 350.24,349.66 C350.64,349.34 351.18,349.25 351.60,349.25 C352.03,349.25 352.50,349.34 352.79,349.66 C353.08,349.98 353.28,350.65 353.34,351.19 C353.39,351.73 353.31,352.38 353.13,352.89 C352.96,353.40 352.65,353.90 352.28,354.25 C351.92,354.60 351.38,354.91 350.92,355.00 C350.47,355.08 349.90,355.05 349.56,354.76 C349.22,354.46 348.94,353.82 348.88,353.23 C348.83,352.63 349.00,351.78 349.22,351.19Z" fill="none" stroke="#3c3ca4" stroke-width="0.85" stroke-opacity="0.95"/>
<path d="M352.60,351.30 C352.60,351.50 352.54,351.73 352.45,351.90 C352.36,352.07 352.21,352.24 352.05,352.34 C351.89,352.44 351.68,352.50 351.50,352.50 C351.32,352.50 351.11,352.44 350.95,352.34 C350.79,352.24 350.64,352.07 350.55,351.90 C350.46,351.73 350.40,351.50 350.40,351.30 C350.40,351.10 350.46,350.87 350.55,350.70 C350.64,350.53 350.79,350.36 350.95,350.26 C351.11,350.16 351.32,350.10 351.50,350.10 C351.68,350.10 351.89,350.16 352.05,350.26 C352.21,350.36 352.36,350.53 352.45,350.70 C352.54,350.87 352.60,351.10 352.60,351.30Z" fill="#2c2c94" stroke="#fff" stroke-width="1.1" stroke-opacity="0.85"/>
<path d="M352.60,351.30 C352.60,351.50 352.54,351.73 352.45,351.90 C352.36,352.07 352.21,352.24 352.05,352.34 C351.89,352.44 351.68,352.50 351.50,352.50 C351.32,352.50 351.11,352.44 350.95,352.34 C350.79,352.24 350.64,352.07 350.55,351.90 C350.46,351.73 350.40,351.50 350.40,351.30 C350.40,351.10 350.46,350.87 350.55,350.70 C350.64,350.53 350.79,350.36 350.95,350.26 C351.11,350.16 351.32,350.10 351.50,350.10 C351.68,350.10 351.89,350.16 352.05,350.26 C352.21,350.36 352.36,350.53 352.45,350.70 C352.54,350.87 352.60,351.10 352.60,351.30Z" fill="none" stroke="#3c3ca4" stroke-width="0.85" stroke-opacity="0.95"/>
<path d="M350.38,357.08 C350.34,357.19 350.21,357.28 350.06,357.33 C349.91,357.37 349.68,357.38 349.45,357.35 C349.23,357.32 348.96,357.24 348.73,357.14 C348.50,357.05 348.25,356.90 348.07,356.77 C347.90,356.63 347.74,356.46 347.67,356.32 C347.59,356.17 347.57,356.02 347.62,355.92 C347.66,355.81 347.79,355.72 347.94,355.67 C348.09,355.63 348.32,355.62 348.55,355.65 C348.77,355.68 349.04,355.76 349.27,355.86 C349.50,355.95 349.75,356.10 349.93,356.23 C350.10,356.37 350.26,356.54 350.33,356.68 C350.41,356.83 350.43,356.98 350.38,357.08Z" fill="#fff" fill-opacity="0.85" stroke="#3c3ca4" stroke-width="0.6" stroke-opacity="0.9"/>
<rect x="289.05" y="327.30" width="79.70" height="79.50" fill="none" stroke="#111" stroke-width="1.25"/>
<path d="M75.80,446.50 C76.20,445.53 77.17,445.43 78.20,445.30 C79.23,445.17 80.73,445.77 82.00,445.70 C83.27,445.63 84.38,445.15 85.80,444.90 C87.22,444.65 89.08,444.32 90.50,444.20 C91.92,444.08 93.02,444.47 94.30,444.20 C95.58,443.93 96.78,442.73 98.20,442.60 C99.62,442.47 101.53,442.75 102.80,443.40 C104.07,444.05 105.30,445.22 105.80,446.50 C106.30,447.78 106.05,449.57 105.80,451.10 C105.55,452.63 104.93,454.42 104.30,455.70 C103.67,456.98 102.63,457.65 102.00,458.80 C101.37,459.95 100.75,460.93 100.50,462.60 C100.25,464.27 100.77,467.13 100.50,468.80 C100.23,470.47 99.68,471.65 98.90,472.60 C98.12,473.55 96.95,474.23 95.80,474.50 C94.65,474.77 93.40,474.90 92.00,474.20 C90.60,473.50 88.82,471.47 87.40,470.30 C85.98,469.13 84.65,468.10 83.50,467.20 C82.35,466.30 81.27,465.92 80.50,464.90 C79.73,463.88 79.03,462.38 78.90,461.10 C78.77,459.82 79.43,458.35 79.70,457.20 C79.97,456.05 80.88,454.83 80.50,454.20 C80.12,453.57 78.18,453.92 77.40,453.40 C76.62,452.88 76.07,452.25 75.80,451.10 C75.53,449.95 75.40,447.47 75.80,446.50Z" fill="#ea8894"/>
<path d="M75.80,446.50 C76.20,445.53 77.17,445.43 78.20,445.30 C79.23,445.17 80.73,445.77 82.00,445.70 C83.27,445.63 84.38,445.15 85.80,444.90 C87.22,444.65 89.08,444.32 90.50,444.20 C91.92,444.08 93.02,444.47 94.30,444.20 C95.58,443.93 96.78,442.73 98.20,442.60 C99.62,442.47 101.53,442.75 102.80,443.40 C104.07,444.05 105.30,445.22 105.80,446.50 C106.30,447.78 106.05,449.57 105.80,451.10 C105.55,452.63 104.93,454.42 104.30,455.70 C103.67,456.98 102.63,457.65 102.00,458.80 C101.37,459.95 100.75,460.93 100.50,462.60 C100.25,464.27 100.77,467.13 100.50,468.80 C100.23,470.47 99.68,471.65 98.90,472.60 C98.12,473.55 96.95,474.23 95.80,474.50 C94.65,474.77 93.40,474.90 92.00,474.20 C90.60,473.50 88.82,471.47 87.40,470.30 C85.98,469.13 84.65,468.10 83.50,467.20 C82.35,466.30 81.27,465.92 80.50,464.90 C79.73,463.88 79.03,462.38 78.90,461.10 C78.77,459.82 79.43,458.35 79.70,457.20 C79.97,456.05 80.88,454.83 80.50,454.20 C80.12,453.57 78.18,453.92 77.40,453.40 C76.62,452.88 76.07,452.25 75.80,451.10 C75.53,449.95 75.40,447.47 75.80,446.50Z" fill="none" stroke="#a01828" stroke-width="0.9" stroke-opacity="0.95"/>
<path d="M79.00,446.80 C79.00,447.03 78.91,447.30 78.76,447.50 C78.61,447.70 78.36,447.90 78.10,448.01 C77.84,448.13 77.50,448.20 77.20,448.20 C76.90,448.20 76.56,448.13 76.30,448.01 C76.04,447.90 75.79,447.70 75.64,447.50 C75.49,447.30 75.40,447.03 75.40,446.80 C75.40,446.57 75.49,446.30 75.64,446.10 C75.79,445.90 76.04,445.70 76.30,445.59 C76.56,445.47 76.90,445.40 77.20,445.40 C77.50,445.40 77.84,445.47 78.10,445.59 C78.36,445.70 78.61,445.90 78.76,446.10 C78.91,446.30 79.00,446.57 79.00,446.80Z" fill="#c02039" stroke="#fff" stroke-width="1.1" stroke-opacity="0.85"/>
<path d="M79.00,446.80 C79.00,447.03 78.91,447.30 78.76,447.50 C78.61,447.70 78.36,447.90 78.10,448.01 C77.84,448.13 77.50,448.20 77.20,448.20 C76.90,448.20 76.56,448.13 76.30,448.01 C76.04,447.90 75.79,447.70 75.64,447.50 C75.49,447.30 75.40,447.03 75.40,446.80 C75.40,446.57 75.49,446.30 75.64,446.10 C75.79,445.90 76.04,445.70 76.30,445.59 C76.56,445.47 76.90,445.40 77.20,445.40 C77.50,445.40 77.84,445.47 78.10,445.59 C78.36,445.70 78.61,445.90 78.76,446.10 C78.91,446.30 79.00,446.57 79.00,446.80Z" fill="none" stroke="#c82238" stroke-width="0.85" stroke-opacity="0.95"/>
<path d="M104.51,451.11 C104.28,452.22 103.80,453.44 103.23,454.32 C102.66,455.21 101.85,456.01 101.08,456.43 C100.32,456.85 99.40,457.02 98.65,456.86 C97.90,456.71 97.11,456.20 96.58,455.51 C96.04,454.83 95.60,453.78 95.42,452.74 C95.24,451.70 95.27,450.40 95.49,449.29 C95.72,448.18 96.20,446.96 96.77,446.08 C97.34,445.19 98.15,444.39 98.92,443.97 C99.68,443.55 100.60,443.38 101.35,443.54 C102.10,443.69 102.89,444.20 103.42,444.89 C103.96,445.57 104.40,446.62 104.58,447.66 C104.76,448.70 104.73,450.00 104.51,451.11Z" fill="#e06472" stroke="#fff" stroke-width="1.1" stroke-opacity="0.85"/>
<path d="M104.51,451.11 C104.28,452.22 103.80,453.44 103.23,454.32 C102.66,455.21 101.85,456.01 101.08,456.43 C100.32,456.85 99.40,457.02 98.65,456.86 C97.90,456.71 97.11,456.20 96.58,455.51 C96.04,454.83 95.60,453.78 95.42,452.74 C95.24,451.70 95.27,450.40 95.49,449.29 C95.72,448.18 96.20,446.96 96.77,446.08 C97.34,445.19 98.15,444.39 98.92,443.97 C99.68,443.55 100.60,443.38 101.35,443.54 C102.10,443.69 102.89,444.20 103.42,444.89 C103.96,445.57 104.40,446.62 104.58,447.66 C104.76,448.70 104.73,450.00 104.51,451.11Z" fill="none" stroke="#c82238" stroke-width="0.85" stroke-opacity="0.95"/>
<path d="M102.94,450.60 C102.79,451.35 102.47,452.17 102.09,452.77 C101.71,453.37 101.18,453.91 100.68,454.20 C100.18,454.49 99.58,454.61 99.09,454.51 C98.60,454.41 98.09,454.07 97.74,453.61 C97.39,453.14 97.11,452.44 97.00,451.74 C96.88,451.04 96.91,450.16 97.06,449.40 C97.21,448.65 97.53,447.83 97.91,447.23 C98.29,446.63 98.82,446.09 99.32,445.80 C99.82,445.51 100.42,445.39 100.91,445.49 C101.40,445.59 101.91,445.93 102.26,446.39 C102.61,446.86 102.89,447.56 103.00,448.26 C103.12,448.96 103.09,449.84 102.94,450.60Z" fill="#d84a5e" stroke="#fff" stroke-width="1.1" stroke-opacity="0.85"/>
<path d="M102.94,450.60 C102.79,451.35 102.47,452.17 102.09,452.77 C101.71,453.37 101.18,453.91 100.68,454.20 C100.18,454.49 99.58,454.61 99.09,454.51 C98.60,454.41 98.09,454.07 97.74,453.61 C97.39,453.14 97.11,452.44 97.00,451.74 C96.88,451.04 96.91,450.16 97.06,449.40 C97.21,448.65 97.53,447.83 97.91,447.23 C98.29,446.63 98.82,446.09 99.32,445.80 C99.82,445.51 100.42,445.39 100.91,445.49 C101.40,445.59 101.91,445.93 102.26,446.39 C102.61,446.86 102.89,447.56 103.00,448.26 C103.12,448.96 103.09,449.84 102.94,450.60Z" fill="none" stroke="#c82238" stroke-width="0.85" stroke-opacity="0.95"/>
<path d="M101.07,450.46 C101.00,450.82 100.85,451.21 100.68,451.50 C100.52,451.79 100.28,452.05 100.06,452.20 C99.84,452.34 99.58,452.40 99.36,452.36 C99.15,452.31 98.93,452.16 98.78,451.94 C98.64,451.72 98.52,451.39 98.48,451.05 C98.43,450.72 98.45,450.30 98.53,449.94 C98.60,449.58 98.75,449.19 98.92,448.90 C99.08,448.61 99.32,448.35 99.54,448.20 C99.76,448.06 100.02,448.00 100.24,448.04 C100.45,448.09 100.67,448.24 100.82,448.46 C100.96,448.68 101.08,449.01 101.12,449.35 C101.17,449.68 101.15,450.10 101.07,450.46Z" fill="#fff" fill-opacity="0.85" stroke="#c82238" stroke-width="0.6" stroke-opacity="0.9"/>
<path d="M99.20,456.50 C99.20,458.33 98.84,460.41 98.24,462.00 C97.64,463.59 96.64,465.11 95.60,466.03 C94.56,466.94 93.20,467.50 92.00,467.50 C90.80,467.50 89.44,466.94 88.40,466.03 C87.36,465.11 86.36,463.59 85.76,462.00 C85.16,460.41 84.80,458.33 84.80,456.50 C84.80,454.67 85.16,452.59 85.76,451.00 C86.36,449.41 87.36,447.89 88.40,446.97 C89.44,446.06 90.80,445.50 92.00,445.50 C93.20,445.50 94.56,446.06 95.60,446.97 C96.64,447.89 97.64,449.41 98.24,451.00 C98.84,452.59 99.20,454.67 99.20,456.50Z" fill="#e06472" stroke="#fff" stroke-width="1.1" stroke-opacity="0.85"/>
<path d="M99.20,456.50 C99.20,458.33 98.84,460.41 98.24,462.00 C97.64,463.59 96.64,465.11 95.60,466.03 C94.56,466.94 93.20,467.50 92.00,467.50 C90.80,467.50 89.44,466.94 88.40,466.03 C87.36,465.11 86.36,463.59 85.76,462.00 C85.16,460.41 84.80,458.33 84.80,456.50 C84.80,454.67 85.16,452.59 85.76,451.00 C86.36,449.41 87.36,447.89 88.40,446.97 C89.44,446.06 90.80,445.50 92.00,445.50 C93.20,445.50 94.56,446.06 95.60,446.97 C96.64,447.89 97.64,449.41 98.24,451.00 C98.84,452.59 99.20,454.67 99.20,456.50Z" fill="none" stroke="#c82238" stroke-width="0.85" stroke-opacity="0.95"/>
<path d="M98.30,467.20 C98.30,468.23 98.08,469.41 97.72,470.30 C97.37,471.19 96.77,472.05 96.15,472.57 C95.53,473.09 94.72,473.40 94.00,473.40 C93.28,473.40 92.47,473.09 91.85,472.57 C91.23,472.05 90.63,471.19 90.28,470.30 C89.92,469.41 89.70,468.23 89.70,467.20 C89.70,466.17 89.92,464.99 90.28,464.10 C90.63,463.21 91.23,462.35 91.85,461.83 C92.47,461.31 93.28,461.00 94.00,461.00 C94.72,461.00 95.53,461.31 96.15,461.83 C96.77,462.35 97.37,463.21 97.72,464.10 C98.08,464.99 98.30,466.17 98.30,467.20Z" fill="#d84a5e" stroke="#fff" stroke-width="1.1" stroke-opacity="0.85"/>
<path d="M98.30,467.20 C98.30,468.23 98.08,469.41 97.72,470.30 C97.37,471.19 96.77,472.05 96.15,472.57 C95.53,473.09 94.72,473.40 94.00,473.40 C93.28,473.40 92.47,473.09 91.85,472.57 C91.23,472.05 90.63,471.19 90.28,470.30 C89.92,469.41 89.70,468.23 89.70,467.20 C89.70,466.17 89.92,464.99 90.28,464.10 C90.63,463.21 91.23,462.35 91.85,461.83 C92.47,461.31 93.28,461.00 94.00,461.00 C94.72,461.00 95.53,461.31 96.15,461.83 C96.77,462.35 97.37,463.21 97.72,464.10 C98.08,464.99 98.30,466.17 98.30,467.20Z" fill="none" stroke="#c82238" stroke-width="0.85" stroke-opacity="0.95"/>
<path d="M96.60,467.50 C96.60,468.17 96.47,468.92 96.25,469.50 C96.03,470.08 95.68,470.63 95.30,470.96 C94.92,471.30 94.43,471.50 94.00,471.50 C93.57,471.50 93.08,471.30 92.70,470.96 C92.32,470.63 91.97,470.08 91.75,469.50 C91.53,468.92 91.40,468.17 91.40,467.50 C91.40,466.83 91.53,466.08 91.75,465.50 C91.97,464.92 92.32,464.37 92.70,464.04 C93.08,463.70 93.57,463.50 94.00,463.50 C94.43,463.50 94.92,463.70 95.30,464.04 C95.68,464.37 96.03,464.92 96.25,465.50 C96.47,466.08 96.60,466.83 96.60,467.50Z" fill="#cc3249" stroke="#fff" stroke-width="1.1" stroke-opacity="0.85"/>
<path d="M96.60,467.50 C96.60,468.17 96.47,468.92 96.25,469.50 C96.03,470.08 95.68,470.63 95.30,470.96 C94.92,471.30 94.43,471.50 94.00,471.50 C93.57,471.50 93.08,471.30 92.70,470.96 C92.32,470.63 91.97,470.08 91.75,469.50 C91.53,468.92 91.40,468.17 91.40,467.50 C91.40,466.83 91.53,466.08 91.75,465.50 C91.97,464.92 92.32,464.37 92.70,464.04 C93.08,463.70 93.57,463.50 94.00,463.50 C94.43,463.50 94.92,463.70 95.30,464.04 C95.68,464.37 96.03,464.92 96.25,465.50 C96.47,466.08 96.60,466.83 96.60,467.50Z" fill="none" stroke="#c82238" stroke-width="0.85" stroke-opacity="0.95"/>
<path d="M95.20,467.50 C95.20,467.87 95.13,468.28 95.03,468.60 C94.92,468.92 94.74,469.22 94.55,469.41 C94.36,469.59 94.12,469.70 93.90,469.70 C93.68,469.70 93.44,469.59 93.25,469.41 C93.06,469.22 92.88,468.92 92.77,468.60 C92.67,468.28 92.60,467.87 92.60,467.50 C92.60,467.13 92.67,466.72 92.77,466.40 C92.88,466.08 93.06,465.78 93.25,465.59 C93.44,465.41 93.68,465.30 93.90,465.30 C94.12,465.30 94.36,465.41 94.55,465.59 C94.74,465.78 94.92,466.08 95.03,466.40 C95.13,466.72 95.20,467.13 95.20,467.50Z" fill="#c02039" stroke="#fff" stroke-width="1.1" stroke-opacity="0.85"/>
<path d="M95.20,467.50 C95.20,467.87 95.13,468.28 95.03,468.60 C94.92,468.92 94.74,469.22 94.55,469.41 C94.36,469.59 94.12,469.70 93.90,469.70 C93.68,469.70 93.44,469.59 93.25,469.41 C93.06,469.22 92.88,468.92 92.77,468.60 C92.67,468.28 92.60,467.87 92.60,467.50 C92.60,467.13 92.67,466.72 92.77,466.40 C92.88,466.08 93.06,465.78 93.25,465.59 C93.44,465.41 93.68,465.30 93.90,465.30 C94.12,465.30 94.36,465.41 94.55,465.59 C94.74,465.78 94.92,466.08 95.03,466.40 C95.13,466.72 95.20,467.13 95.20,467.50Z" fill="none" stroke="#c82238" stroke-width="0.85" stroke-opacity="0.95"/>
<path d="M96.90,454.00 C96.90,455.25 96.65,456.67 96.23,457.75 C95.81,458.83 95.12,459.87 94.40,460.50 C93.68,461.12 92.73,461.50 91.90,461.50 C91.07,461.50 90.12,461.12 89.40,460.50 C88.68,459.87 87.99,458.83 87.57,457.75 C87.15,456.67 86.90,455.25 86.90,454.00 C86.90,452.75 87.15,451.33 87.57,450.25 C87.99,449.17 88.68,448.13 89.40,447.50 C90.12,446.88 91.07,446.50 91.90,446.50 C92.73,446.50 93.68,446.88 94.40,447.50 C95.12,448.13 95.81,449.17 96.23,450.25 C96.65,451.33 96.90,452.75 96.90,454.00Z" fill="#d84a5e" stroke="#fff" stroke-width="1.1" stroke-opacity="0.85"/>
<path d="M96.90,454.00 C96.90,455.25 96.65,456.67 96.23,457.75 C95.81,458.83 95.12,459.87 94.40,460.50 C93.68,461.12 92.73,461.50 91.90,461.50 C91.07,461.50 90.12,461.12 89.40,460.50 C88.68,459.87 87.99,458.83 87.57,457.75 C87.15,456.67 86.90,455.25 86.90,454.00 C86.90,452.75 87.15,451.33 87.57,450.25 C87.99,449.17 88.68,448.13 89.40,447.50 C90.12,446.88 91.07,446.50 91.90,446.50 C92.73,446.50 93.68,446.88 94.40,447.50 C95.12,448.13 95.81,449.17 96.23,450.25 C96.65,451.33 96.90,452.75 96.90,454.00Z" fill="none" stroke="#c82238" stroke-width="0.85" stroke-opacity="0.95"/>
<path d="M94.80,453.60 C94.80,454.30 94.65,455.09 94.40,455.70 C94.15,456.31 93.73,456.89 93.30,457.24 C92.87,457.59 92.30,457.80 91.80,457.80 C91.30,457.80 90.73,457.59 90.30,457.24 C89.87,456.89 89.45,456.31 89.20,455.70 C88.95,455.09 88.80,454.30 88.80,453.60 C88.80,452.90 88.95,452.11 89.20,451.50 C89.45,450.89 89.87,450.31 90.30,449.96 C90.73,449.61 91.30,449.40 91.80,449.40 C92.30,449.40 92.87,449.61 93.30,449.96 C93.73,450.31 94.15,450.89 94.40,451.50 C94.65,452.11 94.80,452.90 94.80,453.60Z" fill="#cc3249" stroke="#fff" stroke-width="1.1" stroke-opacity="0.85"/>
<path d="M94.80,453.60 C94.80,454.30 94.65,455.09 94.40,455.70 C94.15,456.31 93.73,456.89 93.30,457.24 C92.87,457.59 92.30,457.80 91.80,457.80 C91.30,457.80 90.73,457.59 90.30,457.24 C89.87,456.89 89.45,456.31 89.20,455.70 C88.95,455.09 88.80,454.30 88.80,453.60 C88.80,452.90 88.95,452.11 89.20,451.50 C89.45,450.89 89.87,450.31 90.30,449.96 C90.73,449.61 91.30,449.40 91.80,449.40 C92.30,449.40 92.87,449.61 93.30,449.96 C93.73,450.31 94.15,450.89 94.40,451.50 C94.65,452.11 94.80,452.90 94.80,453.60Z" fill="none" stroke="#c82238" stroke-width="0.85" stroke-opacity="0.95"/>
<path d="M93.50,453.30 C93.50,453.70 93.41,454.15 93.26,454.50 C93.11,454.85 92.86,455.18 92.60,455.38 C92.34,455.58 92.00,455.70 91.70,455.70 C91.40,455.70 91.06,455.58 90.80,455.38 C90.54,455.18 90.29,454.85 90.14,454.50 C89.99,454.15 89.90,453.70 89.90,453.30 C89.90,452.90 89.99,452.45 90.14,452.10 C90.29,451.75 90.54,451.42 90.80,451.22 C91.06,451.02 91.40,450.90 91.70,450.90 C92.00,450.90 92.34,451.02 92.60,451.22 C92.86,451.42 93.11,451.75 93.26,452.10 C93.41,452.45 93.50,452.90 93.50,453.30Z" fill="#c02039" stroke="#fff" stroke-width="1.1" stroke-opacity="0.85"/>
<path d="M93.50,453.30 C93.50,453.70 93.41,454.15 93.26,454.50 C93.11,454.85 92.86,455.18 92.60,455.38 C92.34,455.58 92.00,455.70 91.70,455.70 C91.40,455.70 91.06,455.58 90.80,455.38 C90.54,455.18 90.29,454.85 90.14,454.50 C89.99,454.15 89.90,453.70 89.90,453.30 C89.90,452.90 89.99,452.45 90.14,452.10 C90.29,451.75 90.54,451.42 90.80,451.22 C91.06,451.02 91.40,450.90 91.70,450.90 C92.00,450.90 92.34,451.02 92.60,451.22 C92.86,451.42 93.11,451.75 93.26,452.10 C93.41,452.45 93.50,452.90 93.50,453.30Z" fill="none" stroke="#c82238" stroke-width="0.85" stroke-opacity="0.95"/>
<path d="M92.60,453.20 C92.60,453.40 92.55,453.63 92.48,453.80 C92.40,453.97 92.28,454.14 92.15,454.24 C92.02,454.34 91.85,454.40 91.70,454.40 C91.55,454.40 91.38,454.34 91.25,454.24 C91.12,454.14 91.00,453.97 90.92,453.80 C90.85,453.63 90.80,453.40 90.80,453.20 C90.80,453.00 90.85,452.77 90.92,452.60 C91.00,452.43 91.12,452.26 91.25,452.16 C91.38,452.06 91.55,452.00 91.70,452.00 C91.85,452.00 92.02,452.06 92.15,452.16 C92.28,452.26 92.40,452.43 92.48,452.60 C92.55,452.77 92.60,453.00 92.60,453.20Z" fill="#aa1029" stroke="#fff" stroke-width="1.1" stroke-opacity="0.85"/>
<path d="M92.60,453.20 C92.60,453.40 92.55,453.63 92.48,453.80 C92.40,453.97 92.28,454.14 92.15,454.24 C92.02,454.34 91.85,454.40 91.70,454.40 C91.55,454.40 91.38,454.34 91.25,454.24 C91.12,454.14 91.00,453.97 90.92,453.80 C90.85,453.63 90.80,453.40 90.80,453.20 C90.80,453.00 90.85,452.77 90.92,452.60 C91.00,452.43 91.12,452.26 91.25,452.16 C91.38,452.06 91.55,452.00 91.70,452.00 C91.85,452.00 92.02,452.06 92.15,452.16 C92.28,452.26 92.40,452.43 92.48,452.60 C92.55,452.77 92.60,453.00 92.60,453.20Z" fill="none" stroke="#c82238" stroke-width="0.85" stroke-opacity="0.95"/>
<path d="M73.70,443.00 L82.40,438.40 L92.20,439.40 L95.30,443.50 L101.40,460.00 L99.90,475.40 L82.40,473.40 L73.10,452.80Z" fill="none" stroke="#484848" stroke-width="0.75" stroke-linejoin="round"/>
<path d="M94.20,441.50 L98.90,436.30 L107.60,436.30 L111.70,448.70 L109.70,461.50 L102.00,460.50Z" fill="none" stroke="#484848" stroke-width="0.75" stroke-linejoin="round"/>
<rect x="41.70" y="419.30" width="79.70" height="79.50" fill="none" stroke="#111" stroke-width="1.25"/>
<path d="M162.70,457.20 C163.22,455.65 164.83,453.47 165.80,451.80 C166.77,450.13 167.48,448.28 168.50,447.20 C169.52,446.12 170.68,445.80 171.90,445.30 C173.12,444.80 174.77,444.38 175.80,444.20 C176.83,444.02 177.33,444.47 178.10,444.20 C178.87,443.93 179.38,443.00 180.40,442.60 C181.42,442.20 183.05,441.80 184.20,441.80 C185.35,441.80 186.40,441.95 187.30,442.60 C188.20,443.25 189.15,444.42 189.60,445.70 C190.05,446.98 190.13,448.77 190.00,450.30 C189.87,451.83 189.38,453.37 188.80,454.90 C188.22,456.43 187.38,458.22 186.50,459.50 C185.62,460.78 184.33,461.57 183.50,462.60 C182.67,463.63 182.02,464.55 181.50,465.70 C180.98,466.85 180.97,468.73 180.40,469.50 C179.83,470.27 179.13,470.23 178.10,470.30 C177.07,470.37 175.48,470.15 174.20,469.90 C172.92,469.65 171.68,469.37 170.40,468.80 C169.12,468.23 167.72,467.27 166.50,466.50 C165.28,465.73 163.73,465.10 163.10,464.20 C162.47,463.30 162.77,462.27 162.70,461.10 C162.63,459.93 162.18,458.75 162.70,457.20Z" fill="#ea8894"/>
<path d="M162.70,457.20 C163.22,455.65 164.83,453.47 165.80,451.80 C166.77,450.13 167.48,448.28 168.50,447.20 C169.52,446.12 170.68,445.80 171.90,445.30 C173.12,444.80 174.77,444.38 175.80,444.20 C176.83,444.02 177.33,444.47 178.10,444.20 C178.87,443.93 179.38,443.00 180.40,442.60 C181.42,442.20 183.05,441.80 184.20,441.80 C185.35,441.80 186.40,441.95 187.30,442.60 C188.20,443.25 189.15,444.42 189.60,445.70 C190.05,446.98 190.13,448.77 190.00,450.30 C189.87,451.83 189.38,453.37 188.80,454.90 C188.22,456.43 187.38,458.22 186.50,459.50 C185.62,460.78 184.33,461.57 183.50,462.60 C182.67,463.63 182.02,464.55 181.50,465.70 C180.98,466.85 180.97,468.73 180.40,469.50 C179.83,470.27 179.13,470.23 178.10,470.30 C177.07,470.37 175.48,470.15 174.20,469.90 C172.92,469.65 171.68,469.37 170.40,468.80 C169.12,468.23 167.72,467.27 166.50,466.50 C165.28,465.73 163.73,465.10 163.10,464.20 C162.47,463.30 162.77,462.27 162.70,461.10 C162.63,459.93 162.18,458.75 162.70,457.20Z" fill="none" stroke="#a01828" stroke-width="0.9" stroke-opacity="0.95"/>
<path d="M189.06,452.14 C188.71,453.51 188.08,455.01 187.41,456.10 C186.73,457.20 185.83,458.18 185.01,458.70 C184.19,459.22 183.24,459.43 182.50,459.24 C181.75,459.05 181.02,458.41 180.55,457.56 C180.08,456.71 179.76,455.42 179.69,454.13 C179.62,452.85 179.79,451.23 180.14,449.86 C180.49,448.49 181.12,446.99 181.79,445.90 C182.47,444.80 183.37,443.82 184.19,443.30 C185.01,442.78 185.96,442.57 186.70,442.76 C187.45,442.95 188.18,443.59 188.65,444.44 C189.12,445.29 189.44,446.58 189.51,447.87 C189.58,449.15 189.41,450.77 189.06,452.14Z" fill="#e06472" stroke="#fff" stroke-width="1.1" stroke-opacity="0.85"/>
<path d="M189.06,452.14 C188.71,453.51 188.08,455.01 187.41,456.10 C186.73,457.20 185.83,458.18 185.01,458.70 C184.19,459.22 183.24,459.43 182.50,459.24 C181.75,459.05 181.02,458.41 180.55,457.56 C180.08,456.71 179.76,455.42 179.69,454.13 C179.62,452.85 179.79,451.23 180.14,449.86 C180.49,448.49 181.12,446.99 181.79,445.90 C182.47,444.80 183.37,443.82 184.19,443.30 C185.01,442.78 185.96,442.57 186.70,442.76 C187.45,442.95 188.18,443.59 188.65,444.44 C189.12,445.29 189.44,446.58 189.51,447.87 C189.58,449.15 189.41,450.77 189.06,452.14Z" fill="none" stroke="#c82238" stroke-width="0.85" stroke-opacity="0.95"/>
<path d="M187.71,451.24 C187.48,452.11 187.08,453.07 186.65,453.76 C186.21,454.45 185.63,455.07 185.10,455.40 C184.57,455.73 183.95,455.86 183.46,455.73 C182.98,455.61 182.50,455.20 182.19,454.66 C181.88,454.12 181.66,453.29 181.61,452.47 C181.57,451.66 181.67,450.63 181.89,449.76 C182.12,448.89 182.52,447.93 182.95,447.24 C183.39,446.55 183.97,445.93 184.50,445.60 C185.03,445.27 185.65,445.14 186.14,445.27 C186.62,445.39 187.10,445.80 187.41,446.34 C187.72,446.88 187.94,447.71 187.99,448.53 C188.03,449.34 187.93,450.37 187.71,451.24Z" fill="#d84a5e" stroke="#fff" stroke-width="1.1" stroke-opacity="0.85"/>
<path d="M187.71,451.24 C187.48,452.11 187.08,453.07 186.65,453.76 C186.21,454.45 185.63,455.07 185.10,455.40 C184.57,455.73 183.95,455.86 183.46,455.73 C182.98,455.61 182.50,455.20 182.19,454.66 C181.88,454.12 181.66,453.29 181.61,452.47 C181.57,451.66 181.67,450.63 181.89,449.76 C182.12,448.89 182.52,447.93 182.95,447.24 C183.39,446.55 183.97,445.93 184.50,445.60 C185.03,445.27 185.65,445.14 186.14,445.27 C186.62,445.39 187.10,445.80 187.41,446.34 C187.72,446.88 187.94,447.71 187.99,448.53 C188.03,449.34 187.93,450.37 187.71,451.24Z" fill="none" stroke="#c82238" stroke-width="0.85" stroke-opacity="0.95"/>
<path d="M186.26,450.55 C186.15,450.97 185.96,451.42 185.75,451.76 C185.55,452.09 185.27,452.39 185.02,452.55 C184.77,452.71 184.48,452.78 184.26,452.72 C184.03,452.66 183.81,452.47 183.66,452.21 C183.52,451.95 183.42,451.55 183.40,451.16 C183.38,450.77 183.44,450.27 183.54,449.85 C183.65,449.43 183.84,448.98 184.05,448.64 C184.25,448.31 184.53,448.01 184.78,447.85 C185.03,447.69 185.32,447.62 185.54,447.68 C185.77,447.74 185.99,447.93 186.14,448.19 C186.28,448.45 186.38,448.85 186.40,449.24 C186.42,449.63 186.36,450.13 186.26,450.55Z" fill="#fff" fill-opacity="0.85" stroke="#c82238" stroke-width="0.6" stroke-opacity="0.9"/>
<path d="M181.42,458.05 C181.15,459.86 180.49,461.86 179.67,463.34 C178.86,464.83 177.67,466.19 176.54,466.94 C175.40,467.70 174.01,468.05 172.86,467.88 C171.70,467.70 170.48,466.95 169.62,465.90 C168.75,464.84 168.02,463.19 167.68,461.53 C167.34,459.88 167.30,457.77 167.58,455.95 C167.85,454.14 168.51,452.14 169.33,450.66 C170.14,449.17 171.33,447.81 172.46,447.06 C173.60,446.30 174.99,445.95 176.14,446.12 C177.30,446.30 178.52,447.05 179.38,448.10 C180.25,449.16 180.98,450.81 181.32,452.47 C181.66,454.12 181.70,456.23 181.42,458.05Z" fill="#e06472" stroke="#fff" stroke-width="1.1" stroke-opacity="0.85"/>
<path d="M181.42,458.05 C181.15,459.86 180.49,461.86 179.67,463.34 C178.86,464.83 177.67,466.19 176.54,466.94 C175.40,467.70 174.01,468.05 172.86,467.88 C171.70,467.70 170.48,466.95 169.62,465.90 C168.75,464.84 168.02,463.19 167.68,461.53 C167.34,459.88 167.30,457.77 167.58,455.95 C167.85,454.14 168.51,452.14 169.33,450.66 C170.14,449.17 171.33,447.81 172.46,447.06 C173.60,446.30 174.99,445.95 176.14,446.12 C177.30,446.30 178.52,447.05 179.38,448.10 C180.25,449.16 180.98,450.81 181.32,452.47 C181.66,454.12 181.70,456.23 181.42,458.05Z" fill="none" stroke="#c82238" stroke-width="0.85" stroke-opacity="0.95"/>
<path d="M179.94,456.75 C179.74,458.07 179.27,459.52 178.68,460.60 C178.10,461.68 177.25,462.67 176.44,463.22 C175.62,463.78 174.63,464.03 173.80,463.91 C172.98,463.79 172.11,463.24 171.49,462.48 C170.88,461.71 170.36,460.51 170.12,459.31 C169.88,458.10 169.86,456.57 170.06,455.25 C170.26,453.93 170.73,452.48 171.32,451.40 C171.90,450.32 172.75,449.33 173.56,448.78 C174.38,448.22 175.37,447.97 176.20,448.09 C177.02,448.21 177.89,448.76 178.51,449.52 C179.12,450.29 179.64,451.49 179.88,452.69 C180.12,453.90 180.14,455.43 179.94,456.75Z" fill="#d84a5e" stroke="#fff" stroke-width="1.1" stroke-opacity="0.85"/>
<path d="M179.94,456.75 C179.74,458.07 179.27,459.52 178.68,460.60 C178.10,461.68 177.25,462.67 176.44,463.22 C175.62,463.78 174.63,464.03 173.80,463.91 C172.98,463.79 172.11,463.24 171.49,462.48 C170.88,461.71 170.36,460.51 170.12,459.31 C169.88,458.10 169.86,456.57 170.06,455.25 C170.26,453.93 170.73,452.48 171.32,451.40 C171.90,450.32 172.75,449.33 173.56,448.78 C174.38,448.22 175.37,447.97 176.20,448.09 C177.02,448.21 177.89,448.76 178.51,449.52 C179.12,450.29 179.64,451.49 179.88,452.69 C180.12,453.90 180.14,455.43 179.94,456.75Z" fill="none" stroke="#c82238" stroke-width="0.85" stroke-opacity="0.95"/>
<path d="M178.36,455.48 C178.24,456.30 177.94,457.21 177.57,457.89 C177.20,458.56 176.65,459.18 176.13,459.52 C175.62,459.86 174.98,460.02 174.45,459.94 C173.93,459.86 173.37,459.52 172.97,459.04 C172.58,458.56 172.24,457.81 172.09,457.06 C171.93,456.30 171.91,455.35 172.04,454.52 C172.16,453.70 172.46,452.79 172.83,452.11 C173.20,451.44 173.75,450.82 174.27,450.48 C174.78,450.14 175.42,449.98 175.95,450.06 C176.47,450.14 177.03,450.48 177.43,450.96 C177.82,451.44 178.16,452.19 178.31,452.94 C178.47,453.70 178.49,454.65 178.36,455.48Z" fill="#cc3249" stroke="#fff" stroke-width="1.1" stroke-opacity="0.85"/>
<path d="M178.36,455.48 C178.24,456.30 177.94,457.21 177.57,457.89 C177.20,458.56 176.65,459.18 176.13,459.52 C175.62,459.86 174.98,460.02 174.45,459.94 C173.93,459.86 173.37,459.52 172.97,459.04 C172.58,458.56 172.24,457.81 172.09,457.06 C171.93,456.30 171.91,455.35 172.04,454.52 C172.16,453.70 172.46,452.79 172.83,452.11 C173.20,451.44 173.75,450.82 174.27,450.48 C174.78,450.14 175.42,449.98 175.95,450.06 C176.47,450.14 177.03,450.48 177.43,450.96 C177.82,451.44 178.16,452.19 178.31,452.94 C178.47,453.70 178.49,454.65 178.36,455.48Z" fill="none" stroke="#c82238" stroke-width="0.85" stroke-opacity="0.95"/>
<path d="M176.99,453.98 C176.94,454.51 176.79,455.10 176.59,455.55 C176.40,455.99 176.10,456.41 175.82,456.65 C175.53,456.89 175.18,457.01 174.88,456.98 C174.58,456.95 174.26,456.76 174.03,456.47 C173.80,456.18 173.59,455.71 173.49,455.24 C173.39,454.76 173.36,454.15 173.41,453.62 C173.46,453.09 173.61,452.50 173.81,452.05 C174.00,451.61 174.30,451.19 174.58,450.95 C174.87,450.71 175.22,450.59 175.52,450.62 C175.82,450.65 176.14,450.84 176.37,451.13 C176.60,451.42 176.81,451.89 176.91,452.36 C177.01,452.84 177.04,453.45 176.99,453.98Z" fill="#c02039" stroke="#fff" stroke-width="1.1" stroke-opacity="0.85"/>
<path d="M176.99,453.98 C176.94,454.51 176.79,455.10 176.59,455.55 C176.40,455.99 176.10,456.41 175.82,456.65 C175.53,456.89 175.18,457.01 174.88,456.98 C174.58,456.95 174.26,456.76 174.03,456.47 C173.80,456.18 173.59,455.71 173.49,455.24 C173.39,454.76 173.36,454.15 173.41,453.62 C173.46,453.09 173.61,452.50 173.81,452.05 C174.00,451.61 174.30,451.19 174.58,450.95 C174.87,450.71 175.22,450.59 175.52,450.62 C175.82,450.65 176.14,450.84 176.37,451.13 C176.60,451.42 176.81,451.89 176.91,452.36 C177.01,452.84 177.04,453.45 176.99,453.98Z" fill="none" stroke="#c82238" stroke-width="0.85" stroke-opacity="0.95"/>
<path d="M176.10,453.30 C176.10,453.57 176.05,453.87 175.98,454.10 C175.90,454.33 175.78,454.55 175.65,454.69 C175.52,454.82 175.35,454.90 175.20,454.90 C175.05,454.90 174.88,454.82 174.75,454.69 C174.62,454.55 174.50,454.33 174.42,454.10 C174.35,453.87 174.30,453.57 174.30,453.30 C174.30,453.03 174.35,452.73 174.42,452.50 C174.50,452.27 174.62,452.05 174.75,451.91 C174.88,451.78 175.05,451.70 175.20,451.70 C175.35,451.70 175.52,451.78 175.65,451.91 C175.78,452.05 175.90,452.27 175.98,452.50 C176.05,452.73 176.10,453.03 176.10,453.30Z" fill="#aa1029" stroke="#fff" stroke-width="1.1" stroke-opacity="0.85"/>
<path d="M176.10,453.30 C176.10,453.57 176.05,453.87 175.98,454.10 C175.90,454.33 175.78,454.55 175.65,454.69 C175.52,454.82 175.35,454.90 175.20,454.90 C175.05,454.90 174.88,454.82 174.75,454.69 C174.62,454.55 174.50,454.33 174.42,454.10 C174.35,453.87 174.30,453.57 174.30,453.30 C174.30,453.03 174.35,452.73 174.42,452.50 C174.50,452.27 174.62,452.05 174.75,451.91 C174.88,451.78 175.05,451.70 175.20,451.70 C175.35,451.70 175.52,451.78 175.65,451.91 C175.78,452.05 175.90,452.27 175.98,452.50 C176.05,452.73 176.10,453.03 176.10,453.30Z" fill="none" stroke="#c82238" stroke-width="0.85" stroke-opacity="0.95"/>
<path d="M162.70,451.50 C162.70,451.63 162.66,451.78 162.59,451.90 C162.53,452.02 162.42,452.13 162.30,452.19 C162.18,452.26 162.03,452.30 161.90,452.30 C161.77,452.30 161.62,452.26 161.50,452.19 C161.38,452.13 161.27,452.02 161.21,451.90 C161.14,451.78 161.10,451.63 161.10,451.50 C161.10,451.37 161.14,451.22 161.21,451.10 C161.27,450.98 161.38,450.87 161.50,450.81 C161.62,450.74 161.77,450.70 161.90,450.70 C162.03,450.70 162.18,450.74 162.30,450.81 C162.42,450.87 162.53,450.98 162.59,451.10 C162.66,451.22 162.70,451.37 162.70,451.50Z" fill="#aa1029" stroke="#fff" stroke-width="1.1" stroke-opacity="0.85"/>
<path d="M162.70,451.50 C162.70,451.63 162.66,451.78 162.59,451.90 C162.53,452.02 162.42,452.13 162.30,452.19 C162.18,452.26 162.03,452.30 161.90,452.30 C161.77,452.30 161.62,452.26 161.50,452.19 C161.38,452.13 161.27,452.02 161.21,451.90 C161.14,451.78 161.10,451.63 161.10,451.50 C161.10,451.37 161.14,451.22 161.21,451.10 C161.27,450.98 161.38,450.87 161.50,450.81 C161.62,450.74 161.77,450.70 161.90,450.70 C162.03,450.70 162.18,450.74 162.30,450.81 C162.42,450.87 162.53,450.98 162.59,451.10 C162.66,451.22 162.70,451.37 162.70,451.50Z" fill="none" stroke="#c82238" stroke-width="0.85" stroke-opacity="0.95"/>
<path d="M166.40,461.80 C166.40,462.02 166.34,462.26 166.24,462.45 C166.14,462.64 165.97,462.82 165.80,462.93 C165.63,463.03 165.40,463.10 165.20,463.10 C165.00,463.10 164.77,463.03 164.60,462.93 C164.43,462.82 164.26,462.64 164.16,462.45 C164.06,462.26 164.00,462.02 164.00,461.80 C164.00,461.58 164.06,461.34 164.16,461.15 C164.26,460.96 164.43,460.78 164.60,460.67 C164.77,460.57 165.00,460.50 165.20,460.50 C165.40,460.50 165.63,460.57 165.80,460.67 C165.97,460.78 166.14,460.96 166.24,461.15 C166.34,461.34 166.40,461.58 166.40,461.80Z" fill="#c02039" stroke="#fff" stroke-width="1.1" stroke-opacity="0.85"/>
<path d="M166.40,461.80 C166.40,462.02 166.34,462.26 166.24,462.45 C166.14,462.64 165.97,462.82 165.80,462.93 C165.63,463.03 165.40,463.10 165.20,463.10 C165.00,463.10 164.77,463.03 164.60,462.93 C164.43,462.82 164.26,462.64 164.16,462.45 C164.06,462.26 164.00,462.02 164.00,461.80 C164.00,461.58 164.06,461.34 164.16,461.15 C164.26,460.96 164.43,460.78 164.60,460.67 C164.77,460.57 165.00,460.50 165.20,460.50 C165.40,460.50 165.63,460.57 165.80,460.67 C165.97,460.78 166.14,460.96 166.24,461.15 C166.34,461.34 166.40,461.58 166.40,461.80Z" fill="none" stroke="#c82238" stroke-width="0.85" stroke-opacity="0.95"/>
<path d="M177.70,467.60 C177.70,467.80 177.62,468.03 177.50,468.20 C177.37,468.37 177.17,468.54 176.95,468.64 C176.73,468.74 176.45,468.80 176.20,468.80 C175.95,468.80 175.67,468.74 175.45,468.64 C175.23,468.54 175.03,468.37 174.90,468.20 C174.78,468.03 174.70,467.80 174.70,467.60 C174.70,467.40 174.78,467.17 174.90,467.00 C175.03,466.83 175.23,466.66 175.45,466.56 C175.67,466.46 175.95,466.40 176.20,466.40 C176.45,466.40 176.73,466.46 176.95,466.56 C177.17,466.66 177.37,466.83 177.50,467.00 C177.62,467.17 177.70,467.40 177.70,467.60Z" fill="#fff" fill-opacity="0.85" stroke="#c82238" stroke-width="0.6" stroke-opacity="0.9"/>
<path d="M156.70,446.60 L165.40,441.50 L174.70,441.50 L177.80,446.60 L184.00,465.10 L182.90,477.50 L164.40,475.40 L156.20,459.00Z" fill="none" stroke="#484848" stroke-width="0.75" stroke-linejoin="round"/>
<path d="M177.30,444.00 L182.90,439.40 L191.70,439.90 L195.30,452.80 L192.20,464.60 L185.00,463.10Z" fill="none" stroke="#484848" stroke-width="0.75" stroke-linejoin="round"/>
<rect x="124.50" y="419.30" width="79.70" height="79.50" fill="none" stroke="#111" stroke-width="1.25"/>
<path d="M241.60,451.40 C241.78,450.68 243.00,450.85 243.90,450.20 C244.80,449.55 246.23,448.45 247.00,447.50 C247.77,446.55 247.60,445.20 248.50,444.50 C249.40,443.80 250.98,443.50 252.40,443.30 C253.82,443.10 255.72,443.23 257.00,443.30 C258.28,443.37 259.20,444.02 260.10,443.70 C261.00,443.38 261.38,441.78 262.40,441.40 C263.42,441.02 265.05,441.27 266.20,441.40 C267.35,441.53 268.40,441.68 269.30,442.20 C270.20,442.72 271.08,443.35 271.60,444.50 C272.12,445.65 272.47,447.43 272.40,449.10 C272.33,450.77 271.72,452.97 271.20,454.50 C270.68,456.03 270.00,457.15 269.30,458.30 C268.60,459.45 267.77,460.50 267.00,461.40 C266.23,462.30 265.22,462.80 264.70,463.70 C264.18,464.60 264.28,465.90 263.90,466.80 C263.52,467.70 263.17,468.53 262.40,469.10 C261.63,469.67 260.33,470.08 259.30,470.20 C258.27,470.32 257.22,470.12 256.20,469.80 C255.18,469.48 254.10,469.07 253.20,468.30 C252.30,467.53 251.45,466.22 250.80,465.20 C250.15,464.18 249.93,462.97 249.30,462.20 C248.67,461.43 247.63,461.25 247.00,460.60 C246.37,459.95 245.88,459.07 245.50,458.30 C245.12,457.53 245.15,456.63 244.70,456.00 C244.25,455.37 243.32,455.27 242.80,454.50 C242.28,453.73 241.42,452.12 241.60,451.40Z" fill="#ea8894"/>
<path d="M241.60,451.40 C241.78,450.68 243.00,450.85 243.90,450.20 C244.80,449.55 246.23,448.45 247.00,447.50 C247.77,446.55 247.60,445.20 248.50,444.50 C249.40,443.80 250.98,443.50 252.40,443.30 C253.82,443.10 255.72,443.23 257.00,443.30 C258.28,443.37 259.20,444.02 260.10,443.70 C261.00,443.38 261.38,441.78 262.40,441.40 C263.42,441.02 265.05,441.27 266.20,441.40 C267.35,441.53 268.40,441.68 269.30,442.20 C270.20,442.72 271.08,443.35 271.60,444.50 C272.12,445.65 272.47,447.43 272.40,449.10 C272.33,450.77 271.72,452.97 271.20,454.50 C270.68,456.03 270.00,457.15 269.30,458.30 C268.60,459.45 267.77,460.50 267.00,461.40 C266.23,462.30 265.22,462.80 264.70,463.70 C264.18,464.60 264.28,465.90 263.90,466.80 C263.52,467.70 263.17,468.53 262.40,469.10 C261.63,469.67 260.33,470.08 259.30,470.20 C258.27,470.32 257.22,470.12 256.20,469.80 C255.18,469.48 254.10,469.07 253.20,468.30 C252.30,467.53 251.45,466.22 250.80,465.20 C250.15,464.18 249.93,462.97 249.30,462.20 C248.67,461.43 247.63,461.25 247.00,460.60 C246.37,459.95 245.88,459.07 245.50,458.30 C245.12,457.53 245.15,456.63 244.70,456.00 C244.25,455.37 243.32,455.27 242.80,454.50 C242.28,453.73 241.42,452.12 241.60,451.40Z" fill="none" stroke="#a01828" stroke-width="0.9" stroke-opacity="0.95"/>
<path d="M247.10,461.80 C247.10,462.05 247.02,462.33 246.89,462.55 C246.75,462.77 246.53,462.97 246.30,463.10 C246.07,463.22 245.77,463.30 245.50,463.30 C245.23,463.30 244.93,463.22 244.70,463.10 C244.47,462.97 244.25,462.77 244.11,462.55 C243.98,462.33 243.90,462.05 243.90,461.80 C243.90,461.55 243.98,461.27 244.11,461.05 C244.25,460.83 244.47,460.63 244.70,460.50 C244.93,460.38 245.23,460.30 245.50,460.30 C245.77,460.30 246.07,460.38 246.30,460.50 C246.53,460.63 246.75,460.83 246.89,461.05 C247.02,461.27 247.10,461.55 247.10,461.80Z" fill="#c02039" stroke="#fff" stroke-width="1.1" stroke-opacity="0.85"/>
<path d="M247.10,461.80 C247.10,462.05 247.02,462.33 246.89,462.55 C246.75,462.77 246.53,462.97 246.30,463.10 C246.07,463.22 245.77,463.30 245.50,463.30 C245.23,463.30 244.93,463.22 244.70,463.10 C244.47,462.97 244.25,462.77 244.11,462.55 C243.98,462.33 243.90,462.05 243.90,461.80 C243.90,461.55 243.98,461.27 244.11,461.05 C244.25,460.83 244.47,460.63 244.70,460.50 C244.93,460.38 245.23,460.30 245.50,460.30 C245.77,460.30 246.07,460.38 246.30,460.50 C246.53,460.63 246.75,460.83 246.89,461.05 C247.02,461.27 247.10,461.55 247.10,461.80Z" fill="none" stroke="#c82238" stroke-width="0.85" stroke-opacity="0.95"/>
<path d="M270.81,452.98 C270.42,454.52 269.68,456.18 268.86,457.39 C268.04,458.59 266.91,459.66 265.87,460.21 C264.84,460.77 263.62,460.95 262.65,460.70 C261.68,460.46 260.70,459.71 260.06,458.73 C259.41,457.75 258.94,456.27 258.79,454.82 C258.65,453.36 258.79,451.55 259.19,450.02 C259.58,448.48 260.32,446.82 261.14,445.61 C261.96,444.41 263.09,443.34 264.13,442.79 C265.16,442.23 266.38,442.05 267.35,442.30 C268.32,442.54 269.30,443.29 269.94,444.27 C270.59,445.25 271.06,446.73 271.21,448.18 C271.35,449.64 271.21,451.45 270.81,452.98Z" fill="#e06472" stroke="#fff" stroke-width="1.1" stroke-opacity="0.85"/>
<path d="M270.81,452.98 C270.42,454.52 269.68,456.18 268.86,457.39 C268.04,458.59 266.91,459.66 265.87,460.21 C264.84,460.77 263.62,460.95 262.65,460.70 C261.68,460.46 260.70,459.71 260.06,458.73 C259.41,457.75 258.94,456.27 258.79,454.82 C258.65,453.36 258.79,451.55 259.19,450.02 C259.58,448.48 260.32,446.82 261.14,445.61 C261.96,444.41 263.09,443.34 264.13,442.79 C265.16,442.23 266.38,442.05 267.35,442.30 C268.32,442.54 269.30,443.29 269.94,444.27 C270.59,445.25 271.06,446.73 271.21,448.18 C271.35,449.64 271.21,451.45 270.81,452.98Z" fill="none" stroke="#c82238" stroke-width="0.85" stroke-opacity="0.95"/>
<path d="M268.88,451.49 C268.61,452.54 268.11,453.68 267.55,454.51 C267.00,455.33 266.24,456.07 265.55,456.45 C264.85,456.83 264.04,456.96 263.39,456.80 C262.75,456.63 262.09,456.13 261.67,455.46 C261.24,454.79 260.93,453.78 260.84,452.79 C260.75,451.80 260.86,450.56 261.12,449.51 C261.39,448.46 261.89,447.32 262.45,446.49 C263.00,445.67 263.76,444.93 264.45,444.55 C265.15,444.17 265.96,444.04 266.61,444.20 C267.25,444.37 267.91,444.87 268.33,445.54 C268.76,446.21 269.07,447.22 269.16,448.21 C269.25,449.20 269.14,450.44 268.88,451.49Z" fill="#d84a5e" stroke="#fff" stroke-width="1.1" stroke-opacity="0.85"/>
<path d="M268.88,451.49 C268.61,452.54 268.11,453.68 267.55,454.51 C267.00,455.33 266.24,456.07 265.55,456.45 C264.85,456.83 264.04,456.96 263.39,456.80 C262.75,456.63 262.09,456.13 261.67,455.46 C261.24,454.79 260.93,453.78 260.84,452.79 C260.75,451.80 260.86,450.56 261.12,449.51 C261.39,448.46 261.89,447.32 262.45,446.49 C263.00,445.67 263.76,444.93 264.45,444.55 C265.15,444.17 265.96,444.04 266.61,444.20 C267.25,444.37 267.91,444.87 268.33,445.54 C268.76,446.21 269.07,447.22 269.16,448.21 C269.25,449.20 269.14,450.44 268.88,451.49Z" fill="none" stroke="#c82238" stroke-width="0.85" stroke-opacity="0.95"/>
<path d="M266.74,450.45 C266.62,450.93 266.39,451.46 266.14,451.84 C265.89,452.22 265.54,452.56 265.23,452.74 C264.92,452.92 264.55,452.98 264.26,452.91 C263.97,452.83 263.68,452.60 263.49,452.29 C263.30,451.99 263.16,451.52 263.12,451.07 C263.08,450.61 263.13,450.04 263.26,449.55 C263.38,449.07 263.61,448.54 263.86,448.16 C264.11,447.78 264.46,447.44 264.77,447.26 C265.08,447.08 265.45,447.02 265.74,447.09 C266.03,447.17 266.32,447.40 266.51,447.71 C266.70,448.01 266.84,448.48 266.88,448.93 C266.92,449.39 266.87,449.96 266.74,450.45Z" fill="#fff" fill-opacity="0.85" stroke="#c82238" stroke-width="0.6" stroke-opacity="0.9"/>
<path d="M262.10,456.50 C262.10,458.30 261.77,460.34 261.22,461.90 C260.67,463.46 259.75,464.95 258.80,465.85 C257.85,466.75 256.60,467.30 255.50,467.30 C254.40,467.30 253.15,466.75 252.20,465.85 C251.25,464.95 250.33,463.46 249.78,461.90 C249.23,460.34 248.90,458.30 248.90,456.50 C248.90,454.70 249.23,452.66 249.78,451.10 C250.33,449.54 251.25,448.05 252.20,447.15 C253.15,446.25 254.40,445.70 255.50,445.70 C256.60,445.70 257.85,446.25 258.80,447.15 C259.75,448.05 260.67,449.54 261.22,451.10 C261.77,452.66 262.10,454.70 262.10,456.50Z" fill="#e06472" stroke="#fff" stroke-width="1.1" stroke-opacity="0.85"/>
<path d="M262.10,456.50 C262.10,458.30 261.77,460.34 261.22,461.90 C260.67,463.46 259.75,464.95 258.80,465.85 C257.85,466.75 256.60,467.30 255.50,467.30 C254.40,467.30 253.15,466.75 252.20,465.85 C251.25,464.95 250.33,463.46 249.78,461.90 C249.23,460.34 248.90,458.30 248.90,456.50 C248.90,454.70 249.23,452.66 249.78,451.10 C250.33,449.54 251.25,448.05 252.20,447.15 C253.15,446.25 254.40,445.70 255.50,445.70 C256.60,445.70 257.85,446.25 258.80,447.15 C259.75,448.05 260.67,449.54 261.22,451.10 C261.77,452.66 262.10,454.70 262.10,456.50Z" fill="none" stroke="#c82238" stroke-width="0.85" stroke-opacity="0.95"/>
<path d="M259.90,454.00 C259.90,455.17 259.67,456.49 259.28,457.50 C258.90,458.51 258.26,459.48 257.60,460.06 C256.94,460.65 256.07,461.00 255.30,461.00 C254.53,461.00 253.66,460.65 253.00,460.06 C252.34,459.48 251.70,458.51 251.32,457.50 C250.93,456.49 250.70,455.17 250.70,454.00 C250.70,452.83 250.93,451.51 251.32,450.50 C251.70,449.49 252.34,448.52 253.00,447.94 C253.66,447.35 254.53,447.00 255.30,447.00 C256.07,447.00 256.94,447.35 257.60,447.94 C258.26,448.52 258.90,449.49 259.28,450.50 C259.67,451.51 259.90,452.83 259.90,454.00Z" fill="#d84a5e" stroke="#fff" stroke-width="1.1" stroke-opacity="0.85"/>
<path d="M259.90,454.00 C259.90,455.17 259.67,456.49 259.28,457.50 C258.90,458.51 258.26,459.48 257.60,460.06 C256.94,460.65 256.07,461.00 255.30,461.00 C254.53,461.00 253.66,460.65 253.00,460.06 C252.34,459.48 251.70,458.51 251.32,457.50 C250.93,456.49 250.70,455.17 250.70,454.00 C250.70,452.83 250.93,451.51 251.32,450.50 C251.70,449.49 252.34,448.52 253.00,447.94 C253.66,447.35 254.53,447.00 255.30,447.00 C256.07,447.00 256.94,447.35 257.60,447.94 C258.26,448.52 258.90,449.49 259.28,450.50 C259.67,451.51 259.90,452.83 259.90,454.00Z" fill="none" stroke="#c82238" stroke-width="0.85" stroke-opacity="0.95"/>
<path d="M257.90,452.20 C257.90,452.83 257.76,453.55 257.52,454.10 C257.29,454.65 256.90,455.17 256.50,455.49 C256.10,455.81 255.57,456.00 255.10,456.00 C254.63,456.00 254.10,455.81 253.70,455.49 C253.30,455.17 252.91,454.65 252.68,454.10 C252.44,453.55 252.30,452.83 252.30,452.20 C252.30,451.57 252.44,450.85 252.68,450.30 C252.91,449.75 253.30,449.23 253.70,448.91 C254.10,448.59 254.63,448.40 255.10,448.40 C255.57,448.40 256.10,448.59 256.50,448.91 C256.90,449.23 257.29,449.75 257.52,450.30 C257.76,450.85 257.90,451.57 257.90,452.20Z" fill="#cc3249" stroke="#fff" stroke-width="1.1" stroke-opacity="0.85"/>
<path d="M257.90,452.20 C257.90,452.83 257.76,453.55 257.52,454.10 C257.29,454.65 256.90,455.17 256.50,455.49 C256.10,455.81 255.57,456.00 255.10,456.00 C254.63,456.00 254.10,455.81 253.70,455.49 C253.30,455.17 252.91,454.65 252.68,454.10 C252.44,453.55 252.30,452.83 252.30,452.20 C252.30,451.57 252.44,450.85 252.68,450.30 C252.91,449.75 253.30,449.23 253.70,448.91 C254.10,448.59 254.63,448.40 255.10,448.40 C255.57,448.40 256.10,448.59 256.50,448.91 C256.90,449.23 257.29,449.75 257.52,450.30 C257.76,450.85 257.90,451.57 257.90,452.20Z" fill="none" stroke="#c82238" stroke-width="0.85" stroke-opacity="0.95"/>
<path d="M256.50,451.40 C256.50,451.70 256.42,452.04 256.30,452.30 C256.17,452.56 255.97,452.81 255.75,452.96 C255.53,453.11 255.25,453.20 255.00,453.20 C254.75,453.20 254.47,453.11 254.25,452.96 C254.03,452.81 253.83,452.56 253.70,452.30 C253.58,452.04 253.50,451.70 253.50,451.40 C253.50,451.10 253.58,450.76 253.70,450.50 C253.83,450.24 254.03,449.99 254.25,449.84 C254.47,449.69 254.75,449.60 255.00,449.60 C255.25,449.60 255.53,449.69 255.75,449.84 C255.97,449.99 256.17,450.24 256.30,450.50 C256.42,450.76 256.50,451.10 256.50,451.40Z" fill="#c02039" stroke="#fff" stroke-width="1.1" stroke-opacity="0.85"/>
<path d="M256.50,451.40 C256.50,451.70 256.42,452.04 256.30,452.30 C256.17,452.56 255.97,452.81 255.75,452.96 C255.53,453.11 255.25,453.20 255.00,453.20 C254.75,453.20 254.47,453.11 254.25,452.96 C254.03,452.81 253.83,452.56 253.70,452.30 C253.58,452.04 253.50,451.70 253.50,451.40 C253.50,451.10 253.58,450.76 253.70,450.50 C253.83,450.24 254.03,449.99 254.25,449.84 C254.47,449.69 254.75,449.60 255.00,449.60 C255.25,449.60 255.53,449.69 255.75,449.84 C255.97,449.99 256.17,450.24 256.30,450.50 C256.42,450.76 256.50,451.10 256.50,451.40Z" fill="none" stroke="#c82238" stroke-width="0.85" stroke-opacity="0.95"/>
<path d="M261.20,464.50 C261.20,465.17 261.01,465.92 260.69,466.50 C260.37,467.08 259.85,467.63 259.30,467.96 C258.75,468.30 258.03,468.50 257.40,468.50 C256.77,468.50 256.05,468.30 255.50,467.96 C254.95,467.63 254.43,467.08 254.11,466.50 C253.79,465.92 253.60,465.17 253.60,464.50 C253.60,463.83 253.79,463.08 254.11,462.50 C254.43,461.92 254.95,461.37 255.50,461.04 C256.05,460.70 256.77,460.50 257.40,460.50 C258.03,460.50 258.75,460.70 259.30,461.04 C259.85,461.37 260.37,461.92 260.69,462.50 C261.01,463.08 261.20,463.83 261.20,464.50Z" fill="#d84a5e" stroke="#fff" stroke-width="1.1" stroke-opacity="0.85"/>
<path d="M261.20,464.50 C261.20,465.17 261.01,465.92 260.69,466.50 C260.37,467.08 259.85,467.63 259.30,467.96 C258.75,468.30 258.03,468.50 257.40,468.50 C256.77,468.50 256.05,468.30 255.50,467.96 C254.95,467.63 254.43,467.08 254.11,466.50 C253.79,465.92 253.60,465.17 253.60,464.50 C253.60,463.83 253.79,463.08 254.11,462.50 C254.43,461.92 254.95,461.37 255.50,461.04 C256.05,460.70 256.77,460.50 257.40,460.50 C258.03,460.50 258.75,460.70 259.30,461.04 C259.85,461.37 260.37,461.92 260.69,462.50 C261.01,463.08 261.20,463.83 261.20,464.50Z" fill="none" stroke="#c82238" stroke-width="0.85" stroke-opacity="0.95"/>
<path d="M259.60,464.60 C259.60,465.00 259.49,465.45 259.31,465.80 C259.12,466.15 258.82,466.48 258.50,466.68 C258.18,466.88 257.77,467.00 257.40,467.00 C257.03,467.00 256.62,466.88 256.30,466.68 C255.98,466.48 255.68,466.15 255.49,465.80 C255.31,465.45 255.20,465.00 255.20,464.60 C255.20,464.20 255.31,463.75 255.49,463.40 C255.68,463.05 255.98,462.72 256.30,462.52 C256.62,462.32 257.03,462.20 257.40,462.20 C257.77,462.20 258.18,462.32 258.50,462.52 C258.82,462.72 259.12,463.05 259.31,463.40 C259.49,463.75 259.60,464.20 259.60,464.60Z" fill="#cc3249" stroke="#fff" stroke-width="1.1" stroke-opacity="0.85"/>
<path d="M259.60,464.60 C259.60,465.00 259.49,465.45 259.31,465.80 C259.12,466.15 258.82,466.48 258.50,466.68 C258.18,466.88 257.77,467.00 257.40,467.00 C257.03,467.00 256.62,466.88 256.30,466.68 C255.98,466.48 255.68,466.15 255.49,465.80 C255.31,465.45 255.20,465.00 255.20,464.60 C255.20,464.20 255.31,463.75 255.49,463.40 C255.68,463.05 255.98,462.72 256.30,462.52 C256.62,462.32 257.03,462.20 257.40,462.20 C257.77,462.20 258.18,462.32 258.50,462.52 C258.82,462.72 259.12,463.05 259.31,463.40 C259.49,463.75 259.60,464.20 259.60,464.60Z" fill="none" stroke="#c82238" stroke-width="0.85" stroke-opacity="0.95"/>
<path d="M258.50,464.60 C258.50,464.80 258.44,465.03 258.35,465.20 C258.26,465.37 258.11,465.54 257.95,465.64 C257.79,465.74 257.58,465.80 257.40,465.80 C257.22,465.80 257.01,465.74 256.85,465.64 C256.69,465.54 256.54,465.37 256.45,465.20 C256.36,465.03 256.30,464.80 256.30,464.60 C256.30,464.40 256.36,464.17 256.45,464.00 C256.54,463.83 256.69,463.66 256.85,463.56 C257.01,463.46 257.22,463.40 257.40,463.40 C257.58,463.40 257.79,463.46 257.95,463.56 C258.11,463.66 258.26,463.83 258.35,464.00 C258.44,464.17 258.50,464.40 258.50,464.60Z" fill="#c02039" stroke="#fff" stroke-width="1.1" stroke-opacity="0.85"/>
<path d="M258.50,464.60 C258.50,464.80 258.44,465.03 258.35,465.20 C258.26,465.37 258.11,465.54 257.95,465.64 C257.79,465.74 257.58,465.80 257.40,465.80 C257.22,465.80 257.01,465.74 256.85,465.64 C256.69,465.54 256.54,465.37 256.45,465.20 C256.36,465.03 256.30,464.80 256.30,464.60 C256.30,464.40 256.36,464.17 256.45,464.00 C256.54,463.83 256.69,463.66 256.85,463.56 C257.01,463.46 257.22,463.40 257.40,463.40 C257.58,463.40 257.79,463.46 257.95,463.56 C258.11,463.66 258.26,463.83 258.35,464.00 C258.44,464.17 258.50,464.40 258.50,464.60Z" fill="none" stroke="#c82238" stroke-width="0.85" stroke-opacity="0.95"/>
<path d="M238.10,444.60 L245.50,440.90 L256.00,441.40 L259.70,445.60 L265.60,466.30 L264.00,475.30 L243.90,473.70 L237.50,456.70Z" fill="none" stroke="#484848" stroke-width="0.75" stroke-linejoin="round"/>
<path d="M258.70,442.50 L264.50,437.70 L273.50,438.20 L277.70,453.60 L274.00,465.70 L266.10,464.20Z" fill="none" stroke="#484848" stroke-width="0.75" stroke-linejoin="round"/>
<rect x="206.70" y="419.30" width="79.70" height="79.50" fill="none" stroke="#111" stroke-width="1.25"/>
<path d="M322.60,447.50 C322.98,446.22 324.55,446.03 325.70,445.20 C326.85,444.37 328.22,443.00 329.50,442.50 C330.78,442.00 332.12,442.20 333.40,442.20 C334.68,442.20 336.05,442.25 337.20,442.50 C338.35,442.75 339.40,443.75 340.30,443.70 C341.20,443.65 341.57,442.65 342.60,442.20 C343.63,441.75 345.22,441.13 346.50,441.00 C347.78,440.87 349.15,440.95 350.30,441.40 C351.45,441.85 352.70,442.55 353.40,443.70 C354.10,444.85 354.43,446.77 354.50,448.30 C354.57,449.83 354.25,451.48 353.80,452.90 C353.35,454.32 352.63,455.65 351.80,456.80 C350.97,457.95 349.68,458.90 348.80,459.80 C347.92,460.70 347.15,461.17 346.50,462.20 C345.85,463.23 345.55,464.98 344.90,466.00 C344.25,467.02 343.50,467.67 342.60,468.30 C341.70,468.93 340.65,469.55 339.50,469.80 C338.35,470.05 336.98,470.05 335.70,469.80 C334.42,469.55 332.95,469.07 331.80,468.30 C330.65,467.53 329.68,466.35 328.80,465.20 C327.92,464.05 327.15,462.68 326.50,461.40 C325.85,460.12 325.42,458.92 324.90,457.50 C324.38,456.08 323.78,454.57 323.40,452.90 C323.02,451.23 322.22,448.78 322.60,447.50Z" fill="#ea8894"/>
<path d="M322.60,447.50 C322.98,446.22 324.55,446.03 325.70,445.20 C326.85,444.37 328.22,443.00 329.50,442.50 C330.78,442.00 332.12,442.20 333.40,442.20 C334.68,442.20 336.05,442.25 337.20,442.50 C338.35,442.75 339.40,443.75 340.30,443.70 C341.20,443.65 341.57,442.65 342.60,442.20 C343.63,441.75 345.22,441.13 346.50,441.00 C347.78,440.87 349.15,440.95 350.30,441.40 C351.45,441.85 352.70,442.55 353.40,443.70 C354.10,444.85 354.43,446.77 354.50,448.30 C354.57,449.83 354.25,451.48 353.80,452.90 C353.35,454.32 352.63,455.65 351.80,456.80 C350.97,457.95 349.68,458.90 348.80,459.80 C347.92,460.70 347.15,461.17 346.50,462.20 C345.85,463.23 345.55,464.98 344.90,466.00 C344.25,467.02 343.50,467.67 342.60,468.30 C341.70,468.93 340.65,469.55 339.50,469.80 C338.35,470.05 336.98,470.05 335.70,469.80 C334.42,469.55 332.95,469.07 331.80,468.30 C330.65,467.53 329.68,466.35 328.80,465.20 C327.92,464.05 327.15,462.68 326.50,461.40 C325.85,460.12 325.42,458.92 324.90,457.50 C324.38,456.08 323.78,454.57 323.40,452.90 C323.02,451.23 322.22,448.78 322.60,447.50Z" fill="none" stroke="#a01828" stroke-width="0.9" stroke-opacity="0.95"/>
<path d="M353.92,453.33 C353.49,454.73 352.70,456.23 351.83,457.29 C350.96,458.35 349.78,459.26 348.71,459.70 C347.64,460.13 346.39,460.21 345.40,459.91 C344.41,459.60 343.42,458.83 342.79,457.86 C342.15,456.90 341.69,455.48 341.57,454.12 C341.45,452.75 341.64,451.07 342.08,449.67 C342.51,448.27 343.30,446.77 344.17,445.71 C345.04,444.65 346.22,443.74 347.29,443.30 C348.36,442.87 349.61,442.79 350.60,443.09 C351.59,443.40 352.58,444.17 353.21,445.14 C353.85,446.10 354.31,447.52 354.43,448.88 C354.55,450.25 354.36,451.93 353.92,453.33Z" fill="#e06472" stroke="#fff" stroke-width="1.1" stroke-opacity="0.85"/>
<path d="M353.92,453.33 C353.49,454.73 352.70,456.23 351.83,457.29 C350.96,458.35 349.78,459.26 348.71,459.70 C347.64,460.13 346.39,460.21 345.40,459.91 C344.41,459.60 343.42,458.83 342.79,457.86 C342.15,456.90 341.69,455.48 341.57,454.12 C341.45,452.75 341.64,451.07 342.08,449.67 C342.51,448.27 343.30,446.77 344.17,445.71 C345.04,444.65 346.22,443.74 347.29,443.30 C348.36,442.87 349.61,442.79 350.60,443.09 C351.59,443.40 352.58,444.17 353.21,445.14 C353.85,446.10 354.31,447.52 354.43,448.88 C354.55,450.25 354.36,451.93 353.92,453.33Z" fill="none" stroke="#c82238" stroke-width="0.85" stroke-opacity="0.95"/>
<path d="M351.81,451.74 C351.53,452.66 351.00,453.65 350.42,454.35 C349.84,455.04 349.04,455.64 348.32,455.92 C347.60,456.20 346.75,456.25 346.09,456.04 C345.42,455.83 344.75,455.32 344.31,454.68 C343.87,454.04 343.56,453.10 343.47,452.20 C343.38,451.29 343.50,450.18 343.79,449.26 C344.07,448.34 344.60,447.35 345.18,446.65 C345.76,445.96 346.56,445.36 347.28,445.08 C348.00,444.80 348.85,444.75 349.51,444.96 C350.18,445.17 350.85,445.68 351.29,446.32 C351.73,446.96 352.04,447.90 352.13,448.80 C352.22,449.71 352.10,450.82 351.81,451.74Z" fill="#d84a5e" stroke="#fff" stroke-width="1.1" stroke-opacity="0.85"/>
<path d="M351.81,451.74 C351.53,452.66 351.00,453.65 350.42,454.35 C349.84,455.04 349.04,455.64 348.32,455.92 C347.60,456.20 346.75,456.25 346.09,456.04 C345.42,455.83 344.75,455.32 344.31,454.68 C343.87,454.04 343.56,453.10 343.47,452.20 C343.38,451.29 343.50,450.18 343.79,449.26 C344.07,448.34 344.60,447.35 345.18,446.65 C345.76,445.96 346.56,445.36 347.28,445.08 C348.00,444.80 348.85,444.75 349.51,444.96 C350.18,445.17 350.85,445.68 351.29,446.32 C351.73,446.96 352.04,447.90 352.13,448.80 C352.22,449.71 352.10,450.82 351.81,451.74Z" fill="none" stroke="#c82238" stroke-width="0.85" stroke-opacity="0.95"/>
<path d="M349.70,450.15 C349.55,450.63 349.28,451.14 348.98,451.50 C348.67,451.86 348.26,452.16 347.88,452.31 C347.51,452.45 347.06,452.47 346.71,452.37 C346.36,452.26 346.01,451.99 345.78,451.66 C345.55,451.32 345.38,450.84 345.34,450.37 C345.29,449.90 345.35,449.33 345.50,448.85 C345.65,448.37 345.92,447.86 346.22,447.50 C346.53,447.14 346.94,446.84 347.32,446.69 C347.69,446.55 348.14,446.53 348.49,446.63 C348.84,446.74 349.19,447.01 349.42,447.34 C349.65,447.68 349.82,448.16 349.86,448.63 C349.91,449.10 349.85,449.67 349.70,450.15Z" fill="#cc3249" stroke="#fff" stroke-width="1.1" stroke-opacity="0.85"/>
<path d="M349.70,450.15 C349.55,450.63 349.28,451.14 348.98,451.50 C348.67,451.86 348.26,452.16 347.88,452.31 C347.51,452.45 347.06,452.47 346.71,452.37 C346.36,452.26 346.01,451.99 345.78,451.66 C345.55,451.32 345.38,450.84 345.34,450.37 C345.29,449.90 345.35,449.33 345.50,448.85 C345.65,448.37 345.92,447.86 346.22,447.50 C346.53,447.14 346.94,446.84 347.32,446.69 C347.69,446.55 348.14,446.53 348.49,446.63 C348.84,446.74 349.19,447.01 349.42,447.34 C349.65,447.68 349.82,448.16 349.86,448.63 C349.91,449.10 349.85,449.67 349.70,450.15Z" fill="none" stroke="#c82238" stroke-width="0.85" stroke-opacity="0.95"/>
<path d="M348.20,453.00 C348.20,453.13 348.13,453.28 348.01,453.40 C347.90,453.52 347.70,453.63 347.50,453.69 C347.30,453.76 347.03,453.80 346.80,453.80 C346.57,453.80 346.30,453.76 346.10,453.69 C345.90,453.63 345.70,453.52 345.59,453.40 C345.47,453.28 345.40,453.13 345.40,453.00 C345.40,452.87 345.47,452.72 345.59,452.60 C345.70,452.48 345.90,452.37 346.10,452.31 C346.30,452.24 346.57,452.20 346.80,452.20 C347.03,452.20 347.30,452.24 347.50,452.31 C347.70,452.37 347.90,452.48 348.01,452.60 C348.13,452.72 348.20,452.87 348.20,453.00Z" fill="#fff" fill-opacity="0.85" stroke="#c82238" stroke-width="0.6" stroke-opacity="0.9"/>
<path d="M344.00,456.00 C344.00,458.00 343.59,460.27 342.93,462.00 C342.26,463.73 341.15,465.39 340.00,466.39 C338.85,467.39 337.33,468.00 336.00,468.00 C334.67,468.00 333.15,467.39 332.00,466.39 C330.85,465.39 329.74,463.73 329.07,462.00 C328.41,460.27 328.00,458.00 328.00,456.00 C328.00,454.00 328.41,451.73 329.07,450.00 C329.74,448.27 330.85,446.61 332.00,445.61 C333.15,444.61 334.67,444.00 336.00,444.00 C337.33,444.00 338.85,444.61 340.00,445.61 C341.15,446.61 342.26,448.27 342.93,450.00 C343.59,451.73 344.00,454.00 344.00,456.00Z" fill="#e06472" stroke="#fff" stroke-width="1.1" stroke-opacity="0.85"/>
<path d="M344.00,456.00 C344.00,458.00 343.59,460.27 342.93,462.00 C342.26,463.73 341.15,465.39 340.00,466.39 C338.85,467.39 337.33,468.00 336.00,468.00 C334.67,468.00 333.15,467.39 332.00,466.39 C330.85,465.39 329.74,463.73 329.07,462.00 C328.41,460.27 328.00,458.00 328.00,456.00 C328.00,454.00 328.41,451.73 329.07,450.00 C329.74,448.27 330.85,446.61 332.00,445.61 C333.15,444.61 334.67,444.00 336.00,444.00 C337.33,444.00 338.85,444.61 340.00,445.61 C341.15,446.61 342.26,448.27 342.93,450.00 C343.59,451.73 344.00,454.00 344.00,456.00Z" fill="none" stroke="#c82238" stroke-width="0.85" stroke-opacity="0.95"/>
<path d="M341.60,455.00 C341.60,456.37 341.32,457.92 340.85,459.10 C340.38,460.28 339.61,461.42 338.80,462.10 C337.99,462.78 336.93,463.20 336.00,463.20 C335.07,463.20 334.01,462.78 333.20,462.10 C332.39,461.42 331.62,460.28 331.15,459.10 C330.68,457.92 330.40,456.37 330.40,455.00 C330.40,453.63 330.68,452.08 331.15,450.90 C331.62,449.72 332.39,448.58 333.20,447.90 C334.01,447.22 335.07,446.80 336.00,446.80 C336.93,446.80 337.99,447.22 338.80,447.90 C339.61,448.58 340.38,449.72 340.85,450.90 C341.32,452.08 341.60,453.63 341.60,455.00Z" fill="#d84a5e" stroke="#fff" stroke-width="1.1" stroke-opacity="0.85"/>
<path d="M341.60,455.00 C341.60,456.37 341.32,457.92 340.85,459.10 C340.38,460.28 339.61,461.42 338.80,462.10 C337.99,462.78 336.93,463.20 336.00,463.20 C335.07,463.20 334.01,462.78 333.20,462.10 C332.39,461.42 331.62,460.28 331.15,459.10 C330.68,457.92 330.40,456.37 330.40,455.00 C330.40,453.63 330.68,452.08 331.15,450.90 C331.62,449.72 332.39,448.58 333.20,447.90 C334.01,447.22 335.07,446.80 336.00,446.80 C336.93,446.80 337.99,447.22 338.80,447.90 C339.61,448.58 340.38,449.72 340.85,450.90 C341.32,452.08 341.60,453.63 341.60,455.00Z" fill="none" stroke="#c82238" stroke-width="0.85" stroke-opacity="0.95"/>
<path d="M339.50,453.20 C339.50,453.97 339.33,454.84 339.04,455.50 C338.76,456.16 338.29,456.80 337.80,457.18 C337.31,457.57 336.67,457.80 336.10,457.80 C335.53,457.80 334.89,457.57 334.40,457.18 C333.91,456.80 333.44,456.16 333.16,455.50 C332.87,454.84 332.70,453.97 332.70,453.20 C332.70,452.43 332.87,451.56 333.16,450.90 C333.44,450.24 333.91,449.60 334.40,449.22 C334.89,448.83 335.53,448.60 336.10,448.60 C336.67,448.60 337.31,448.83 337.80,449.22 C338.29,449.60 338.76,450.24 339.04,450.90 C339.33,451.56 339.50,452.43 339.50,453.20Z" fill="#cc3249" stroke="#fff" stroke-width="1.1" stroke-opacity="0.85"/>
<path d="M339.50,453.20 C339.50,453.97 339.33,454.84 339.04,455.50 C338.76,456.16 338.29,456.80 337.80,457.18 C337.31,457.57 336.67,457.80 336.10,457.80 C335.53,457.80 334.89,457.57 334.40,457.18 C333.91,456.80 333.44,456.16 333.16,455.50 C332.87,454.84 332.70,453.97 332.70,453.20 C332.70,452.43 332.87,451.56 333.16,450.90 C333.44,450.24 333.91,449.60 334.40,449.22 C334.89,448.83 335.53,448.60 336.10,448.60 C336.67,448.60 337.31,448.83 337.80,449.22 C338.29,449.60 338.76,450.24 339.04,450.90 C339.33,451.56 339.50,452.43 339.50,453.20Z" fill="none" stroke="#c82238" stroke-width="0.85" stroke-opacity="0.95"/>
<path d="M338.00,452.50 C338.00,452.88 337.90,453.32 337.75,453.65 C337.59,453.98 337.32,454.30 337.05,454.49 C336.78,454.68 336.42,454.80 336.10,454.80 C335.78,454.80 335.42,454.68 335.15,454.49 C334.88,454.30 334.61,453.98 334.45,453.65 C334.30,453.32 334.20,452.88 334.20,452.50 C334.20,452.12 334.30,451.68 334.45,451.35 C334.61,451.02 334.88,450.70 335.15,450.51 C335.42,450.32 335.78,450.20 336.10,450.20 C336.42,450.20 336.78,450.32 337.05,450.51 C337.32,450.70 337.59,451.02 337.75,451.35 C337.90,451.68 338.00,452.12 338.00,452.50Z" fill="#c02039" stroke="#fff" stroke-width="1.1" stroke-opacity="0.85"/>
<path d="M338.00,452.50 C338.00,452.88 337.90,453.32 337.75,453.65 C337.59,453.98 337.32,454.30 337.05,454.49 C336.78,454.68 336.42,454.80 336.10,454.80 C335.78,454.80 335.42,454.68 335.15,454.49 C334.88,454.30 334.61,453.98 334.45,453.65 C334.30,453.32 334.20,452.88 334.20,452.50 C334.20,452.12 334.30,451.68 334.45,451.35 C334.61,451.02 334.88,450.70 335.15,450.51 C335.42,450.32 335.78,450.20 336.10,450.20 C336.42,450.20 336.78,450.32 337.05,450.51 C337.32,450.70 337.59,451.02 337.75,451.35 C337.90,451.68 338.00,452.12 338.00,452.50Z" fill="none" stroke="#c82238" stroke-width="0.85" stroke-opacity="0.95"/>
<path d="M337.00,452.30 C337.00,452.47 336.95,452.66 336.88,452.80 C336.80,452.94 336.68,453.08 336.55,453.17 C336.42,453.25 336.25,453.30 336.10,453.30 C335.95,453.30 335.78,453.25 335.65,453.17 C335.52,453.08 335.40,452.94 335.32,452.80 C335.25,452.66 335.20,452.47 335.20,452.30 C335.20,452.13 335.25,451.94 335.32,451.80 C335.40,451.66 335.52,451.52 335.65,451.43 C335.78,451.35 335.95,451.30 336.10,451.30 C336.25,451.30 336.42,451.35 336.55,451.43 C336.68,451.52 336.80,451.66 336.88,451.80 C336.95,451.94 337.00,452.13 337.00,452.30Z" fill="#aa1029" stroke="#fff" stroke-width="1.1" stroke-opacity="0.85"/>
<path d="M337.00,452.30 C337.00,452.47 336.95,452.66 336.88,452.80 C336.80,452.94 336.68,453.08 336.55,453.17 C336.42,453.25 336.25,453.30 336.10,453.30 C335.95,453.30 335.78,453.25 335.65,453.17 C335.52,453.08 335.40,452.94 335.32,452.80 C335.25,452.66 335.20,452.47 335.20,452.30 C335.20,452.13 335.25,451.94 335.32,451.80 C335.40,451.66 335.52,451.52 335.65,451.43 C335.78,451.35 335.95,451.30 336.10,451.30 C336.25,451.30 336.42,451.35 336.55,451.43 C336.68,451.52 336.80,451.66 336.88,451.80 C336.95,451.94 337.00,452.13 337.00,452.30Z" fill="none" stroke="#c82238" stroke-width="0.85" stroke-opacity="0.95"/>
<path d="M341.80,462.50 C341.80,463.30 341.61,464.21 341.29,464.90 C340.97,465.59 340.45,466.26 339.90,466.66 C339.35,467.06 338.63,467.30 338.00,467.30 C337.37,467.30 336.65,467.06 336.10,466.66 C335.55,466.26 335.03,465.59 334.71,464.90 C334.39,464.21 334.20,463.30 334.20,462.50 C334.20,461.70 334.39,460.79 334.71,460.10 C335.03,459.41 335.55,458.74 336.10,458.34 C336.65,457.94 337.37,457.70 338.00,457.70 C338.63,457.70 339.35,457.94 339.90,458.34 C340.45,458.74 340.97,459.41 341.29,460.10 C341.61,460.79 341.80,461.70 341.80,462.50Z" fill="#d84a5e" stroke="#fff" stroke-width="1.1" stroke-opacity="0.85"/>
<path d="M341.80,462.50 C341.80,463.30 341.61,464.21 341.29,464.90 C340.97,465.59 340.45,466.26 339.90,466.66 C339.35,467.06 338.63,467.30 338.00,467.30 C337.37,467.30 336.65,467.06 336.10,466.66 C335.55,466.26 335.03,465.59 334.71,464.90 C334.39,464.21 334.20,463.30 334.20,462.50 C334.20,461.70 334.39,460.79 334.71,460.10 C335.03,459.41 335.55,458.74 336.10,458.34 C336.65,457.94 337.37,457.70 338.00,457.70 C338.63,457.70 339.35,457.94 339.90,458.34 C340.45,458.74 340.97,459.41 341.29,460.10 C341.61,460.79 341.80,461.70 341.80,462.50Z" fill="none" stroke="#c82238" stroke-width="0.85" stroke-opacity="0.95"/>
<path d="M340.20,462.80 C340.20,463.27 340.09,463.80 339.91,464.20 C339.72,464.60 339.42,464.99 339.10,465.22 C338.78,465.46 338.37,465.60 338.00,465.60 C337.63,465.60 337.22,465.46 336.90,465.22 C336.58,464.99 336.28,464.60 336.09,464.20 C335.91,463.80 335.80,463.27 335.80,462.80 C335.80,462.33 335.91,461.80 336.09,461.40 C336.28,461.00 336.58,460.61 336.90,460.38 C337.22,460.14 337.63,460.00 338.00,460.00 C338.37,460.00 338.78,460.14 339.10,460.38 C339.42,460.61 339.72,461.00 339.91,461.40 C340.09,461.80 340.20,462.33 340.20,462.80Z" fill="#cc3249" stroke="#fff" stroke-width="1.1" stroke-opacity="0.85"/>
<path d="M340.20,462.80 C340.20,463.27 340.09,463.80 339.91,464.20 C339.72,464.60 339.42,464.99 339.10,465.22 C338.78,465.46 338.37,465.60 338.00,465.60 C337.63,465.60 337.22,465.46 336.90,465.22 C336.58,464.99 336.28,464.60 336.09,464.20 C335.91,463.80 335.80,463.27 335.80,462.80 C335.80,462.33 335.91,461.80 336.09,461.40 C336.28,461.00 336.58,460.61 336.90,460.38 C337.22,460.14 337.63,460.00 338.00,460.00 C338.37,460.00 338.78,460.14 339.10,460.38 C339.42,460.61 339.72,461.00 339.91,461.40 C340.09,461.80 340.20,462.33 340.20,462.80Z" fill="none" stroke="#c82238" stroke-width="0.85" stroke-opacity="0.95"/>
<path d="M339.00,463.00 C339.00,463.20 338.95,463.43 338.87,463.60 C338.78,463.77 338.64,463.94 338.50,464.04 C338.36,464.14 338.17,464.20 338.00,464.20 C337.83,464.20 337.64,464.14 337.50,464.04 C337.36,463.94 337.22,463.77 337.13,463.60 C337.05,463.43 337.00,463.20 337.00,463.00 C337.00,462.80 337.05,462.57 337.13,462.40 C337.22,462.23 337.36,462.06 337.50,461.96 C337.64,461.86 337.83,461.80 338.00,461.80 C338.17,461.80 338.36,461.86 338.50,461.96 C338.64,462.06 338.78,462.23 338.87,462.40 C338.95,462.57 339.00,462.80 339.00,463.00Z" fill="#c02039" stroke="#fff" stroke-width="1.1" stroke-opacity="0.85"/>
<path d="M339.00,463.00 C339.00,463.20 338.95,463.43 338.87,463.60 C338.78,463.77 338.64,463.94 338.50,464.04 C338.36,464.14 338.17,464.20 338.00,464.20 C337.83,464.20 337.64,464.14 337.50,464.04 C337.36,463.94 337.22,463.77 337.13,463.60 C337.05,463.43 337.00,463.20 337.00,463.00 C337.00,462.80 337.05,462.57 337.13,462.40 C337.22,462.23 337.36,462.06 337.50,461.96 C337.64,461.86 337.83,461.80 338.00,461.80 C338.17,461.80 338.36,461.86 338.50,461.96 C338.64,462.06 338.78,462.23 338.87,462.40 C338.95,462.57 339.00,462.80 339.00,463.00Z" fill="none" stroke="#c82238" stroke-width="0.85" stroke-opacity="0.95"/>
<path d="M320.60,444.60 L328.00,440.30 L338.60,440.90 L341.70,445.10 L347.60,466.30 L346.00,475.80 L325.90,474.20 L320.00,456.70Z" fill="none" stroke="#484848" stroke-width="0.75" stroke-linejoin="round"/>
<path d="M340.70,443.00 L347.00,437.70 L356.00,438.20 L359.70,453.00 L356.60,465.20 L348.10,463.60Z" fill="none" stroke="#484848" stroke-width="0.75" stroke-linejoin="round"/>
<rect x="289.05" y="419.30" width="79.70" height="79.50" fill="none" stroke="#111" stroke-width="1.25"/>
<text x="67.50" y="335.90" font-size="6.6" text-anchor="start" fill="#1c1c1c" stroke="#1c1c1c" stroke-width="0.16" >CD11b<tspan font-size="3.8" dy="-2.6">hi</tspan></text>
<text x="78.70" y="342.90" font-size="6.5" text-anchor="middle" fill="#1c1c1c" stroke="#1c1c1c" stroke-width="0.16" >28.2%</text>
<text x="47.50" y="377.90" font-size="6.6" text-anchor="start" fill="#1c1c1c" stroke="#1c1c1c" stroke-width="0.16" >CD11b<tspan font-size="3.8" dy="-2.6">low</tspan></text>
<text x="60.30" y="384.90" font-size="6.5" text-anchor="middle" fill="#1c1c1c" stroke="#1c1c1c" stroke-width="0.16" >67.1%</text>
<text x="118.20" y="402.60" font-size="7.9" text-anchor="end" fill="#1c1c1c" stroke="#1c1c1c" stroke-width="0.26" >WT</text>
<text x="154.50" y="335.90" font-size="6.6" text-anchor="start" fill="#1c1c1c" stroke="#1c1c1c" stroke-width="0.16" >CD11b<tspan font-size="3.8" dy="-2.6">hi</tspan></text>
<text x="165.70" y="342.90" font-size="6.5" text-anchor="middle" fill="#1c1c1c" stroke="#1c1c1c" stroke-width="0.16" >69.5%</text>
<text x="130.00" y="377.90" font-size="6.6" text-anchor="start" fill="#1c1c1c" stroke="#1c1c1c" stroke-width="0.16" >CD11b<tspan font-size="3.8" dy="-2.6">low</tspan></text>
<text x="142.80" y="384.90" font-size="6.5" text-anchor="middle" fill="#1c1c1c" stroke="#1c1c1c" stroke-width="0.16" >29.1%</text>
<text x="201.00" y="402.60" font-size="7.9" text-anchor="end" fill="#1c1c1c" stroke="#1c1c1c" stroke-width="0.26" >WT</text>
<text x="236.60" y="335.90" font-size="6.6" text-anchor="start" fill="#1c1c1c" stroke="#1c1c1c" stroke-width="0.16" >CD11b<tspan font-size="3.8" dy="-2.6">hi</tspan></text>
<text x="247.80" y="342.90" font-size="6.5" text-anchor="middle" fill="#1c1c1c" stroke="#1c1c1c" stroke-width="0.16" >85.1%</text>
<text x="209.20" y="377.90" font-size="6.6" text-anchor="start" fill="#1c1c1c" stroke="#1c1c1c" stroke-width="0.16" >CD11b<tspan font-size="3.8" dy="-2.6">low</tspan></text>
<text x="222.00" y="384.90" font-size="6.5" text-anchor="middle" fill="#1c1c1c" stroke="#1c1c1c" stroke-width="0.16" >11.6%</text>
<text x="283.20" y="402.60" font-size="7.9" text-anchor="end" fill="#1c1c1c" stroke="#1c1c1c" stroke-width="0.26" >WT</text>
<text x="317.60" y="335.90" font-size="6.6" text-anchor="start" fill="#1c1c1c" stroke="#1c1c1c" stroke-width="0.16" >CD11b<tspan font-size="3.8" dy="-2.6">hi</tspan></text>
<text x="328.80" y="342.90" font-size="6.5" text-anchor="middle" fill="#1c1c1c" stroke="#1c1c1c" stroke-width="0.16" >100%</text>
<text x="292.20" y="377.90" font-size="6.6" text-anchor="start" fill="#1c1c1c" stroke="#1c1c1c" stroke-width="0.16" >CD11b<tspan font-size="3.8" dy="-2.6">low</tspan></text>
<text x="305.00" y="384.90" font-size="6.5" text-anchor="middle" fill="#1c1c1c" stroke="#1c1c1c" stroke-width="0.16" >0%</text>
<text x="365.55" y="402.60" font-size="7.9" text-anchor="end" fill="#1c1c1c" stroke="#1c1c1c" stroke-width="0.26" >WT</text>
<text x="68.00" y="427.90" font-size="6.6" text-anchor="start" fill="#1c1c1c" stroke="#1c1c1c" stroke-width="0.16" >CD11b<tspan font-size="3.8" dy="-2.6">hi</tspan></text>
<text x="79.20" y="434.90" font-size="6.5" text-anchor="middle" fill="#1c1c1c" stroke="#1c1c1c" stroke-width="0.16" >16.1%</text>
<text x="47.50" y="469.90" font-size="6.6" text-anchor="start" fill="#1c1c1c" stroke="#1c1c1c" stroke-width="0.16" >CD11b<tspan font-size="3.8" dy="-2.6">low</tspan></text>
<text x="60.30" y="476.90" font-size="6.5" text-anchor="middle" fill="#1c1c1c" stroke="#1c1c1c" stroke-width="0.16" >81.2%</text>
<text x="118.20" y="494.60" font-size="7.3" text-anchor="end" fill="#1c1c1c" stroke="#1c1c1c" stroke-width="0.26" >th3/+</text>
<text x="156.30" y="427.90" font-size="6.6" text-anchor="start" fill="#1c1c1c" stroke="#1c1c1c" stroke-width="0.16" >CD11b<tspan font-size="3.8" dy="-2.6">hi</tspan></text>
<text x="167.50" y="434.90" font-size="6.5" text-anchor="middle" fill="#1c1c1c" stroke="#1c1c1c" stroke-width="0.16" >29.1%</text>
<text x="127.00" y="469.90" font-size="6.6" text-anchor="start" fill="#1c1c1c" stroke="#1c1c1c" stroke-width="0.16" >CD11b<tspan font-size="3.8" dy="-2.6">low</tspan></text>
<text x="139.80" y="476.90" font-size="6.5" text-anchor="middle" fill="#1c1c1c" stroke="#1c1c1c" stroke-width="0.16" >65.1%</text>
<text x="201.00" y="494.60" font-size="7.3" text-anchor="end" fill="#1c1c1c" stroke="#1c1c1c" stroke-width="0.26" >th3/+</text>
<text x="238.50" y="427.90" font-size="6.6" text-anchor="start" fill="#1c1c1c" stroke="#1c1c1c" stroke-width="0.16" >CD11b<tspan font-size="3.8" dy="-2.6">hi</tspan></text>
<text x="249.70" y="434.90" font-size="6.5" text-anchor="middle" fill="#1c1c1c" stroke="#1c1c1c" stroke-width="0.16" >37.0%</text>
<text x="208.80" y="469.90" font-size="6.6" text-anchor="start" fill="#1c1c1c" stroke="#1c1c1c" stroke-width="0.16" >CD11b<tspan font-size="3.8" dy="-2.6">low</tspan></text>
<text x="221.60" y="476.90" font-size="6.5" text-anchor="middle" fill="#1c1c1c" stroke="#1c1c1c" stroke-width="0.16" >62.6%</text>
<text x="283.20" y="494.60" font-size="7.3" text-anchor="end" fill="#1c1c1c" stroke="#1c1c1c" stroke-width="0.26" >th3/+</text>
<text x="316.80" y="427.90" font-size="6.6" text-anchor="start" fill="#1c1c1c" stroke="#1c1c1c" stroke-width="0.16" >CD11b<tspan font-size="3.8" dy="-2.6">hi</tspan></text>
<text x="328.00" y="434.90" font-size="6.5" text-anchor="middle" fill="#1c1c1c" stroke="#1c1c1c" stroke-width="0.16" >36.2%</text>
<text x="291.20" y="469.90" font-size="6.6" text-anchor="start" fill="#1c1c1c" stroke="#1c1c1c" stroke-width="0.16" >CD11b<tspan font-size="3.8" dy="-2.6">low</tspan></text>
<text x="304.00" y="476.90" font-size="6.5" text-anchor="middle" fill="#1c1c1c" stroke="#1c1c1c" stroke-width="0.16" >61.7%</text>
<text x="365.55" y="494.60" font-size="7.3" text-anchor="end" fill="#1c1c1c" stroke="#1c1c1c" stroke-width="0.26" >th3/+</text>
<line x1="38.90" y1="334.50" x2="41.70" y2="334.50" stroke="#111" stroke-width="0.9" />
<text x="35.10" y="337.10" font-size="7.4" text-anchor="end" fill="#1c1c1c" stroke="#1c1c1c" stroke-width="0.26" >10<tspan font-size="5.33" dy="-2.81" stroke-width="0.14">5</tspan></text>
<line x1="38.90" y1="352.80" x2="41.70" y2="352.80" stroke="#111" stroke-width="0.9" />
<text x="35.10" y="355.40" font-size="7.4" text-anchor="end" fill="#1c1c1c" stroke="#1c1c1c" stroke-width="0.26" >10<tspan font-size="5.33" dy="-2.81" stroke-width="0.14">4</tspan></text>
<line x1="38.90" y1="374.20" x2="41.70" y2="374.20" stroke="#111" stroke-width="0.9" />
<text x="35.10" y="376.80" font-size="7.4" text-anchor="end" fill="#1c1c1c" stroke="#1c1c1c" stroke-width="0.26" >10<tspan font-size="5.33" dy="-2.81" stroke-width="0.14">3</tspan></text>
<line x1="38.90" y1="388.50" x2="41.70" y2="388.50" stroke="#111" stroke-width="0.9" />
<text x="34.90" y="391.10" font-size="7.4" text-anchor="end" fill="#1c1c1c" stroke="#1c1c1c" stroke-width="0.26" >0</text>
<line x1="38.90" y1="401.70" x2="41.70" y2="401.70" stroke="#111" stroke-width="0.9" />
<text x="35.10" y="404.30" font-size="7.4" text-anchor="end" fill="#1c1c1c" stroke="#1c1c1c" stroke-width="0.26" >-10<tspan font-size="5.33" dy="-2.81" stroke-width="0.14">3</tspan></text>
<line x1="40.10" y1="347.29" x2="41.70" y2="347.29" stroke="#222" stroke-width="0.7" />
<line x1="40.10" y1="344.07" x2="41.70" y2="344.07" stroke="#222" stroke-width="0.7" />
<line x1="40.10" y1="341.78" x2="41.70" y2="341.78" stroke="#222" stroke-width="0.7" />
<line x1="40.10" y1="340.01" x2="41.70" y2="340.01" stroke="#222" stroke-width="0.7" />
<line x1="40.10" y1="338.56" x2="41.70" y2="338.56" stroke="#222" stroke-width="0.7" />
<line x1="40.10" y1="337.33" x2="41.70" y2="337.33" stroke="#222" stroke-width="0.7" />
<line x1="40.10" y1="336.27" x2="41.70" y2="336.27" stroke="#222" stroke-width="0.7" />
<line x1="40.10" y1="335.34" x2="41.70" y2="335.34" stroke="#222" stroke-width="0.7" />
<line x1="40.10" y1="367.76" x2="41.70" y2="367.76" stroke="#222" stroke-width="0.7" />
<line x1="40.10" y1="363.99" x2="41.70" y2="363.99" stroke="#222" stroke-width="0.7" />
<line x1="40.10" y1="361.32" x2="41.70" y2="361.32" stroke="#222" stroke-width="0.7" />
<line x1="40.10" y1="359.24" x2="41.70" y2="359.24" stroke="#222" stroke-width="0.7" />
<line x1="40.10" y1="357.55" x2="41.70" y2="357.55" stroke="#222" stroke-width="0.7" />
<line x1="40.10" y1="356.11" x2="41.70" y2="356.11" stroke="#222" stroke-width="0.7" />
<line x1="40.10" y1="354.87" x2="41.70" y2="354.87" stroke="#222" stroke-width="0.7" />
<line x1="40.10" y1="353.78" x2="41.70" y2="353.78" stroke="#222" stroke-width="0.7" />
<line x1="40.10" y1="385.50" x2="41.70" y2="385.50" stroke="#222" stroke-width="0.7" />
<line x1="40.10" y1="391.50" x2="41.70" y2="391.50" stroke="#222" stroke-width="0.7" />
<line x1="40.10" y1="382.50" x2="41.70" y2="382.50" stroke="#222" stroke-width="0.7" />
<line x1="40.10" y1="394.50" x2="41.70" y2="394.50" stroke="#222" stroke-width="0.7" />
<line x1="40.10" y1="397.50" x2="41.70" y2="397.50" stroke="#222" stroke-width="0.7" />
<line x1="40.10" y1="379.50" x2="41.70" y2="379.50" stroke="#222" stroke-width="0.7" />
<line x1="38.90" y1="426.50" x2="41.70" y2="426.50" stroke="#111" stroke-width="0.9" />
<text x="35.10" y="429.10" font-size="7.4" text-anchor="end" fill="#1c1c1c" stroke="#1c1c1c" stroke-width="0.26" >10<tspan font-size="5.33" dy="-2.81" stroke-width="0.14">5</tspan></text>
<line x1="38.90" y1="444.80" x2="41.70" y2="444.80" stroke="#111" stroke-width="0.9" />
<text x="35.10" y="447.40" font-size="7.4" text-anchor="end" fill="#1c1c1c" stroke="#1c1c1c" stroke-width="0.26" >10<tspan font-size="5.33" dy="-2.81" stroke-width="0.14">4</tspan></text>
<line x1="38.90" y1="466.20" x2="41.70" y2="466.20" stroke="#111" stroke-width="0.9" />
<text x="35.10" y="468.80" font-size="7.4" text-anchor="end" fill="#1c1c1c" stroke="#1c1c1c" stroke-width="0.26" >10<tspan font-size="5.33" dy="-2.81" stroke-width="0.14">3</tspan></text>
<line x1="38.90" y1="480.50" x2="41.70" y2="480.50" stroke="#111" stroke-width="0.9" />
<text x="34.90" y="483.10" font-size="7.4" text-anchor="end" fill="#1c1c1c" stroke="#1c1c1c" stroke-width="0.26" >0</text>
<line x1="38.90" y1="493.70" x2="41.70" y2="493.70" stroke="#111" stroke-width="0.9" />
<text x="35.10" y="496.30" font-size="7.4" text-anchor="end" fill="#1c1c1c" stroke="#1c1c1c" stroke-width="0.26" >-10<tspan font-size="5.33" dy="-2.81" stroke-width="0.14">3</tspan></text>
<line x1="40.10" y1="439.29" x2="41.70" y2="439.29" stroke="#222" stroke-width="0.7" />
<line x1="40.10" y1="436.07" x2="41.70" y2="436.07" stroke="#222" stroke-width="0.7" />
<line x1="40.10" y1="433.78" x2="41.70" y2="433.78" stroke="#222" stroke-width="0.7" />
<line x1="40.10" y1="432.01" x2="41.70" y2="432.01" stroke="#222" stroke-width="0.7" />
<line x1="40.10" y1="430.56" x2="41.70" y2="430.56" stroke="#222" stroke-width="0.7" />
<line x1="40.10" y1="429.33" x2="41.70" y2="429.33" stroke="#222" stroke-width="0.7" />
<line x1="40.10" y1="428.27" x2="41.70" y2="428.27" stroke="#222" stroke-width="0.7" />
<line x1="40.10" y1="427.34" x2="41.70" y2="427.34" stroke="#222" stroke-width="0.7" />
<line x1="40.10" y1="459.76" x2="41.70" y2="459.76" stroke="#222" stroke-width="0.7" />
<line x1="40.10" y1="455.99" x2="41.70" y2="455.99" stroke="#222" stroke-width="0.7" />
<line x1="40.10" y1="453.32" x2="41.70" y2="453.32" stroke="#222" stroke-width="0.7" />
<line x1="40.10" y1="451.24" x2="41.70" y2="451.24" stroke="#222" stroke-width="0.7" />
<line x1="40.10" y1="449.55" x2="41.70" y2="449.55" stroke="#222" stroke-width="0.7" />
<line x1="40.10" y1="448.11" x2="41.70" y2="448.11" stroke="#222" stroke-width="0.7" />
<line x1="40.10" y1="446.87" x2="41.70" y2="446.87" stroke="#222" stroke-width="0.7" />
<line x1="40.10" y1="445.78" x2="41.70" y2="445.78" stroke="#222" stroke-width="0.7" />
<line x1="40.10" y1="477.50" x2="41.70" y2="477.50" stroke="#222" stroke-width="0.7" />
<line x1="40.10" y1="483.50" x2="41.70" y2="483.50" stroke="#222" stroke-width="0.7" />
<line x1="40.10" y1="474.50" x2="41.70" y2="474.50" stroke="#222" stroke-width="0.7" />
<line x1="40.10" y1="486.50" x2="41.70" y2="486.50" stroke="#222" stroke-width="0.7" />
<line x1="40.10" y1="489.50" x2="41.70" y2="489.50" stroke="#222" stroke-width="0.7" />
<line x1="40.10" y1="471.50" x2="41.70" y2="471.50" stroke="#222" stroke-width="0.7" />
<line x1="47.30" y1="498.80" x2="47.30" y2="501.60" stroke="#111" stroke-width="0.9" />
<text x="46.90" y="510.80" font-size="7.6" text-anchor="middle" fill="#1c1c1c" stroke="#1c1c1c" stroke-width="0.26" >-10<tspan font-size="5.47" dy="-2.89" stroke-width="0.14">3</tspan></text>
<line x1="59.60" y1="498.80" x2="59.60" y2="501.60" stroke="#111" stroke-width="0.9" />
<text x="59.60" y="510.80" font-size="7.6" text-anchor="middle" fill="#1c1c1c" stroke="#1c1c1c" stroke-width="0.26" >0</text>
<line x1="72.60" y1="498.80" x2="72.60" y2="501.60" stroke="#111" stroke-width="0.9" />
<text x="74.20" y="510.80" font-size="7.6" text-anchor="middle" fill="#1c1c1c" stroke="#1c1c1c" stroke-width="0.26" >10<tspan font-size="5.47" dy="-2.89" stroke-width="0.14">3</tspan></text>
<line x1="94.60" y1="498.80" x2="94.60" y2="501.60" stroke="#111" stroke-width="0.9" />
<text x="96.20" y="510.80" font-size="7.6" text-anchor="middle" fill="#1c1c1c" stroke="#1c1c1c" stroke-width="0.26" >10<tspan font-size="5.47" dy="-2.89" stroke-width="0.14">4</tspan></text>
<line x1="112.50" y1="498.80" x2="112.50" y2="501.60" stroke="#111" stroke-width="0.9" />
<text x="114.10" y="510.80" font-size="7.6" text-anchor="middle" fill="#1c1c1c" stroke="#1c1c1c" stroke-width="0.26" >10<tspan font-size="5.47" dy="-2.89" stroke-width="0.14">5</tspan></text>
<line x1="79.22" y1="498.80" x2="79.22" y2="500.40" stroke="#222" stroke-width="0.7" />
<line x1="83.10" y1="498.80" x2="83.10" y2="500.40" stroke="#222" stroke-width="0.7" />
<line x1="85.85" y1="498.80" x2="85.85" y2="500.40" stroke="#222" stroke-width="0.7" />
<line x1="87.98" y1="498.80" x2="87.98" y2="500.40" stroke="#222" stroke-width="0.7" />
<line x1="89.72" y1="498.80" x2="89.72" y2="500.40" stroke="#222" stroke-width="0.7" />
<line x1="91.19" y1="498.80" x2="91.19" y2="500.40" stroke="#222" stroke-width="0.7" />
<line x1="92.47" y1="498.80" x2="92.47" y2="500.40" stroke="#222" stroke-width="0.7" />
<line x1="93.59" y1="498.80" x2="93.59" y2="500.40" stroke="#222" stroke-width="0.7" />
<line x1="99.99" y1="498.80" x2="99.99" y2="500.40" stroke="#222" stroke-width="0.7" />
<line x1="103.14" y1="498.80" x2="103.14" y2="500.40" stroke="#222" stroke-width="0.7" />
<line x1="105.38" y1="498.80" x2="105.38" y2="500.40" stroke="#222" stroke-width="0.7" />
<line x1="107.11" y1="498.80" x2="107.11" y2="500.40" stroke="#222" stroke-width="0.7" />
<line x1="108.53" y1="498.80" x2="108.53" y2="500.40" stroke="#222" stroke-width="0.7" />
<line x1="109.73" y1="498.80" x2="109.73" y2="500.40" stroke="#222" stroke-width="0.7" />
<line x1="110.77" y1="498.80" x2="110.77" y2="500.40" stroke="#222" stroke-width="0.7" />
<line x1="111.68" y1="498.80" x2="111.68" y2="500.40" stroke="#222" stroke-width="0.7" />
<line x1="53.60" y1="498.80" x2="53.60" y2="500.40" stroke="#222" stroke-width="0.7" />
<line x1="56.60" y1="498.80" x2="56.60" y2="500.40" stroke="#222" stroke-width="0.7" />
<line x1="62.60" y1="498.80" x2="62.60" y2="500.40" stroke="#222" stroke-width="0.7" />
<line x1="65.60" y1="498.80" x2="65.60" y2="500.40" stroke="#222" stroke-width="0.7" />
<line x1="68.60" y1="498.80" x2="68.60" y2="500.40" stroke="#222" stroke-width="0.7" />
<line x1="130.10" y1="498.80" x2="130.10" y2="501.60" stroke="#111" stroke-width="0.9" />
<text x="129.70" y="510.80" font-size="7.6" text-anchor="middle" fill="#1c1c1c" stroke="#1c1c1c" stroke-width="0.26" >-10<tspan font-size="5.47" dy="-2.89" stroke-width="0.14">3</tspan></text>
<line x1="142.40" y1="498.80" x2="142.40" y2="501.60" stroke="#111" stroke-width="0.9" />
<text x="142.40" y="510.80" font-size="7.6" text-anchor="middle" fill="#1c1c1c" stroke="#1c1c1c" stroke-width="0.26" >0</text>
<line x1="155.40" y1="498.80" x2="155.40" y2="501.60" stroke="#111" stroke-width="0.9" />
<text x="157.00" y="510.80" font-size="7.6" text-anchor="middle" fill="#1c1c1c" stroke="#1c1c1c" stroke-width="0.26" >10<tspan font-size="5.47" dy="-2.89" stroke-width="0.14">3</tspan></text>
<line x1="177.40" y1="498.80" x2="177.40" y2="501.60" stroke="#111" stroke-width="0.9" />
<text x="179.00" y="510.80" font-size="7.6" text-anchor="middle" fill="#1c1c1c" stroke="#1c1c1c" stroke-width="0.26" >10<tspan font-size="5.47" dy="-2.89" stroke-width="0.14">4</tspan></text>
<line x1="195.30" y1="498.80" x2="195.30" y2="501.60" stroke="#111" stroke-width="0.9" />
<text x="196.90" y="510.80" font-size="7.6" text-anchor="middle" fill="#1c1c1c" stroke="#1c1c1c" stroke-width="0.26" >10<tspan font-size="5.47" dy="-2.89" stroke-width="0.14">5</tspan></text>
<line x1="162.02" y1="498.80" x2="162.02" y2="500.40" stroke="#222" stroke-width="0.7" />
<line x1="165.90" y1="498.80" x2="165.90" y2="500.40" stroke="#222" stroke-width="0.7" />
<line x1="168.65" y1="498.80" x2="168.65" y2="500.40" stroke="#222" stroke-width="0.7" />
<line x1="170.78" y1="498.80" x2="170.78" y2="500.40" stroke="#222" stroke-width="0.7" />
<line x1="172.52" y1="498.80" x2="172.52" y2="500.40" stroke="#222" stroke-width="0.7" />
<line x1="173.99" y1="498.80" x2="173.99" y2="500.40" stroke="#222" stroke-width="0.7" />
<line x1="175.27" y1="498.80" x2="175.27" y2="500.40" stroke="#222" stroke-width="0.7" />
<line x1="176.39" y1="498.80" x2="176.39" y2="500.40" stroke="#222" stroke-width="0.7" />
<line x1="182.79" y1="498.80" x2="182.79" y2="500.40" stroke="#222" stroke-width="0.7" />
<line x1="185.94" y1="498.80" x2="185.94" y2="500.40" stroke="#222" stroke-width="0.7" />
<line x1="188.18" y1="498.80" x2="188.18" y2="500.40" stroke="#222" stroke-width="0.7" />
<line x1="189.91" y1="498.80" x2="189.91" y2="500.40" stroke="#222" stroke-width="0.7" />
<line x1="191.33" y1="498.80" x2="191.33" y2="500.40" stroke="#222" stroke-width="0.7" />
<line x1="192.53" y1="498.80" x2="192.53" y2="500.40" stroke="#222" stroke-width="0.7" />
<line x1="193.57" y1="498.80" x2="193.57" y2="500.40" stroke="#222" stroke-width="0.7" />
<line x1="194.48" y1="498.80" x2="194.48" y2="500.40" stroke="#222" stroke-width="0.7" />
<line x1="136.40" y1="498.80" x2="136.40" y2="500.40" stroke="#222" stroke-width="0.7" />
<line x1="139.40" y1="498.80" x2="139.40" y2="500.40" stroke="#222" stroke-width="0.7" />
<line x1="145.40" y1="498.80" x2="145.40" y2="500.40" stroke="#222" stroke-width="0.7" />
<line x1="148.40" y1="498.80" x2="148.40" y2="500.40" stroke="#222" stroke-width="0.7" />
<line x1="151.40" y1="498.80" x2="151.40" y2="500.40" stroke="#222" stroke-width="0.7" />
<line x1="212.30" y1="498.80" x2="212.30" y2="501.60" stroke="#111" stroke-width="0.9" />
<text x="211.90" y="510.80" font-size="7.6" text-anchor="middle" fill="#1c1c1c" stroke="#1c1c1c" stroke-width="0.26" >-10<tspan font-size="5.47" dy="-2.89" stroke-width="0.14">3</tspan></text>
<line x1="224.60" y1="498.80" x2="224.60" y2="501.60" stroke="#111" stroke-width="0.9" />
<text x="224.60" y="510.80" font-size="7.6" text-anchor="middle" fill="#1c1c1c" stroke="#1c1c1c" stroke-width="0.26" >0</text>
<line x1="237.60" y1="498.80" x2="237.60" y2="501.60" stroke="#111" stroke-width="0.9" />
<text x="239.20" y="510.80" font-size="7.6" text-anchor="middle" fill="#1c1c1c" stroke="#1c1c1c" stroke-width="0.26" >10<tspan font-size="5.47" dy="-2.89" stroke-width="0.14">3</tspan></text>
<line x1="259.60" y1="498.80" x2="259.60" y2="501.60" stroke="#111" stroke-width="0.9" />
<text x="261.20" y="510.80" font-size="7.6" text-anchor="middle" fill="#1c1c1c" stroke="#1c1c1c" stroke-width="0.26" >10<tspan font-size="5.47" dy="-2.89" stroke-width="0.14">4</tspan></text>
<line x1="277.50" y1="498.80" x2="277.50" y2="501.60" stroke="#111" stroke-width="0.9" />
<text x="279.10" y="510.80" font-size="7.6" text-anchor="middle" fill="#1c1c1c" stroke="#1c1c1c" stroke-width="0.26" >10<tspan font-size="5.47" dy="-2.89" stroke-width="0.14">5</tspan></text>
<line x1="244.22" y1="498.80" x2="244.22" y2="500.40" stroke="#222" stroke-width="0.7" />
<line x1="248.10" y1="498.80" x2="248.10" y2="500.40" stroke="#222" stroke-width="0.7" />
<line x1="250.85" y1="498.80" x2="250.85" y2="500.40" stroke="#222" stroke-width="0.7" />
<line x1="252.98" y1="498.80" x2="252.98" y2="500.40" stroke="#222" stroke-width="0.7" />
<line x1="254.72" y1="498.80" x2="254.72" y2="500.40" stroke="#222" stroke-width="0.7" />
<line x1="256.19" y1="498.80" x2="256.19" y2="500.40" stroke="#222" stroke-width="0.7" />
<line x1="257.47" y1="498.80" x2="257.47" y2="500.40" stroke="#222" stroke-width="0.7" />
<line x1="258.59" y1="498.80" x2="258.59" y2="500.40" stroke="#222" stroke-width="0.7" />
<line x1="264.99" y1="498.80" x2="264.99" y2="500.40" stroke="#222" stroke-width="0.7" />
<line x1="268.14" y1="498.80" x2="268.14" y2="500.40" stroke="#222" stroke-width="0.7" />
<line x1="270.38" y1="498.80" x2="270.38" y2="500.40" stroke="#222" stroke-width="0.7" />
<line x1="272.11" y1="498.80" x2="272.11" y2="500.40" stroke="#222" stroke-width="0.7" />
<line x1="273.53" y1="498.80" x2="273.53" y2="500.40" stroke="#222" stroke-width="0.7" />
<line x1="274.73" y1="498.80" x2="274.73" y2="500.40" stroke="#222" stroke-width="0.7" />
<line x1="275.77" y1="498.80" x2="275.77" y2="500.40" stroke="#222" stroke-width="0.7" />
<line x1="276.68" y1="498.80" x2="276.68" y2="500.40" stroke="#222" stroke-width="0.7" />
<line x1="218.60" y1="498.80" x2="218.60" y2="500.40" stroke="#222" stroke-width="0.7" />
<line x1="221.60" y1="498.80" x2="221.60" y2="500.40" stroke="#222" stroke-width="0.7" />
<line x1="227.60" y1="498.80" x2="227.60" y2="500.40" stroke="#222" stroke-width="0.7" />
<line x1="230.60" y1="498.80" x2="230.60" y2="500.40" stroke="#222" stroke-width="0.7" />
<line x1="233.60" y1="498.80" x2="233.60" y2="500.40" stroke="#222" stroke-width="0.7" />
<line x1="294.65" y1="498.80" x2="294.65" y2="501.60" stroke="#111" stroke-width="0.9" />
<text x="294.25" y="510.80" font-size="7.6" text-anchor="middle" fill="#1c1c1c" stroke="#1c1c1c" stroke-width="0.26" >-10<tspan font-size="5.47" dy="-2.89" stroke-width="0.14">3</tspan></text>
<line x1="306.95" y1="498.80" x2="306.95" y2="501.60" stroke="#111" stroke-width="0.9" />
<text x="306.95" y="510.80" font-size="7.6" text-anchor="middle" fill="#1c1c1c" stroke="#1c1c1c" stroke-width="0.26" >0</text>
<line x1="319.95" y1="498.80" x2="319.95" y2="501.60" stroke="#111" stroke-width="0.9" />
<text x="321.55" y="510.80" font-size="7.6" text-anchor="middle" fill="#1c1c1c" stroke="#1c1c1c" stroke-width="0.26" >10<tspan font-size="5.47" dy="-2.89" stroke-width="0.14">3</tspan></text>
<line x1="341.95" y1="498.80" x2="341.95" y2="501.60" stroke="#111" stroke-width="0.9" />
<text x="343.55" y="510.80" font-size="7.6" text-anchor="middle" fill="#1c1c1c" stroke="#1c1c1c" stroke-width="0.26" >10<tspan font-size="5.47" dy="-2.89" stroke-width="0.14">4</tspan></text>
<line x1="359.85" y1="498.80" x2="359.85" y2="501.60" stroke="#111" stroke-width="0.9" />
<text x="361.45" y="510.80" font-size="7.6" text-anchor="middle" fill="#1c1c1c" stroke="#1c1c1c" stroke-width="0.26" >10<tspan font-size="5.47" dy="-2.89" stroke-width="0.14">5</tspan></text>
<line x1="326.57" y1="498.80" x2="326.57" y2="500.40" stroke="#222" stroke-width="0.7" />
<line x1="330.45" y1="498.80" x2="330.45" y2="500.40" stroke="#222" stroke-width="0.7" />
<line x1="333.20" y1="498.80" x2="333.20" y2="500.40" stroke="#222" stroke-width="0.7" />
<line x1="335.33" y1="498.80" x2="335.33" y2="500.40" stroke="#222" stroke-width="0.7" />
<line x1="337.07" y1="498.80" x2="337.07" y2="500.40" stroke="#222" stroke-width="0.7" />
<line x1="338.54" y1="498.80" x2="338.54" y2="500.40" stroke="#222" stroke-width="0.7" />
<line x1="339.82" y1="498.80" x2="339.82" y2="500.40" stroke="#222" stroke-width="0.7" />
<line x1="340.94" y1="498.80" x2="340.94" y2="500.40" stroke="#222" stroke-width="0.7" />
<line x1="347.34" y1="498.80" x2="347.34" y2="500.40" stroke="#222" stroke-width="0.7" />
<line x1="350.49" y1="498.80" x2="350.49" y2="500.40" stroke="#222" stroke-width="0.7" />
<line x1="352.73" y1="498.80" x2="352.73" y2="500.40" stroke="#222" stroke-width="0.7" />
<line x1="354.46" y1="498.80" x2="354.46" y2="500.40" stroke="#222" stroke-width="0.7" />
<line x1="355.88" y1="498.80" x2="355.88" y2="500.40" stroke="#222" stroke-width="0.7" />
<line x1="357.08" y1="498.80" x2="357.08" y2="500.40" stroke="#222" stroke-width="0.7" />
<line x1="358.12" y1="498.80" x2="358.12" y2="500.40" stroke="#222" stroke-width="0.7" />
<line x1="359.03" y1="498.80" x2="359.03" y2="500.40" stroke="#222" stroke-width="0.7" />
<line x1="300.95" y1="498.80" x2="300.95" y2="500.40" stroke="#222" stroke-width="0.7" />
<line x1="303.95" y1="498.80" x2="303.95" y2="500.40" stroke="#222" stroke-width="0.7" />
<line x1="309.95" y1="498.80" x2="309.95" y2="500.40" stroke="#222" stroke-width="0.7" />
<line x1="312.95" y1="498.80" x2="312.95" y2="500.40" stroke="#222" stroke-width="0.7" />
<line x1="315.95" y1="498.80" x2="315.95" y2="500.40" stroke="#222" stroke-width="0.7" />
<line x1="14.90" y1="347.00" x2="14.90" y2="461.80" stroke="#111" stroke-width="1.3" />
<path d="M14.9,341.6 L11.8,349 L18.0,349 Z" fill="#111"/>
<text x="16.90" y="474.60" font-size="8.6" text-anchor="middle" fill="#1c1c1c" stroke="#1c1c1c" stroke-width="0.28" textLength="19.3" lengthAdjust="spacingAndGlyphs" transform="rotate(-90 16.90 474.60)" >Ly6G</text>
<text x="69.20" y="525.20" font-size="8.8" text-anchor="start" fill="#1c1c1c" stroke="#1c1c1c" stroke-width="0.28" textLength="25.0" lengthAdjust="spacingAndGlyphs" >CD11b</text>
<line x1="98.00" y1="522.80" x2="361.00" y2="522.80" stroke="#111" stroke-width="1.3" />
<path d="M367,522.8 L359.5,519.9 L359.5,525.7 Z" fill="#111"/>
<text x="389.00" y="320.80" font-size="10.5" text-anchor="start" fill="#111" stroke="#111" stroke-width="0.28" font-weight="bold" >I</text>
<line x1="419.00" y1="332.20" x2="419.00" y2="392.90" stroke="#151515" stroke-width="1.3" />
<line x1="418.40" y1="392.30" x2="509.90" y2="392.30" stroke="#151515" stroke-width="1.3" />
<line x1="416.00" y1="392.30" x2="419.00" y2="392.30" stroke="#151515" stroke-width="1.0" />
<text x="413.60" y="395.00" font-size="7.5" text-anchor="end" fill="#1c1c1c" stroke="#1c1c1c" stroke-width="0.26" >0</text>
<line x1="416.00" y1="380.48" x2="419.00" y2="380.48" stroke="#151515" stroke-width="1.0" />
<text x="413.60" y="383.18" font-size="7.5" text-anchor="end" fill="#1c1c1c" stroke="#1c1c1c" stroke-width="0.26" >20</text>
<line x1="416.00" y1="368.66" x2="419.00" y2="368.66" stroke="#151515" stroke-width="1.0" />
<text x="413.60" y="371.36" font-size="7.5" text-anchor="end" fill="#1c1c1c" stroke="#1c1c1c" stroke-width="0.26" >40</text>
<line x1="416.00" y1="356.84" x2="419.00" y2="356.84" stroke="#151515" stroke-width="1.0" />
<text x="413.60" y="359.54" font-size="7.5" text-anchor="end" fill="#1c1c1c" stroke="#1c1c1c" stroke-width="0.26" >60</text>
<line x1="416.00" y1="345.02" x2="419.00" y2="345.02" stroke="#151515" stroke-width="1.0" />
<text x="413.60" y="347.72" font-size="7.5" text-anchor="end" fill="#1c1c1c" stroke="#1c1c1c" stroke-width="0.26" >80</text>
<line x1="416.00" y1="333.20" x2="419.00" y2="333.20" stroke="#151515" stroke-width="1.0" />
<text x="413.60" y="335.90" font-size="7.5" text-anchor="end" fill="#1c1c1c" stroke="#1c1c1c" stroke-width="0.26" >100</text>
<line x1="430.60" y1="392.30" x2="430.60" y2="395.10" stroke="#151515" stroke-width="1.0" />
<text x="430.60" y="404.00" font-size="7.8" text-anchor="middle" fill="#1c1c1c" stroke="#1c1c1c" stroke-width="0.26" >0</text>
<line x1="453.10" y1="392.30" x2="453.10" y2="395.10" stroke="#151515" stroke-width="1.0" />
<text x="453.10" y="404.00" font-size="7.8" text-anchor="middle" fill="#1c1c1c" stroke="#1c1c1c" stroke-width="0.26" >10</text>
<line x1="476.10" y1="392.30" x2="476.10" y2="395.10" stroke="#151515" stroke-width="1.0" />
<text x="476.10" y="404.00" font-size="7.8" text-anchor="middle" fill="#1c1c1c" stroke="#1c1c1c" stroke-width="0.26" >20</text>
<line x1="498.40" y1="392.30" x2="498.40" y2="395.10" stroke="#151515" stroke-width="1.0" />
<text x="498.40" y="404.00" font-size="7.8" text-anchor="middle" fill="#1c1c1c" stroke="#1c1c1c" stroke-width="0.26" >30</text>
<text x="464.50" y="416.30" font-size="9.3" text-anchor="middle" fill="#1c1c1c" stroke="#1c1c1c" stroke-width="0.28" >min</text>
<text x="424.80" y="332.00" font-size="7.2" text-anchor="start" fill="#1c1c1c" stroke="#1c1c1c" stroke-width="0.26" textLength="31.7" lengthAdjust="spacingAndGlyphs" ><tspan font-style="italic">P</tspan>=0.0142</text>
<line x1="430.60" y1="376.93" x2="430.60" y2="382.84" stroke="#1a1a1a" stroke-width="0.9" />
<line x1="428.80" y1="376.93" x2="432.40" y2="376.93" stroke="#1a1a1a" stroke-width="0.9" />
<line x1="428.80" y1="382.84" x2="432.40" y2="382.84" stroke="#1a1a1a" stroke-width="0.9" />
<line x1="453.10" y1="364.52" x2="453.10" y2="377.53" stroke="#1a1a1a" stroke-width="0.9" />
<line x1="451.30" y1="364.52" x2="454.90" y2="364.52" stroke="#1a1a1a" stroke-width="0.9" />
<line x1="451.30" y1="377.53" x2="454.90" y2="377.53" stroke="#1a1a1a" stroke-width="0.9" />
<line x1="476.10" y1="363.93" x2="476.10" y2="376.93" stroke="#1a1a1a" stroke-width="0.9" />
<line x1="474.30" y1="363.93" x2="477.90" y2="363.93" stroke="#1a1a1a" stroke-width="0.9" />
<line x1="474.30" y1="376.93" x2="477.90" y2="376.93" stroke="#1a1a1a" stroke-width="0.9" />
<line x1="498.40" y1="367.48" x2="498.40" y2="379.30" stroke="#1a1a1a" stroke-width="0.9" />
<line x1="496.60" y1="367.48" x2="500.20" y2="367.48" stroke="#1a1a1a" stroke-width="0.9" />
<line x1="496.60" y1="379.30" x2="500.20" y2="379.30" stroke="#1a1a1a" stroke-width="0.9" />
<path d="M430.60,379.89 L453.10,371.62 L476.10,370.43 L498.40,373.39" fill="none" stroke="#a8062e" stroke-width="1.9"/>
<circle cx="430.60" cy="379.89" r="2.3" fill="#a8062e"/>
<circle cx="453.10" cy="371.62" r="2.3" fill="#a8062e"/>
<circle cx="476.10" cy="370.43" r="2.3" fill="#a8062e"/>
<circle cx="498.40" cy="373.39" r="2.3" fill="#a8062e"/>
<line x1="430.60" y1="363.93" x2="430.60" y2="372.80" stroke="#1a1a1a" stroke-width="0.9" />
<line x1="428.80" y1="363.93" x2="432.40" y2="363.93" stroke="#1a1a1a" stroke-width="0.9" />
<line x1="428.80" y1="372.80" x2="432.40" y2="372.80" stroke="#1a1a1a" stroke-width="0.9" />
<line x1="453.10" y1="336.15" x2="453.10" y2="346.20" stroke="#1a1a1a" stroke-width="0.9" />
<line x1="451.30" y1="336.15" x2="454.90" y2="336.15" stroke="#1a1a1a" stroke-width="0.9" />
<line x1="451.30" y1="346.20" x2="454.90" y2="346.20" stroke="#1a1a1a" stroke-width="0.9" />
<line x1="476.10" y1="336.15" x2="476.10" y2="340.88" stroke="#1a1a1a" stroke-width="0.9" />
<line x1="474.30" y1="336.15" x2="477.90" y2="336.15" stroke="#1a1a1a" stroke-width="0.9" />
<line x1="474.30" y1="340.88" x2="477.90" y2="340.88" stroke="#1a1a1a" stroke-width="0.9" />
<line x1="498.40" y1="335.56" x2="498.40" y2="339.70" stroke="#1a1a1a" stroke-width="0.9" />
<line x1="496.60" y1="335.56" x2="500.20" y2="335.56" stroke="#1a1a1a" stroke-width="0.9" />
<line x1="496.60" y1="339.70" x2="500.20" y2="339.70" stroke="#1a1a1a" stroke-width="0.9" />
<path d="M430.60,368.66 L453.10,340.88 L476.10,338.52 L498.40,337.34" fill="none" stroke="#2e4d7e" stroke-width="1.7" stroke-dasharray="3.8,2.0"/>
<circle cx="430.60" cy="368.66" r="2.1" fill="#2e4d7e"/>
<circle cx="453.10" cy="340.88" r="2.1" fill="#2e4d7e"/>
<circle cx="476.10" cy="338.52" r="2.1" fill="#2e4d7e"/>
<circle cx="498.40" cy="337.34" r="2.1" fill="#2e4d7e"/>
<line x1="482.5" y1="346.7" x2="493.5" y2="346.7" stroke="#2e4d7e" stroke-width="1.4" stroke-dasharray="2.4,1.4"/>
<circle cx="488" cy="346.7" r="1.7" fill="#2e4d7e"/>
<text x="495.50" y="349.30" font-size="7.2" text-anchor="start" fill="#1c1c1c" stroke="#1c1c1c" stroke-width="0.26" >WT</text>
<line x1="482.00" y1="354.20" x2="493.50" y2="354.20" stroke="#a8062e" stroke-width="1.8" />
<circle cx="488" cy="354.2" r="2.0" fill="#a8062e"/>
<text x="495.50" y="356.80" font-size="7.2" text-anchor="start" fill="#1c1c1c" stroke="#1c1c1c" stroke-width="0.26" >th3/+</text>
<text x="394.90" y="383.60" font-size="9.6" text-anchor="start" fill="#1c1c1c" stroke="#1c1c1c" stroke-width="0.28" textLength="37.0" lengthAdjust="spacingAndGlyphs" transform="rotate(-90 394.90 383.60)" >% CD11b</text>
<text x="390.60" y="345.30" font-size="6.0" text-anchor="start" fill="#1c1c1c" stroke="#1c1c1c" stroke-width="0.16" textLength="4.4" lengthAdjust="spacingAndGlyphs" transform="rotate(-90 390.60 345.30)" >hi</text>
<text x="385.60" y="427.90" font-size="10.5" text-anchor="start" fill="#111" stroke="#111" stroke-width="0.28" font-weight="bold" >J</text>
<line x1="417.60" y1="431.50" x2="417.60" y2="499.40" stroke="#151515" stroke-width="1.3" />
<line x1="414.60" y1="498.80" x2="417.60" y2="498.80" stroke="#151515" stroke-width="1.0" />
<text x="412.20" y="501.50" font-size="7.6" text-anchor="end" fill="#1c1c1c" stroke="#1c1c1c" stroke-width="0.26" >0</text>
<line x1="414.60" y1="482.23" x2="417.60" y2="482.23" stroke="#151515" stroke-width="1.0" />
<text x="412.20" y="484.93" font-size="7.6" text-anchor="end" fill="#1c1c1c" stroke="#1c1c1c" stroke-width="0.26" >20</text>
<line x1="414.60" y1="465.65" x2="417.60" y2="465.65" stroke="#151515" stroke-width="1.0" />
<text x="412.20" y="468.35" font-size="7.6" text-anchor="end" fill="#1c1c1c" stroke="#1c1c1c" stroke-width="0.26" >40</text>
<line x1="414.60" y1="449.07" x2="417.60" y2="449.07" stroke="#151515" stroke-width="1.0" />
<text x="412.20" y="451.77" font-size="7.6" text-anchor="end" fill="#1c1c1c" stroke="#1c1c1c" stroke-width="0.26" >60</text>
<line x1="414.60" y1="432.50" x2="417.60" y2="432.50" stroke="#151515" stroke-width="1.0" />
<text x="412.20" y="435.20" font-size="7.6" text-anchor="end" fill="#1c1c1c" stroke="#1c1c1c" stroke-width="0.26" >80</text>
<line x1="450.80" y1="446.59" x2="450.80" y2="449.90" stroke="#111" stroke-width="0.9" />
<line x1="448.30" y1="446.59" x2="453.30" y2="446.59" stroke="#111" stroke-width="0.9" />
<rect x="445.60" y="449.90" width="10.40" height="48.90" fill="#a8062e"/>
<line x1="495.00" y1="478.08" x2="495.00" y2="483.88" stroke="#111" stroke-width="0.9" />
<line x1="492.50" y1="478.08" x2="497.50" y2="478.08" stroke="#111" stroke-width="0.9" />
<rect x="489.70" y="483.88" width="10.70" height="14.92" fill="#a8062e"/>
<rect x="476.70" y="497.20" width="10.10" height="1.60" fill="#2b4c80"/>
<line x1="479.00" y1="496.40" x2="484.50" y2="496.40" stroke="#111" stroke-width="0.9" />
<line x1="417.00" y1="498.80" x2="509.90" y2="498.80" stroke="#151515" stroke-width="1.3" />
<line x1="445.60" y1="498.80" x2="445.60" y2="501.40" stroke="#151515" stroke-width="1.0" />
<line x1="487.50" y1="498.80" x2="487.50" y2="501.40" stroke="#151515" stroke-width="1.0" />
<text x="426.20" y="496.20" font-size="7.2" text-anchor="start" fill="#1c1c1c" stroke="#1c1c1c" stroke-width="0.26" textLength="15.3" lengthAdjust="spacingAndGlyphs" >&lt;1%</text>
<text x="442.10" y="509.20" font-size="7.6" text-anchor="middle" fill="#1c1c1c" stroke="#1c1c1c" stroke-width="0.26" >WT</text>
<text x="483.90" y="509.20" font-size="7.6" text-anchor="middle" fill="#1c1c1c" stroke="#1c1c1c" stroke-width="0.26" >th3/+</text>
<line x1="433.80" y1="439.60" x2="450.40" y2="439.60" stroke="#111" stroke-width="1.0" />
<line x1="433.80" y1="437.50" x2="433.80" y2="441.70" stroke="#111" stroke-width="1.0" />
<line x1="450.40" y1="437.50" x2="450.40" y2="441.70" stroke="#111" stroke-width="1.0" />
<text x="426.20" y="435.70" font-size="7.2" text-anchor="start" fill="#1c1c1c" stroke="#1c1c1c" stroke-width="0.26" textLength="31.8" lengthAdjust="spacingAndGlyphs" ><tspan font-style="italic">P</tspan>=0.0003</text>
<rect x="477.60" y="441.80" width="4.60" height="4.50" fill="#a8062e"/>
<text x="485.20" y="446.40" font-size="7.2" text-anchor="start" fill="#1c1c1c" stroke="#1c1c1c" stroke-width="0.26" >CD11b<tspan font-size="5.4" dy="-3.0">hi</tspan></text>
<rect x="477.60" y="451.40" width="4.60" height="4.50" fill="#2b4c80"/>
<text x="485.20" y="456.00" font-size="7.2" text-anchor="start" fill="#1c1c1c" stroke="#1c1c1c" stroke-width="0.26" >CD11b<tspan font-size="5.4" dy="-3.0">low</tspan></text>
<text x="394.30" y="463.50" font-size="8.3" text-anchor="middle" fill="#1c1c1c" stroke="#1c1c1c" stroke-width="0.28" textLength="59.5" lengthAdjust="spacingAndGlyphs" transform="rotate(-90 394.30 463.50)" >% phagocytosis</text>
<rect x="0" y="0" width="520" height="1.5" fill="#000"/>
<rect x="0" y="533.5" width="520" height="1.5" fill="#000"/>
<rect x="0" y="0" width="1.5" height="535" fill="#000"/>
<rect x="518.5" y="0" width="1.5" height="535" fill="#000"/>
</svg>
</body></html>
